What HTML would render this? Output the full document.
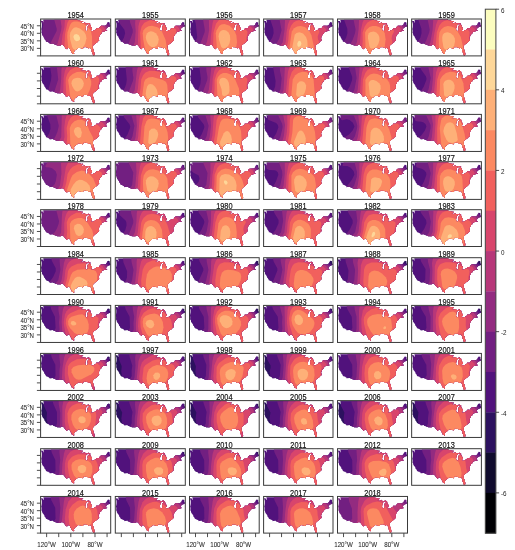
<!DOCTYPE html>
<html><head><meta charset="utf-8"><style>
html,body{margin:0;padding:0;background:#fff;width:515px;height:550px;overflow:hidden}
svg{display:block;filter:blur(0.3px)}
text{font-family:"Liberation Sans",sans-serif;fill:#111;stroke:#111;stroke-width:0.22px}
.t{font-size:7.4px;text-anchor:middle;stroke-width:0.15px}
.yl{font-size:6.2px;text-anchor:end;stroke-width:0.05px;fill:#262626;stroke:#262626}
.xl{font-size:6.2px;text-anchor:middle;stroke-width:0.05px;fill:#262626;stroke:#262626}
.cl{font-size:6.3px;stroke-width:0;fill:#222}
.k{stroke:#3a3a3a;stroke-width:0.9}
</style></head><body>
<svg width="515" height="550" viewBox="0 0 515 550">
<defs><clipPath id="us"><path d="M0.36,1.68 1.33,1.95 2.41,2.03 2.72,2.85 2.53,3.60 3.08,3.45 3.20,2.40 2.96,1.50 2.72,0.75 36.03,0.75 36.03,0.18 36.42,0.27 36.64,1.14 38.02,1.43 39.10,1.58 40.43,2.15 41.52,2.10 42.72,2.25 41.88,2.63 40.43,3.60 39.71,4.13 40.79,3.98 41.28,3.83 41.76,4.40 42.97,3.98 44.17,3.60 44.78,3.08 44.05,3.91 45.14,4.58 46.34,4.58 47.19,4.24 48.28,4.12 48.76,4.58 49.36,4.46 49.48,4.96 49.97,5.26 49.24,5.33 48.58,5.45 47.67,5.11 46.71,5.33 46.34,5.71 45.86,5.63 45.14,6.61 44.66,7.44 45.14,6.98 45.74,6.38 45.14,7.36 44.90,8.11 44.66,9.01 44.53,9.76 44.66,10.66 44.96,11.79 45.62,12.02 46.59,11.79 46.95,10.96 47.19,10.06 47.13,9.31 46.95,8.34 47.13,7.36 47.31,6.83 47.67,6.46 47.61,7.06 47.91,6.31 48.28,6.01 48.58,5.59 49.24,5.86 50.09,6.31 50.27,6.91 50.33,7.81 49.60,8.79 50.21,8.41 50.75,8.19 51.29,8.86 51.35,9.76 51.29,10.36 50.57,10.89 50.15,11.64 51.05,12.09 52.26,12.02 53.71,11.34 54.55,10.89 55.64,9.99 55.46,9.39 56.72,9.24 57.93,9.31 58.78,9.01 58.90,8.34 59.38,7.66 60.34,6.83 60.71,6.76 64.57,6.74 65.05,6.31 65.41,6.16 66.02,5.41 66.38,4.21 67.34,3.08 68.43,3.23 69.03,3.65 69.06,5.71 69.46,5.86 70.00,6.91 68.91,7.66 67.83,7.81 66.98,8.41 66.14,8.86 65.53,9.69 65.41,10.36 65.17,10.81 65.66,11.34 66.38,11.19 66.44,11.72 65.78,11.94 64.69,12.09 63.36,12.39 62.03,12.77 60.95,13.37 61.07,13.52 60.83,14.57 59.86,15.17 59.20,15.88 59.08,16.52 58.66,17.27 58.05,18.63 57.93,18.93 58.17,19.98 58.53,21.40 57.33,22.31 56.36,23.43 54.91,24.33 53.83,25.23 52.62,26.29 52.14,27.49 52.08,28.69 52.68,30.49 53.22,31.69 53.41,32.89 53.83,34.25 53.77,35.60 53.41,36.50 52.56,36.57 52.14,35.15 51.66,33.95 51.05,32.74 51.05,31.54 51.05,30.79 50.33,30.04 49.84,28.76 49.12,28.61 48.28,29.21 47.79,29.14 46.59,28.09 45.26,28.24 44.66,27.64 44.05,28.16 42.97,27.79 42.72,28.24 42.48,29.29 42.00,29.59 40.79,29.29 39.47,28.91 37.66,28.69 36.57,29.59 35.60,30.49 34.40,31.24 33.79,31.99 33.31,32.89 33.55,34.70 33.19,34.85 32.22,34.40 31.26,33.80 30.78,32.29 29.81,31.09 29.39,29.89 28.48,28.88 27.28,28.84 26.91,28.99 26.43,30.09 25.59,29.59 24.74,29.06 24.26,28.09 22.93,26.44 22.33,25.87 20.28,25.87 20.28,26.54 16.81,26.54 12.31,24.78 12.43,24.45 9.51,24.74 9.35,25.08 9.17,24.48 8.45,23.73 7.97,23.66 7.84,23.28 7.00,23.06 6.03,22.61 5.31,22.46 5.25,21.78 4.83,21.03 3.74,19.83 3.86,19.08 3.14,18.48 3.02,17.57 2.41,17.27 1.57,15.92 1.39,14.57 0.78,13.82 0.97,12.77 0.97,11.27 0.60,10.06 0.97,8.86 1.21,7.36 1.27,4.96 1.09,3.91 0.48,2.40Z"/></clipPath><clipPath id="pb"><rect x="0" y="0" width="70.0" height="36.8"/></clipPath></defs>
<g transform="translate(40.60,19.00)"><g transform="scale(1.0014,1.0027)"><g clip-path="url(#pb)"><g clip-path="url(#us)"><path fill="#51127c" fill-rule="evenodd" d="M-5,-5H75V45H-5Z"/><path fill="#721f81" fill-rule="evenodd" d="M0.0,38.3 70.6,38.3 70.6,6.3 68.8,5.7 67.5,4.5 67.1,2.3 67.4,-0.8 -0.6,-0.8 -0.6,0.6 2.2,4.5 2.6,6.0 1.6,12.0 2.4,19.5 1.3,21.0 -0.6,21.7 -0.6,38.3 0.0,38.3Z"/><path fill="#932b80" fill-rule="evenodd" d="M0.0,38.3 70.6,38.3 70.6,9.9 68.2,8.4 65.9,6.0 64.3,3.0 63.3,-0.8 13.2,-0.8 16.1,9.8 16.0,12.0 8.4,26.9 4.2,32.0 -0.6,36.4 -0.6,38.3 0.0,38.3Z"/><path fill="#b73779" fill-rule="evenodd" d="M10.3,38.3 70.6,38.3 70.6,15.0 62.0,3.8 59.4,-0.8 19.7,-0.8 20.9,7.5 20.5,11.3 17.1,24.0 10.3,38.3Z"/><path fill="#d8456c" fill-rule="evenodd" d="M18.1,38.3 70.6,38.3 70.6,29.1 67.2,21.8 65.0,12.0 63.7,9.0 56.5,2.3 54.1,-0.8 24.4,-0.8 23.8,8.3 21.9,15.8 20.9,24.8 18.0,36.0 17.7,38.3 18.1,38.3Z"/><path fill="#f1605d" fill-rule="evenodd" d="M24.1,38.3 61.6,38.3 60.9,30.8 58.0,19.5 61.0,13.5 61.1,11.3 60.3,9.9 53.7,5.7 45.9,-0.8 29.3,-0.8 26.8,3.8 24.4,15.0 23.6,31.5 24.1,38.3Z"/><path fill="#fc8961" fill-rule="evenodd" d="M31.4,38.1 49.1,38.3 51.6,32.3 51.3,17.3 50.2,12.0 48.1,9.0 44.7,6.1 40.4,3.5 36.8,2.4 33.2,2.5 30.8,3.8 29.4,6.0 26.8,13.5 26.6,18.0 27.6,30.0 28.8,33.8 31.4,38.1Z"/><path fill="#feb078" fill-rule="evenodd" d="M34.4,30.8 38.0,31.2 41.6,29.4 44.5,24.8 45.8,19.5 45.2,15.8 43.4,12.8 39.2,9.4 35.6,8.2 33.2,8.8 31.4,10.6 29.7,13.5 29.2,16.5 29.5,20.3 31.5,27.8 32.6,29.7 34.4,30.8Z"/><path fill="#fed799" fill-rule="evenodd" d="M35.6,22.1 38.0,21.8 39.2,20.3 39.4,18.8 38.0,16.0 35.6,15.0 33.5,15.8 32.7,18.0 33.8,20.6 35.6,22.1Z"/></g></g></g><rect x="0" y="0" width="70.10" height="36.90" fill="none" stroke="#3a3a3a" stroke-width="1"/></g>
<text transform="translate(75.65,18.20) scale(1,1.14)" class="t">1954</text>
<line x1="36.90" x2="40.60" y1="25.78" y2="25.78" class="k"/>
<text transform="translate(34.00,28.68) scale(0.98,1.12)" class="yl">45&#176;N</text>
<line x1="36.90" x2="40.60" y1="33.31" y2="33.31" class="k"/>
<text transform="translate(34.00,36.21) scale(0.98,1.12)" class="yl">40&#176;N</text>
<line x1="36.90" x2="40.60" y1="40.84" y2="40.84" class="k"/>
<text transform="translate(34.00,43.74) scale(0.98,1.12)" class="yl">35&#176;N</text>
<line x1="36.90" x2="40.60" y1="48.37" y2="48.37" class="k"/>
<text transform="translate(34.00,51.27) scale(0.98,1.12)" class="yl">30&#176;N</text>
<line x1="36.90" x2="40.60" y1="55.90" y2="55.90" class="k"/>
<g transform="translate(115.30,19.00)"><g transform="scale(1.0000,1.0027)"><g clip-path="url(#pb)"><g clip-path="url(#us)"><path fill="#51127c" fill-rule="evenodd" d="M-5,-5H75V45H-5Z"/><path fill="#721f81" fill-rule="evenodd" d="M0.0,38.3 70.6,38.3 70.6,6.2 68.8,5.7 67.5,4.5 67.0,3.0 67.1,-0.8 3.6,-0.8 4.4,4.5 9.1,10.6 9.8,14.3 8.6,18.8 6.6,22.2 3.6,24.7 -0.6,26.8 -0.6,38.3 0.0,38.3Z"/><path fill="#932b80" fill-rule="evenodd" d="M3.6,38.3 70.6,38.3 70.6,9.6 68.2,8.2 65.9,6.0 64.1,3.0 62.8,-0.8 14.0,-0.8 14.9,3.8 17.4,10.5 17.4,13.5 13.3,24.8 3.6,38.3Z"/><path fill="#b73779" fill-rule="evenodd" d="M13.9,38.3 70.6,38.3 70.6,14.3 58.4,-0.8 20.2,-0.8 19.8,4.5 20.4,12.0 19.5,23.3 14.3,36.0 13.9,38.3Z"/><path fill="#d8456c" fill-rule="evenodd" d="M20.5,38.3 70.6,38.3 70.6,26.3 67.8,21.0 63.7,9.0 51.5,-0.8 25.9,-0.8 23.9,3.8 23.1,7.5 22.6,24.0 20.5,38.3Z"/><path fill="#f1605d" fill-rule="evenodd" d="M27.2,38.3 62.5,38.3 61.6,30.0 58.3,19.5 61.2,13.5 60.8,10.5 59.1,9.3 53.1,7.4 45.3,2.9 40.4,1.2 34.4,1.2 29.0,3.7 26.3,7.5 24.8,13.5 25.7,32.3 26.8,38.3 27.2,38.3Z"/><path fill="#fc8961" fill-rule="evenodd" d="M35.6,37.8 36.1,38.3 47.8,38.3 50.7,34.5 51.8,30.8 50.3,21.0 46.5,12.1 44.7,10.0 42.2,8.3 36.8,6.8 33.2,7.3 30.2,9.0 28.2,11.3 27.4,14.3 27.9,20.3 29.6,30.0 31.4,33.4 35.6,37.8Z"/><path fill="#feb078" fill-rule="evenodd" d="M36.2,27.8 39.2,27.9 41.6,26.3 42.9,24.0 43.4,20.3 42.6,17.3 40.5,14.3 38.0,12.7 35.6,12.3 33.2,13.0 31.8,14.3 30.8,16.5 30.5,18.8 31.2,21.8 32.6,24.6 34.4,26.8 36.2,27.8Z"/></g></g></g><rect x="0" y="0" width="70.00" height="36.90" fill="none" stroke="#3a3a3a" stroke-width="1"/></g>
<text transform="translate(150.30,18.20) scale(1,1.14)" class="t">1955</text>
<g transform="translate(189.50,19.00)"><g transform="scale(0.9957,1.0027)"><g clip-path="url(#pb)"><g clip-path="url(#us)"><path fill="#51127c" fill-rule="evenodd" d="M-5,-5H75V45H-5Z"/><path fill="#721f81" fill-rule="evenodd" d="M0.0,38.3 70.6,38.3 70.6,6.3 68.8,5.8 67.4,4.5 66.9,2.3 67.0,-0.8 4.6,-0.8 6.3,4.5 7.7,18.0 7.0,20.3 5.4,22.5 3.0,24.4 -0.6,26.1 -0.6,38.3 0.0,38.3Z"/><path fill="#932b80" fill-rule="evenodd" d="M1.8,38.3 70.6,38.3 70.6,10.0 68.2,8.6 65.7,6.0 63.9,3.0 62.6,-0.8 13.4,-0.8 15.4,11.3 15.1,13.5 10.3,26.0 2.3,36.8 1.4,38.3 1.8,38.3Z"/><path fill="#b73779" fill-rule="evenodd" d="M11.5,38.3 70.6,38.3 70.6,15.6 58.0,-0.8 19.4,-0.8 19.7,11.3 17.6,22.5 12.0,36.0 11.5,38.3Z"/><path fill="#d8456c" fill-rule="evenodd" d="M18.7,38.3 70.6,38.3 70.6,33.5 67.0,23.7 63.5,9.8 62.2,8.3 54.9,3.0 51.3,-0.8 24.6,-0.8 23.1,4.5 21.5,16.5 21.1,24.0 18.4,36.0 18.2,38.3 18.7,38.3Z"/><path fill="#f1605d" fill-rule="evenodd" d="M24.7,38.3 57.7,38.3 58.0,30.0 57.1,19.5 58.3,13.5 57.9,12.0 45.8,3.0 39.6,-0.8 32.2,-0.8 29.6,1.0 26.6,4.7 24.1,13.5 23.6,31.5 24.7,38.3Z"/><path fill="#fc8961" fill-rule="evenodd" d="M32.6,37.7 33.2,38.3 41.9,38.3 44.7,35.3 46.2,32.3 47.7,23.3 47.1,16.5 45.0,11.3 40.3,6.8 35.0,5.0 32.0,5.4 30.0,6.8 27.2,11.2 26.4,14.3 27.7,30.8 29.6,34.6 32.6,37.7Z"/><path fill="#feb078" fill-rule="evenodd" d="M33.8,29.3 36.2,29.0 38.7,27.0 40.3,24.0 40.9,20.3 40.6,16.5 39.2,13.5 36.8,11.5 34.4,11.0 32.6,11.3 30.6,12.8 29.6,14.6 29.2,17.3 29.7,21.0 31.9,27.8 33.8,29.3Z"/><path fill="#fed799" fill-rule="evenodd" d="M33.8,18.3 34.3,18.0 33.8,17.9 33.8,18.3Z"/></g></g></g><rect x="0" y="0" width="69.70" height="36.90" fill="none" stroke="#3a3a3a" stroke-width="1"/></g>
<text transform="translate(224.35,18.20) scale(1,1.14)" class="t">1956</text>
<g transform="translate(263.60,19.00)"><g transform="scale(0.9914,1.0027)"><g clip-path="url(#pb)"><g clip-path="url(#us)"><path fill="#51127c" fill-rule="evenodd" d="M-5,-5H75V45H-5Z"/><path fill="#721f81" fill-rule="evenodd" d="M0.0,38.3 70.6,38.3 70.6,8.0 68.2,6.9 66.5,5.3 65.6,3.0 65.0,-0.8 6.2,-0.8 9.8,9.8 10.1,14.3 8.7,18.8 6.6,21.8 3.6,23.8 -0.6,25.0 -0.6,38.3 0.0,38.3Z"/><path fill="#932b80" fill-rule="evenodd" d="M0.0,38.3 70.6,38.3 70.6,11.8 64.8,6.0 61.2,-0.8 15.8,-0.8 18.1,11.3 15.7,19.7 13.7,23.3 10.3,27.4 4.8,32.3 -0.6,36.3 -0.6,38.3 0.0,38.3Z"/><path fill="#b73779" fill-rule="evenodd" d="M9.7,38.3 70.6,38.3 70.6,18.8 68.8,16.4 64.4,8.3 56.6,-0.8 21.7,-0.8 21.1,11.3 19.3,23.3 10.6,36.0 9.7,38.3Z"/><path fill="#d8456c" fill-rule="evenodd" d="M16.9,38.3 70.6,38.3 70.6,33.6 66.3,26.3 63.8,20.3 63.4,12.0 62.7,9.8 49.6,-0.8 27.2,-0.8 24.6,5.3 23.1,13.5 22.3,22.9 16.9,36.0 16.3,38.3 16.9,38.3Z"/><path fill="#f1605d" fill-rule="evenodd" d="M21.7,38.3 61.4,38.3 59.4,30.8 54.8,20.3 54.6,17.3 56.3,12.8 55.6,11.3 47.1,4.6 41.6,2.0 35.6,1.3 32.6,2.1 30.2,3.4 27.8,6.5 25.6,12.0 24.9,21.8 22.3,32.3 21.7,38.3Z"/><path fill="#fc8961" fill-rule="evenodd" d="M27.2,38.3 51.5,38.3 51.6,31.5 48.3,16.5 45.9,11.6 41.6,8.1 37.4,7.1 33.8,7.4 30.8,9.3 28.4,12.4 25.9,30.0 26.0,33.8 27.2,38.3Z"/><path fill="#feb078" fill-rule="evenodd" d="M35.0,37.0 38.6,37.1 41.6,35.3 43.6,32.3 44.4,27.8 44.1,21.8 42.8,17.9 39.8,14.5 36.2,13.3 33.2,13.9 31.4,15.8 29.0,27.8 29.2,30.8 30.2,33.0 32.6,35.6 35.0,37.0Z"/><path fill="#fed799" fill-rule="evenodd" d="M35.6,27.8 37.4,26.7 38.1,24.8 37.5,22.5 36.2,21.8 34.8,22.5 34.0,24.8 34.2,27.0 35.6,27.8Z"/></g></g></g><rect x="0" y="0" width="69.40" height="36.90" fill="none" stroke="#3a3a3a" stroke-width="1"/></g>
<text transform="translate(298.30,18.20) scale(1,1.14)" class="t">1957</text>
<g transform="translate(337.50,19.00)"><g transform="scale(1.0000,1.0027)"><g clip-path="url(#pb)"><g clip-path="url(#us)"><path fill="#51127c" fill-rule="evenodd" d="M-5,-5H75V45H-5Z"/><path fill="#721f81" fill-rule="evenodd" d="M0.0,38.3 70.6,38.3 70.6,6.4 68.8,5.9 67.4,4.5 66.9,2.3 67.0,-0.8 6.0,-0.8 9.8,9.8 9.9,14.3 8.6,18.8 6.6,22.0 3.6,24.3 -0.6,26.0 -0.6,38.3 0.0,38.3Z"/><path fill="#932b80" fill-rule="evenodd" d="M1.8,38.3 70.6,38.3 70.6,10.3 68.2,8.7 65.7,6.0 62.7,-0.8 15.7,-0.8 18.1,10.5 17.5,14.3 15.1,20.9 13.0,24.8 1.8,38.3Z"/><path fill="#b73779" fill-rule="evenodd" d="M12.7,38.3 70.6,38.3 70.6,17.1 65.1,8.3 58.1,-0.8 21.6,-0.8 21.1,10.5 19.4,23.3 13.0,36.0 12.1,38.3 12.7,38.3Z"/><path fill="#d8456c" fill-rule="evenodd" d="M19.3,38.3 69.8,38.3 64.3,22.5 63.9,19.5 64.0,12.0 62.9,9.0 55.0,3.0 51.1,-0.8 27.1,-0.8 25.0,3.8 23.4,11.3 22.5,23.3 19.5,34.5 19.0,38.3 19.3,38.3Z"/><path fill="#f1605d" fill-rule="evenodd" d="M25.3,38.3 56.9,38.3 56.6,31.5 54.1,19.5 54.6,16.5 56.5,12.8 56.2,11.3 47.7,4.5 41.0,1.4 38.0,0.9 35.0,1.1 32.0,2.2 29.7,3.8 27.2,7.5 25.1,13.5 25.2,22.5 24.3,32.3 24.9,38.3 25.3,38.3Z"/><path fill="#fc8961" fill-rule="evenodd" d="M32.6,37.9 33.0,38.3 42.9,38.3 45.7,34.5 46.9,30.8 48.1,20.3 47.2,14.3 46.1,12.0 44.1,9.6 41.6,8.0 38.6,7.0 35.0,6.9 32.0,7.9 29.0,10.7 27.6,13.5 28.1,30.8 29.6,34.4 32.6,37.9Z"/><path fill="#feb078" fill-rule="evenodd" d="M33.8,29.5 36.2,29.5 38.9,27.8 40.9,24.8 42.0,21.0 41.8,18.0 40.9,15.8 38.8,13.5 36.2,12.5 32.6,13.3 31.4,14.3 30.5,16.5 30.5,19.5 32.0,27.3 32.6,28.7 33.8,29.5Z"/></g></g></g><rect x="0" y="0" width="70.00" height="36.90" fill="none" stroke="#3a3a3a" stroke-width="1"/></g>
<text transform="translate(372.50,18.20) scale(1,1.14)" class="t">1958</text>
<g transform="translate(411.65,19.00)"><g transform="scale(0.9964,1.0027)"><g clip-path="url(#pb)"><g clip-path="url(#us)"><path fill="#51127c" fill-rule="evenodd" d="M-5,-5H75V45H-5Z"/><path fill="#721f81" fill-rule="evenodd" d="M0.0,38.3 70.6,38.3 70.6,6.2 68.8,5.8 67.4,4.5 66.8,2.3 66.9,-0.8 6.1,-0.8 9.8,9.8 9.9,14.3 8.7,18.8 6.6,22.0 3.6,24.2 -0.6,25.8 -0.6,38.3 0.0,38.3Z"/><path fill="#932b80" fill-rule="evenodd" d="M1.2,38.3 70.6,38.3 70.6,9.9 68.2,8.5 65.7,6.0 62.4,-0.8 15.8,-0.8 18.1,10.5 17.6,13.5 14.5,21.8 12.8,24.8 0.7,38.3 1.2,38.3Z"/><path fill="#b73779" fill-rule="evenodd" d="M11.5,38.3 70.6,38.3 70.6,15.0 57.6,-0.8 21.7,-0.8 21.1,10.5 18.7,23.6 11.5,38.3Z"/><path fill="#d8456c" fill-rule="evenodd" d="M18.7,38.3 70.6,38.3 70.6,27.0 66.8,20.3 63.4,9.6 54.4,3.0 50.4,-0.8 27.1,-0.8 24.6,5.3 22.5,15.8 21.2,25.5 18.4,36.8 18.2,38.3 18.7,38.3Z"/><path fill="#f1605d" fill-rule="evenodd" d="M24.1,38.3 62.9,38.3 61.3,29.3 57.5,18.8 58.2,13.5 57.7,12.0 46.5,4.0 41.6,1.8 35.6,1.2 32.6,2.0 30.2,3.4 27.8,6.5 25.2,13.5 23.8,30.8 24.1,38.3Z"/><path fill="#fc8961" fill-rule="evenodd" d="M30.8,37.7 31.1,38.3 49.9,38.3 51.3,34.5 51.8,31.5 51.6,27.8 49.3,18.0 45.3,10.9 42.8,8.8 39.8,7.4 36.2,7.0 32.6,7.9 29.6,10.5 27.9,13.5 27.2,19.5 27.4,29.3 28.4,33.1 30.8,37.7Z"/><path fill="#feb078" fill-rule="evenodd" d="M35.0,30.8 38.0,30.9 40.8,29.3 42.7,26.3 43.5,22.5 43.3,19.5 41.8,16.5 39.2,14.2 36.2,13.2 34.4,13.4 32.5,14.3 31.3,15.8 30.7,18.0 30.8,21.8 32.0,28.5 33.2,30.0 35.0,30.8Z"/></g></g></g><rect x="0" y="0" width="69.75" height="36.90" fill="none" stroke="#3a3a3a" stroke-width="1"/></g>
<text transform="translate(446.52,18.20) scale(1,1.14)" class="t">1959</text>
<g transform="translate(40.60,66.40)"><g transform="scale(1.0014,1.0163)"><g clip-path="url(#pb)"><g clip-path="url(#us)"><path fill="#51127c" fill-rule="evenodd" d="M-5,-5H75V45H-5Z"/><path fill="#721f81" fill-rule="evenodd" d="M0.0,38.3 70.6,38.3 70.6,8.0 68.2,6.9 66.5,5.3 65.6,3.0 65.2,-0.8 9.3,-0.8 10.8,9.0 10.4,13.5 7.2,24.9 4.2,29.0 -0.6,33.3 -0.6,38.3 0.0,38.3Z"/><path fill="#932b80" fill-rule="evenodd" d="M7.8,38.3 70.6,38.3 70.6,11.7 67.6,9.2 64.9,6.0 61.6,-0.8 16.1,-0.8 17.6,12.8 13.5,25.5 8.0,36.8 7.5,38.3 7.8,38.3Z"/><path fill="#b73779" fill-rule="evenodd" d="M15.7,38.3 70.6,38.3 70.6,18.6 65.0,9.0 59.8,3.0 57.4,-0.8 21.4,-0.8 20.7,3.8 20.6,12.0 19.5,23.3 15.8,35.3 15.1,38.3 15.7,38.3Z"/><path fill="#d8456c" fill-rule="evenodd" d="M21.7,38.3 68.4,38.3 62.7,9.8 51.7,-0.8 26.7,-0.8 24.2,4.5 23.0,11.3 22.7,23.3 21.4,33.8 21.7,38.3Z"/><path fill="#f1605d" fill-rule="evenodd" d="M27.8,38.3 56.1,38.3 57.3,31.5 57.2,19.5 58.5,14.3 58.4,12.0 57.4,10.5 50.7,4.9 44.7,1.1 39.8,-0.4 35.0,0.4 29.3,3.8 26.6,7.8 25.2,12.0 25.0,15.8 25.8,31.5 27.8,38.3Z"/><path fill="#fc8961" fill-rule="evenodd" d="M36.8,35.3 41.0,34.9 44.7,32.3 49.1,23.3 50.5,18.0 50.5,14.3 48.7,10.5 44.7,6.8 40.4,5.3 36.2,5.6 32.0,7.5 29.0,10.2 27.5,13.5 29.7,30.0 30.8,31.9 32.6,33.6 36.8,35.3Z"/><path fill="#feb078" fill-rule="evenodd" d="M35.0,24.1 36.8,24.6 39.2,23.8 41.4,21.8 42.8,19.3 43.1,16.5 42.4,14.3 41.0,12.5 39.2,11.5 36.8,11.1 34.4,11.6 32.6,12.5 31.2,14.3 30.8,16.5 31.4,19.0 33.2,22.3 35.0,24.1Z"/></g></g></g><rect x="0" y="0" width="70.10" height="37.40" fill="none" stroke="#3a3a3a" stroke-width="1"/></g>
<text transform="translate(75.65,65.60) scale(1,1.14)" class="t">1960</text>
<line x1="36.90" x2="40.60" y1="73.27" y2="73.27" class="k"/>
<line x1="36.90" x2="40.60" y1="80.90" y2="80.90" class="k"/>
<line x1="36.90" x2="40.60" y1="88.53" y2="88.53" class="k"/>
<line x1="36.90" x2="40.60" y1="96.17" y2="96.17" class="k"/>
<line x1="36.90" x2="40.60" y1="103.80" y2="103.80" class="k"/>
<g transform="translate(115.30,66.40)"><g transform="scale(1.0000,1.0163)"><g clip-path="url(#pb)"><g clip-path="url(#us)"><path fill="#51127c" fill-rule="evenodd" d="M-5,-5H75V45H-5Z"/><path fill="#721f81" fill-rule="evenodd" d="M0.0,38.3 70.6,38.3 70.6,7.6 68.2,6.7 66.7,5.3 65.6,3.0 64.8,-0.8 10.1,-0.8 11.5,12.8 10.9,17.3 9.6,21.0 7.2,24.7 3.6,27.8 -0.6,30.3 -0.6,38.3 0.0,38.3Z"/><path fill="#932b80" fill-rule="evenodd" d="M4.2,38.3 70.6,38.3 70.6,10.7 65.7,6.8 61.0,-0.8 17.3,-0.8 17.1,4.5 18.1,11.3 17.6,14.3 13.5,24.8 4.7,36.8 3.8,38.3 4.2,38.3Z"/><path fill="#b73779" fill-rule="evenodd" d="M12.1,38.3 70.6,38.3 70.6,15.2 64.2,7.5 56.3,-0.8 23.0,-0.8 21.6,4.5 19.4,23.3 12.1,38.3Z"/><path fill="#d8456c" fill-rule="evenodd" d="M18.7,38.3 70.6,38.3 70.6,25.3 68.2,21.0 64.1,10.5 62.8,8.7 60.3,6.9 47.0,-0.8 30.3,-0.8 26.6,2.9 24.7,7.0 23.4,12.8 22.5,22.5 18.9,34.5 18.1,38.3 18.7,38.3Z"/><path fill="#f1605d" fill-rule="evenodd" d="M23.5,38.3 63.9,38.3 61.6,21.0 61.5,13.5 60.3,10.5 55.5,8.3 40.4,4.5 34.4,4.4 30.2,6.1 27.8,8.8 25.9,12.8 25.2,21.8 23.5,31.5 23.5,38.3Z"/><path fill="#fc8961" fill-rule="evenodd" d="M29.6,38.3 50.8,38.3 52.6,26.3 51.9,18.0 50.6,15.0 47.6,13.5 37.4,10.4 33.2,10.8 30.0,12.8 28.7,15.8 27.0,28.5 27.5,33.0 29.6,38.3Z"/><path fill="#feb078" fill-rule="evenodd" d="M35.0,33.1 38.0,33.0 40.3,31.5 41.7,29.3 42.3,26.3 41.7,23.3 39.8,20.0 37.4,17.9 35.0,17.2 33.2,17.8 32.0,19.6 30.9,23.3 30.4,27.0 31.4,30.8 33.2,32.4 35.0,33.1Z"/></g></g></g><rect x="0" y="0" width="70.00" height="37.40" fill="none" stroke="#3a3a3a" stroke-width="1"/></g>
<text transform="translate(150.30,65.60) scale(1,1.14)" class="t">1961</text>
<g transform="translate(189.50,66.40)"><g transform="scale(0.9957,1.0163)"><g clip-path="url(#pb)"><g clip-path="url(#us)"><path fill="#51127c" fill-rule="evenodd" d="M-5,-5H75V45H-5Z"/><path fill="#721f81" fill-rule="evenodd" d="M0.0,38.3 70.6,38.3 70.6,6.3 68.8,5.8 67.4,4.5 66.8,2.3 66.9,-0.8 9.7,-0.8 11.4,12.0 10.9,17.3 9.3,21.8 7.2,25.0 3.6,28.4 -0.6,31.3 -0.6,38.3 0.0,38.3Z"/><path fill="#932b80" fill-rule="evenodd" d="M5.4,38.3 70.6,38.3 70.6,10.0 68.2,8.5 65.7,6.0 62.4,-0.8 16.7,-0.8 17.0,4.5 18.1,10.6 17.8,13.5 13.3,25.5 5.4,38.3Z"/><path fill="#b73779" fill-rule="evenodd" d="M13.9,38.3 70.6,38.3 70.6,15.5 57.7,-0.8 22.1,-0.8 19.4,23.3 14.3,35.3 13.3,38.3 13.9,38.3Z"/><path fill="#d8456c" fill-rule="evenodd" d="M19.9,38.3 70.6,38.3 70.6,33.3 67.0,23.3 63.4,9.6 54.5,3.0 50.5,-0.8 27.5,-0.8 25.1,3.8 23.4,11.3 22.6,22.5 20.0,33.8 19.4,38.3 19.9,38.3Z"/><path fill="#f1605d" fill-rule="evenodd" d="M25.3,38.3 57.7,38.3 58.4,28.5 57.3,18.8 58.2,13.5 57.9,12.0 46.0,3.8 41.0,1.5 38.0,1.0 35.0,1.3 32.0,2.4 29.6,3.9 27.2,7.3 25.2,13.5 25.2,22.5 24.3,31.5 25.3,38.3Z"/><path fill="#fc8961" fill-rule="evenodd" d="M32.6,38.1 44.0,38.3 47.7,33.0 50.1,27.0 49.6,21.8 45.5,12.0 42.0,8.3 37.4,6.4 33.8,6.6 30.8,8.0 28.6,10.5 27.4,13.5 28.1,30.8 29.6,34.4 32.6,38.1Z"/><path fill="#feb078" fill-rule="evenodd" d="M35.0,29.3 37.5,28.5 39.6,26.3 40.2,24.0 40.0,19.5 39.4,15.8 38.0,13.2 35.6,11.4 33.2,11.1 31.4,11.8 30.4,12.8 29.8,15.8 32.2,22.5 32.8,27.8 33.2,28.7 35.0,29.3Z"/></g></g></g><rect x="0" y="0" width="69.70" height="37.40" fill="none" stroke="#3a3a3a" stroke-width="1"/></g>
<text transform="translate(224.35,65.60) scale(1,1.14)" class="t">1962</text>
<g transform="translate(263.60,66.40)"><g transform="scale(0.9914,1.0163)"><g clip-path="url(#pb)"><g clip-path="url(#us)"><path fill="#51127c" fill-rule="evenodd" d="M-5,-5H75V45H-5Z"/><path fill="#721f81" fill-rule="evenodd" d="M0.0,38.3 70.6,38.3 70.6,6.2 68.8,5.7 67.5,4.5 67.1,2.3 67.4,-0.8 9.2,-0.8 12.1,14.3 11.7,19.5 10.6,22.5 7.8,26.0 3.6,29.5 -0.6,32.1 -0.6,38.3 0.0,38.3Z"/><path fill="#932b80" fill-rule="evenodd" d="M6.6,38.3 70.6,38.3 70.6,9.8 68.2,8.3 65.9,6.0 64.3,3.0 63.2,-0.8 16.2,-0.8 16.6,4.5 18.2,12.0 17.0,22.5 16.0,24.8 7.7,36.0 6.6,38.3Z"/><path fill="#b73779" fill-rule="evenodd" d="M14.5,38.3 70.6,38.3 70.6,14.7 62.0,3.8 59.3,-0.8 21.6,-0.8 20.1,23.3 14.8,36.0 14.1,38.3 14.5,38.3Z"/><path fill="#d8456c" fill-rule="evenodd" d="M19.9,38.3 70.6,38.3 70.6,27.5 67.3,21.0 64.8,11.3 63.7,9.0 53.8,-0.8 26.7,-0.8 24.6,5.3 22.7,23.3 19.9,38.3Z"/><path fill="#f1605d" fill-rule="evenodd" d="M25.3,38.3 62.4,38.3 61.4,30.8 58.1,19.5 61.1,13.5 61.1,11.3 60.3,9.9 48.9,2.3 43.4,-0.8 36.1,-0.8 31.4,2.1 28.4,5.6 25.9,12.8 24.5,30.8 25.3,38.3Z"/><path fill="#fc8961" fill-rule="evenodd" d="M32.0,38.3 49.5,38.3 51.1,34.5 51.8,30.0 50.4,12.8 48.1,9.0 43.4,5.8 39.2,5.3 35.0,6.5 32.0,8.8 29.4,12.8 27.9,29.3 29.0,33.5 32.0,38.3Z"/><path fill="#feb078" fill-rule="evenodd" d="M33.8,29.5 36.2,30.0 38.5,29.3 40.2,27.8 41.6,25.4 42.7,21.8 42.9,18.8 41.6,16.2 39.8,14.8 38.0,14.5 36.2,14.9 33.7,17.3 32.8,27.8 33.8,29.5Z"/></g></g></g><rect x="0" y="0" width="69.40" height="37.40" fill="none" stroke="#3a3a3a" stroke-width="1"/></g>
<text transform="translate(298.30,65.60) scale(1,1.14)" class="t">1963</text>
<g transform="translate(337.50,66.40)"><g transform="scale(1.0000,1.0163)"><g clip-path="url(#pb)"><g clip-path="url(#us)"><path fill="#51127c" fill-rule="evenodd" d="M-5,-5H75V45H-5Z"/><path fill="#721f81" fill-rule="evenodd" d="M0.0,38.3 70.6,38.3 70.6,6.1 68.8,5.6 67.5,4.5 66.9,3.0 67.0,-0.8 10.6,-0.8 14.7,10.5 14.6,13.5 12.1,20.0 9.5,24.0 4.8,28.3 -0.6,31.6 -0.6,38.3 0.0,38.3Z"/><path fill="#932b80" fill-rule="evenodd" d="M6.0,38.3 70.6,38.3 70.6,9.5 68.2,8.2 65.9,6.0 64.1,3.0 62.7,-0.8 17.3,-0.8 19.1,11.3 17.0,22.5 15.7,25.1 6.0,38.3Z"/><path fill="#b73779" fill-rule="evenodd" d="M14.5,38.3 70.6,38.3 70.6,13.7 61.6,3.8 58.4,-0.8 22.3,-0.8 20.2,23.3 14.4,36.8 14.0,38.3 14.5,38.3Z"/><path fill="#d8456c" fill-rule="evenodd" d="M19.9,38.3 70.6,38.3 70.6,23.1 68.8,20.3 63.8,9.0 51.7,-0.8 27.4,-0.8 25.4,3.0 24.5,6.0 23.3,13.5 22.6,24.0 19.9,38.3Z"/><path fill="#f1605d" fill-rule="evenodd" d="M25.3,38.3 64.1,38.3 61.9,20.3 61.8,12.8 60.9,10.5 58.8,9.0 47.1,3.5 41.0,1.4 35.0,1.3 30.2,3.4 27.8,6.4 25.5,12.8 24.6,31.5 25.3,38.3Z"/><path fill="#fc8961" fill-rule="evenodd" d="M32.0,38.2 49.5,38.3 51.9,32.2 52.8,24.0 52.5,18.8 51.7,15.8 49.6,12.8 47.1,10.7 39.8,7.4 36.2,7.0 32.6,7.9 29.6,10.4 27.9,13.5 28.0,30.0 29.2,33.8 32.0,38.2Z"/><path fill="#feb078" fill-rule="evenodd" d="M34.4,30.0 37.4,30.1 40.1,28.5 42.1,25.5 43.2,21.8 43.0,18.8 41.7,16.5 38.9,14.3 36.2,13.4 34.4,13.4 32.6,14.2 31.4,15.8 31.1,17.3 32.3,27.8 33.1,29.3 34.4,30.0Z"/></g></g></g><rect x="0" y="0" width="70.00" height="37.40" fill="none" stroke="#3a3a3a" stroke-width="1"/></g>
<text transform="translate(372.50,65.60) scale(1,1.14)" class="t">1964</text>
<g transform="translate(411.65,66.40)"><g transform="scale(0.9964,1.0163)"><g clip-path="url(#pb)"><g clip-path="url(#us)"><path fill="#51127c" fill-rule="evenodd" d="M-5,-5H75V45H-5Z"/><path fill="#721f81" fill-rule="evenodd" d="M0.0,38.3 70.6,38.3 70.6,6.1 68.8,5.6 67.5,4.5 67.0,2.3 67.2,-0.8 8.2,-0.8 9.4,3.0 14.3,9.8 14.9,12.0 14.7,13.5 12.1,20.1 9.5,24.0 4.8,28.4 -0.6,32.0 -0.6,38.3 0.0,38.3Z"/><path fill="#932b80" fill-rule="evenodd" d="M6.6,38.3 70.6,38.3 70.6,9.5 68.2,8.2 65.9,6.0 64.2,3.0 63.1,-0.8 16.4,-0.8 19.1,11.3 17.0,22.5 15.7,25.1 7.0,36.8 6.2,38.3 6.6,38.3Z"/><path fill="#b73779" fill-rule="evenodd" d="M14.5,38.3 70.6,38.3 70.6,13.9 62.4,4.5 59.0,-0.8 21.8,-0.8 21.4,12.0 20.2,23.3 14.8,36.0 14.0,38.3 14.5,38.3Z"/><path fill="#d8456c" fill-rule="evenodd" d="M19.9,38.3 70.6,38.3 70.6,23.6 68.8,20.7 63.8,9.0 53.4,-0.8 26.9,-0.8 24.5,6.0 22.7,23.3 19.9,38.3Z"/><path fill="#f1605d" fill-rule="evenodd" d="M25.3,38.3 63.8,38.3 61.8,20.3 61.7,12.8 60.9,10.5 48.3,2.2 42.2,-0.8 36.8,-0.7 30.8,2.7 28.0,6.0 25.7,12.8 24.6,30.8 25.3,38.3Z"/><path fill="#fc8961" fill-rule="evenodd" d="M32.0,38.2 49.3,38.3 51.4,33.8 52.8,25.5 51.9,16.5 50.4,12.8 48.5,9.8 45.9,7.3 42.8,5.7 38.6,5.3 34.4,6.6 30.8,9.4 28.6,12.8 28.0,30.0 29.2,33.8 32.0,38.2Z"/><path fill="#feb078" fill-rule="evenodd" d="M35.6,30.1 38.0,29.6 40.4,27.8 42.1,24.8 43.0,21.8 43.1,18.8 42.2,16.1 40.8,14.3 38.6,13.1 36.2,13.2 33.8,14.1 32.6,15.3 31.8,17.3 32.6,28.1 33.3,29.3 35.6,30.1Z"/></g></g></g><rect x="0" y="0" width="69.75" height="37.40" fill="none" stroke="#3a3a3a" stroke-width="1"/></g>
<text transform="translate(446.52,65.60) scale(1,1.14)" class="t">1965</text>
<g transform="translate(40.60,114.40)"><g transform="scale(1.0014,1.0068)"><g clip-path="url(#pb)"><g clip-path="url(#us)"><path fill="#51127c" fill-rule="evenodd" d="M-5,-5H75V45H-5Z"/><path fill="#721f81" fill-rule="evenodd" d="M0.0,38.3 70.6,38.3 70.6,6.1 68.8,5.7 67.4,4.5 66.8,2.3 67.0,-0.8 5.6,-0.8 9.7,9.8 9.9,14.3 8.6,18.8 6.6,22.0 3.6,24.4 -0.6,26.1 -0.6,38.3 0.0,38.3Z"/><path fill="#932b80" fill-rule="evenodd" d="M2.4,38.3 70.6,38.3 70.6,9.7 68.2,8.4 65.7,6.0 63.9,3.0 62.6,-0.8 15.3,-0.8 18.2,11.3 16.9,17.0 15.3,21.0 12.3,26.3 2.4,38.3Z"/><path fill="#b73779" fill-rule="evenodd" d="M13.3,38.3 70.6,38.3 70.6,14.2 61.1,3.8 58.1,-0.8 21.2,-0.8 20.6,22.5 13.8,36.0 12.9,38.3 13.3,38.3Z"/><path fill="#d8456c" fill-rule="evenodd" d="M20.5,38.3 70.6,38.3 70.6,23.6 67.6,18.7 63.4,9.5 56.1,3.8 52.1,-0.8 26.6,-0.8 24.6,5.3 23.6,13.5 23.9,22.5 20.6,34.5 20.0,38.3 20.5,38.3Z"/><path fill="#f1605d" fill-rule="evenodd" d="M26.6,38.3 64.2,38.3 63.1,27.8 59.4,12.8 57.9,11.3 53.7,8.6 47.1,2.4 41.6,-0.6 36.6,-0.8 33.8,0.5 30.2,3.1 27.8,6.8 26.0,13.5 26.6,21.8 25.7,32.3 26.6,38.3Z"/><path fill="#fc8961" fill-rule="evenodd" d="M35.0,37.8 35.5,38.3 48.2,38.3 51.2,33.8 52.5,30.0 52.8,26.3 52.1,22.5 48.5,15.8 46.4,9.8 44.1,6.8 41.0,5.4 37.4,5.4 33.8,6.8 30.8,9.7 29.1,13.5 29.7,30.0 31.4,33.8 35.0,37.8Z"/><path fill="#feb078" fill-rule="evenodd" d="M37.4,23.5 39.2,23.3 40.4,22.1 41.2,18.0 39.8,13.7 38.6,12.8 36.8,12.5 34.4,13.6 33.1,16.5 34.4,20.4 37.4,23.5Z"/></g></g></g><rect x="0" y="0" width="70.10" height="37.05" fill="none" stroke="#3a3a3a" stroke-width="1"/></g>
<text transform="translate(75.65,113.60) scale(1,1.14)" class="t">1966</text>
<line x1="36.90" x2="40.60" y1="121.21" y2="121.21" class="k"/>
<text transform="translate(34.00,124.11) scale(0.98,1.12)" class="yl">45&#176;N</text>
<line x1="36.90" x2="40.60" y1="128.77" y2="128.77" class="k"/>
<text transform="translate(34.00,131.67) scale(0.98,1.12)" class="yl">40&#176;N</text>
<line x1="36.90" x2="40.60" y1="136.33" y2="136.33" class="k"/>
<text transform="translate(34.00,139.23) scale(0.98,1.12)" class="yl">35&#176;N</text>
<line x1="36.90" x2="40.60" y1="143.89" y2="143.89" class="k"/>
<text transform="translate(34.00,146.79) scale(0.98,1.12)" class="yl">30&#176;N</text>
<line x1="36.90" x2="40.60" y1="151.45" y2="151.45" class="k"/>
<g transform="translate(115.30,114.40)"><g transform="scale(1.0000,1.0068)"><g clip-path="url(#pb)"><g clip-path="url(#us)"><path fill="#51127c" fill-rule="evenodd" d="M-5,-5H75V45H-5Z"/><path fill="#721f81" fill-rule="evenodd" d="M0.0,38.3 70.6,38.3 70.6,6.1 68.8,5.6 67.5,4.5 67.0,2.3 67.4,-0.8 7.6,-0.8 8.9,3.0 14.2,9.8 14.9,12.0 14.7,13.5 12.1,20.1 9.5,24.0 4.8,28.4 -0.6,31.9 -0.6,38.3 0.0,38.3Z"/><path fill="#932b80" fill-rule="evenodd" d="M6.6,38.3 70.6,38.3 70.6,9.6 68.2,8.2 65.9,6.0 64.3,3.0 63.2,-0.8 15.6,-0.8 19.1,11.3 17.2,21.8 15.9,24.8 6.9,36.8 6.1,38.3 6.6,38.3Z"/><path fill="#b73779" fill-rule="evenodd" d="M14.5,38.3 70.6,38.3 70.6,13.9 62.5,4.5 59.3,-0.8 20.8,-0.8 21.6,11.3 20.3,22.5 19.3,25.9 14.4,36.8 13.9,38.3 14.5,38.3Z"/><path fill="#d8456c" fill-rule="evenodd" d="M19.9,38.3 70.6,38.3 70.6,23.7 68.8,20.8 63.8,9.0 56.4,2.3 54.0,-0.8 25.3,-0.8 24.3,3.8 22.8,22.5 20.3,33.8 19.9,38.3Z"/><path fill="#f1605d" fill-rule="evenodd" d="M25.3,38.3 63.8,38.3 61.7,20.3 61.7,12.8 60.9,10.5 45.4,-0.8 31.2,-0.8 27.8,3.8 26.1,12.0 24.5,30.8 25.3,38.3Z"/><path fill="#fc8961" fill-rule="evenodd" d="M32.0,38.3 49.4,38.3 51.9,32.3 52.8,23.3 52.3,18.0 51.4,15.0 49.7,11.3 47.2,8.3 44.1,5.8 41.0,4.5 36.2,4.1 32.6,5.1 31.2,6.8 29.2,12.0 27.9,29.3 29.0,33.6 32.0,38.3Z"/><path fill="#feb078" fill-rule="evenodd" d="M33.8,29.4 36.2,29.7 38.6,28.8 40.4,26.9 42.2,23.3 42.9,20.3 42.6,18.0 41.4,15.8 39.2,14.1 36.2,14.2 33.8,16.5 32.9,27.8 33.8,29.4Z"/></g></g></g><rect x="0" y="0" width="70.00" height="37.05" fill="none" stroke="#3a3a3a" stroke-width="1"/></g>
<text transform="translate(150.30,113.60) scale(1,1.14)" class="t">1967</text>
<g transform="translate(189.50,114.40)"><g transform="scale(0.9957,1.0068)"><g clip-path="url(#pb)"><g clip-path="url(#us)"><path fill="#51127c" fill-rule="evenodd" d="M-5,-5H75V45H-5Z"/><path fill="#721f81" fill-rule="evenodd" d="M0.0,38.3 70.6,38.3 70.6,6.1 68.8,5.6 67.5,4.5 67.1,2.3 67.4,-0.8 7.5,-0.8 8.8,3.0 14.2,9.8 14.9,12.0 14.7,13.5 12.4,19.5 9.7,23.7 5.4,27.6 -0.6,31.3 -0.6,38.3 0.0,38.3Z"/><path fill="#932b80" fill-rule="evenodd" d="M5.4,38.3 70.6,38.3 70.6,9.6 68.2,8.2 65.9,6.0 64.3,3.0 63.2,-0.8 15.5,-0.8 19.2,11.3 17.2,21.8 15.7,24.8 6.6,36.0 5.4,38.3Z"/><path fill="#b73779" fill-rule="evenodd" d="M13.3,38.3 70.6,38.3 70.6,13.9 62.5,4.5 59.3,-0.8 20.7,-0.8 21.6,11.3 20.3,22.5 19.3,25.6 14.2,35.3 13.3,38.3Z"/><path fill="#d8456c" fill-rule="evenodd" d="M19.3,38.3 70.6,38.3 70.6,23.7 68.8,20.8 63.8,9.0 56.5,2.3 54.1,-0.8 25.2,-0.8 24.2,3.8 23.0,21.0 19.3,35.3 18.8,38.3 19.3,38.3Z"/><path fill="#f1605d" fill-rule="evenodd" d="M24.1,38.3 64.1,38.3 61.8,21.0 61.7,12.8 60.9,10.5 45.6,-0.8 31.0,-0.8 28.4,2.6 27.2,5.9 25.8,19.5 23.8,30.8 24.1,38.3Z"/><path fill="#fc8961" fill-rule="evenodd" d="M29.6,38.1 50.7,38.3 52.5,27.8 51.7,16.5 50.4,12.8 48.5,9.8 45.5,6.8 42.2,4.8 38.0,4.0 34.4,4.4 32.6,5.3 31.1,7.5 29.6,12.8 27.1,27.8 27.6,33.0 29.6,38.1Z"/><path fill="#feb078" fill-rule="evenodd" d="M34.4,33.2 36.8,33.6 39.2,32.8 41.0,31.2 42.2,28.5 42.5,24.8 41.8,21.0 39.8,17.6 38.0,16.5 36.2,16.9 34.4,18.7 30.8,27.0 30.7,29.3 31.3,30.8 34.4,33.2Z"/></g></g></g><rect x="0" y="0" width="69.70" height="37.05" fill="none" stroke="#3a3a3a" stroke-width="1"/></g>
<text transform="translate(224.35,113.60) scale(1,1.14)" class="t">1968</text>
<g transform="translate(263.60,114.40)"><g transform="scale(0.9914,1.0068)"><g clip-path="url(#pb)"><g clip-path="url(#us)"><path fill="#51127c" fill-rule="evenodd" d="M-5,-5H75V45H-5Z"/><path fill="#721f81" fill-rule="evenodd" d="M0.0,38.3 70.6,38.3 70.6,-0.8 4.8,-0.8 4.1,3.8 4.5,5.3 12.7,8.6 14.4,10.5 14.9,12.8 12.8,18.8 10.0,23.3 5.4,27.8 -0.6,31.9 -0.6,38.3 0.0,38.3Z"/><path fill="#932b80" fill-rule="evenodd" d="M6.0,38.3 70.6,38.3 70.6,8.2 68.2,7.1 66.4,5.3 65.4,3.0 64.9,-0.8 13.9,-0.8 18.7,9.4 19.2,12.0 18.9,14.3 16.7,23.3 7.1,36.0 6.0,38.3Z"/><path fill="#b73779" fill-rule="evenodd" d="M13.9,38.3 70.6,38.3 70.6,12.2 64.5,6.0 60.8,-0.8 19.5,-0.8 21.6,10.5 20.5,21.0 19.3,25.5 13.8,36.8 13.4,38.3 13.9,38.3Z"/><path fill="#d8456c" fill-rule="evenodd" d="M19.3,38.3 70.6,38.3 70.6,20.9 68.8,18.2 64.5,9.0 58.5,3.0 55.7,-0.8 23.8,-0.8 24.0,9.8 23.4,18.0 22.4,24.0 19.5,35.3 19.3,38.3Z"/><path fill="#f1605d" fill-rule="evenodd" d="M24.1,38.3 65.0,38.3 62.5,21.8 62.2,12.8 61.6,10.4 53.7,4.7 48.1,-0.8 28.3,-0.8 26.5,4.5 26.0,18.0 23.9,30.8 24.1,38.3Z"/><path fill="#fc8961" fill-rule="evenodd" d="M30.2,38.3 50.6,38.3 51.6,34.5 52.4,29.3 52.5,24.0 51.8,17.3 50.4,12.8 48.2,9.0 45.3,5.9 41.6,3.4 38.0,2.0 35.0,1.7 32.6,2.3 30.8,3.5 29.8,5.3 29.0,18.0 27.1,28.5 27.8,33.4 30.2,38.3Z"/><path fill="#feb078" fill-rule="evenodd" d="M35.0,33.1 37.4,33.2 39.8,32.1 41.5,30.0 42.4,27.0 42.5,24.0 41.6,20.4 39.8,17.2 38.0,15.9 36.2,16.2 34.4,18.3 30.8,27.0 30.8,29.3 31.4,30.8 33.2,32.4 35.0,33.1Z"/></g></g></g><rect x="0" y="0" width="69.40" height="37.05" fill="none" stroke="#3a3a3a" stroke-width="1"/></g>
<text transform="translate(298.30,113.60) scale(1,1.14)" class="t">1969</text>
<g transform="translate(337.50,114.40)"><g transform="scale(1.0000,1.0068)"><g clip-path="url(#pb)"><g clip-path="url(#us)"><path fill="#51127c" fill-rule="evenodd" d="M-5,-5H75V45H-5Z"/><path fill="#721f81" fill-rule="evenodd" d="M0.0,38.3 70.6,38.3 70.6,-0.8 3.1,-0.8 3.0,3.8 3.6,5.4 4.8,5.7 9.1,4.7 12.1,5.5 15.4,8.3 17.0,12.0 15.1,16.1 11.5,19.9 5.0,24.0 -0.6,25.7 -0.6,38.3 0.0,38.3Z"/><path fill="#932b80" fill-rule="evenodd" d="M1.8,38.3 70.6,38.3 70.6,8.2 68.2,7.1 66.4,5.3 65.4,3.0 64.7,-0.8 15.5,-0.8 18.9,7.5 19.8,11.3 19.5,14.3 17.4,21.8 15.5,24.8 2.7,36.8 1.8,38.3Z"/><path fill="#b73779" fill-rule="evenodd" d="M12.7,38.3 70.6,38.3 70.6,12.3 64.5,6.0 60.5,-0.8 20.7,-0.8 21.9,12.0 20.3,22.5 19.0,26.3 12.9,36.8 12.3,38.3 12.7,38.3Z"/><path fill="#d8456c" fill-rule="evenodd" d="M19.3,38.3 70.6,38.3 70.6,21.2 64.5,9.0 57.5,2.3 55.2,-0.8 25.2,-0.8 24.3,3.8 23.1,21.0 19.3,36.0 18.9,38.3 19.3,38.3Z"/><path fill="#f1605d" fill-rule="evenodd" d="M24.7,38.3 64.4,38.3 62.2,19.5 62.2,12.1 61.6,10.4 54.3,5.6 46.5,-0.8 30.9,-0.8 27.7,3.8 26.2,11.3 24.3,31.5 24.7,38.3Z"/><path fill="#fc8961" fill-rule="evenodd" d="M30.8,37.6 31.1,38.3 50.2,38.3 53.5,29.3 54.0,23.3 51.9,15.6 49.8,11.3 47.7,8.5 44.7,6.0 41.6,4.5 37.4,3.9 33.2,4.7 31.4,6.4 29.6,10.9 28.9,13.5 27.8,29.3 28.5,33.0 30.8,37.6Z"/><path fill="#feb078" fill-rule="evenodd" d="M36.2,31.6 39.2,31.8 42.2,30.8 45.3,28.2 46.6,25.5 46.2,21.8 44.7,17.9 42.2,14.8 39.2,13.2 36.8,13.3 35.2,14.3 33.8,15.9 33.1,18.0 32.4,28.5 33.8,30.5 36.2,31.6Z"/></g></g></g><rect x="0" y="0" width="70.00" height="37.05" fill="none" stroke="#3a3a3a" stroke-width="1"/></g>
<text transform="translate(372.50,113.60) scale(1,1.14)" class="t">1970</text>
<g transform="translate(411.65,114.40)"><g transform="scale(0.9964,1.0068)"><g clip-path="url(#pb)"><g clip-path="url(#us)"><path fill="#51127c" fill-rule="evenodd" d="M-5,-5H75V45H-5Z"/><path fill="#721f81" fill-rule="evenodd" d="M0.0,38.3 70.6,38.3 70.6,-0.8 2.5,-0.8 2.9,4.5 3.6,6.1 4.8,6.8 9.7,7.3 12.1,8.1 14.0,9.8 14.8,12.0 13.3,16.0 9.6,21.0 4.9,24.8 -0.6,27.3 -0.6,38.3 0.0,38.3Z"/><path fill="#932b80" fill-rule="evenodd" d="M5.4,38.3 70.6,38.3 70.6,8.2 68.2,7.1 66.4,5.3 65.5,3.0 65.1,-0.8 13.8,-0.8 19.0,10.5 19.0,13.5 17.2,21.8 15.9,24.8 5.9,36.8 5.0,38.3 5.4,38.3Z"/><path fill="#b73779" fill-rule="evenodd" d="M15.1,38.3 70.6,38.3 70.6,12.4 68.2,10.3 64.0,5.3 61.1,-0.8 19.6,-0.8 21.5,9.8 20.3,22.5 19.3,26.7 15.0,36.8 14.5,38.3 15.1,38.3Z"/><path fill="#d8456c" fill-rule="evenodd" d="M21.1,38.3 70.6,38.3 70.6,21.8 68.8,18.9 64.5,9.0 58.8,3.0 56.4,-0.8 23.9,-0.8 23.9,9.0 22.9,23.3 21.1,38.3Z"/><path fill="#f1605d" fill-rule="evenodd" d="M27.2,38.3 63.3,38.3 63.5,31.5 62.0,19.5 61.9,11.3 60.9,9.6 54.4,4.5 49.8,-0.8 28.3,-0.8 26.6,4.2 25.6,14.3 25.7,30.8 27.2,38.3Z"/><path fill="#fc8961" fill-rule="evenodd" d="M35.6,37.9 36.0,38.3 48.0,38.3 52.6,31.5 54.2,26.3 53.1,19.1 50.6,10.5 49.1,7.5 46.7,4.5 44.1,2.5 41.0,1.1 38.0,0.5 33.8,1.3 30.5,3.8 29.5,6.0 28.2,13.5 29.7,30.0 31.4,33.4 35.6,37.9Z"/><path fill="#feb078" fill-rule="evenodd" d="M38.0,27.8 40.4,28.3 43.4,27.8 45.7,26.3 46.2,24.8 45.3,18.9 42.8,10.5 41.0,8.5 38.6,7.9 36.2,8.2 34.4,9.5 32.6,12.9 31.8,16.5 32.4,19.5 34.7,24.8 36.2,26.7 38.0,27.8Z"/></g></g></g><rect x="0" y="0" width="69.75" height="37.05" fill="none" stroke="#3a3a3a" stroke-width="1"/></g>
<text transform="translate(446.52,113.60) scale(1,1.14)" class="t">1971</text>
<g transform="translate(40.60,161.70)"><g transform="scale(1.0014,1.0245)"><g clip-path="url(#pb)"><g clip-path="url(#us)"><path fill="#51127c" fill-rule="evenodd" d="M-5,-5H75V45H-5Z"/><path fill="#721f81" fill-rule="evenodd" d="M0.0,38.3 70.6,38.3 70.6,6.1 68.8,5.6 67.5,4.5 66.9,3.0 66.9,-0.8 -0.6,-0.8 -0.6,38.3 0.0,38.3Z"/><path fill="#932b80" fill-rule="evenodd" d="M0.0,38.3 70.6,38.3 70.6,9.4 68.2,8.2 65.9,6.0 64.1,3.0 62.7,-0.8 7.6,-0.8 4.6,4.5 5.4,5.5 9.1,5.6 11.5,6.3 15.1,9.4 16.2,12.8 15.2,18.8 14.2,21.8 11.4,24.8 5.4,29.2 -0.6,32.7 -0.6,38.3 0.0,38.3Z"/><path fill="#b73779" fill-rule="evenodd" d="M7.8,38.3 70.6,38.3 70.6,13.5 61.6,3.8 58.3,-0.8 20.3,-0.8 20.8,11.3 19.3,23.2 18.1,25.5 9.2,36.0 7.8,38.3Z"/><path fill="#d8456c" fill-rule="evenodd" d="M15.7,38.3 70.6,38.3 70.6,21.5 68.2,18.2 63.4,8.5 51.5,-0.8 28.1,-0.8 25.2,5.3 22.3,23.3 15.7,38.3Z"/><path fill="#f1605d" fill-rule="evenodd" d="M21.7,38.3 68.5,38.3 62.5,20.3 61.8,12.8 60.9,10.6 58.8,9.0 47.1,3.7 43.4,2.5 37.4,2.5 32.0,4.9 29.4,7.5 26.9,12.0 25.7,20.3 22.1,33.8 21.7,38.3Z"/><path fill="#fc8961" fill-rule="evenodd" d="M27.2,38.3 56.9,38.3 56.9,30.0 56.0,24.8 52.5,16.3 48.5,12.0 44.1,9.3 41.0,8.7 36.2,10.0 32.0,13.1 30.4,15.8 26.6,27.0 26.2,33.0 27.2,38.3Z"/><path fill="#feb078" fill-rule="evenodd" d="M35.0,37.6 35.8,38.3 43.7,38.3 47.1,34.3 49.1,30.0 49.7,26.3 48.8,23.3 45.9,20.0 41.6,17.8 38.6,17.6 35.6,19.0 32.6,22.5 30.2,27.0 29.9,30.0 30.6,32.3 32.0,34.6 35.0,37.6Z"/></g></g></g><rect x="0" y="0" width="70.10" height="37.70" fill="none" stroke="#3a3a3a" stroke-width="1"/></g>
<text transform="translate(75.65,160.90) scale(1,1.14)" class="t">1972</text>
<line x1="36.90" x2="40.60" y1="168.62" y2="168.62" class="k"/>
<line x1="36.90" x2="40.60" y1="176.32" y2="176.32" class="k"/>
<line x1="36.90" x2="40.60" y1="184.01" y2="184.01" class="k"/>
<line x1="36.90" x2="40.60" y1="191.71" y2="191.71" class="k"/>
<line x1="36.90" x2="40.60" y1="199.40" y2="199.40" class="k"/>
<g transform="translate(115.30,161.70)"><g transform="scale(1.0000,1.0245)"><g clip-path="url(#pb)"><g clip-path="url(#us)"><path fill="#51127c" fill-rule="evenodd" d="M-5,-5H75V45H-5Z"/><path fill="#721f81" fill-rule="evenodd" d="M0.0,38.3 70.6,38.3 70.6,6.1 68.8,5.6 67.5,4.5 67.0,3.0 67.1,-0.8 -0.6,-0.8 -0.6,38.3 0.0,38.3Z"/><path fill="#932b80" fill-rule="evenodd" d="M0.0,38.3 70.6,38.3 70.6,9.5 68.2,8.2 65.9,6.0 64.1,3.0 62.9,-0.8 12.4,-0.8 18.0,10.5 16.9,22.5 15.7,24.6 13.3,26.7 -0.6,35.7 -0.6,38.3 0.0,38.3Z"/><path fill="#b73779" fill-rule="evenodd" d="M12.1,38.3 70.6,38.3 70.6,13.8 61.7,3.8 58.6,-0.8 20.6,-0.8 21.2,9.8 20.0,24.0 18.7,27.2 12.5,36.8 12.1,38.3Z"/><path fill="#d8456c" fill-rule="evenodd" d="M19.3,38.3 70.6,38.3 70.6,23.5 68.8,20.5 63.8,9.0 52.1,-0.8 26.5,-0.8 24.7,4.5 23.1,14.3 22.6,24.0 19.3,36.8 19.3,38.3Z"/><path fill="#f1605d" fill-rule="evenodd" d="M25.3,38.3 63.9,38.3 61.8,20.3 61.7,12.8 60.9,10.5 58.9,9.0 47.1,3.3 41.0,1.1 35.6,0.8 30.5,3.0 28.1,6.0 25.5,13.5 24.5,33.0 24.8,38.3 25.3,38.3Z"/><path fill="#fc8961" fill-rule="evenodd" d="M31.4,37.6 31.7,38.3 49.6,38.3 51.2,34.5 52.3,30.0 52.8,25.5 52.0,16.5 50.8,14.3 48.8,12.0 42.8,8.5 38.0,7.3 33.8,7.8 30.8,9.8 28.4,13.4 27.6,18.8 28.0,30.0 29.0,33.4 31.4,37.6Z"/><path fill="#feb078" fill-rule="evenodd" d="M33.8,30.1 36.8,30.6 39.2,29.7 41.3,27.8 43.0,24.0 43.4,21.0 42.7,18.0 40.6,15.8 38.0,14.5 35.6,14.2 33.8,14.7 32.0,15.9 30.7,18.0 30.6,21.0 32.0,27.8 33.8,30.1Z"/></g></g></g><rect x="0" y="0" width="70.00" height="37.70" fill="none" stroke="#3a3a3a" stroke-width="1"/></g>
<text transform="translate(150.30,160.90) scale(1,1.14)" class="t">1973</text>
<g transform="translate(189.50,161.70)"><g transform="scale(0.9957,1.0245)"><g clip-path="url(#pb)"><g clip-path="url(#us)"><path fill="#51127c" fill-rule="evenodd" d="M-5,-5H75V45H-5Z"/><path fill="#721f81" fill-rule="evenodd" d="M0.0,38.3 70.6,38.3 70.6,6.1 68.8,5.6 67.5,4.5 66.9,3.0 66.8,-0.8 1.3,-0.8 0.7,6.0 1.2,8.0 3.6,10.5 9.2,13.5 10.1,16.5 9.2,19.5 7.3,21.8 3.6,24.0 -0.6,25.4 -0.6,38.3 0.0,38.3Z"/><path fill="#932b80" fill-rule="evenodd" d="M1.2,38.3 70.6,38.3 70.6,9.4 68.2,8.2 65.9,6.0 62.6,-0.8 13.4,-0.8 14.2,2.3 18.1,11.1 16.9,22.5 14.9,25.5 2.2,36.8 1.2,38.3Z"/><path fill="#b73779" fill-rule="evenodd" d="M12.1,38.3 70.6,38.3 70.6,13.5 67.6,10.7 58.1,-0.8 21.0,-0.8 21.1,9.8 20.1,23.3 18.7,26.7 12.3,36.8 11.7,38.3 12.1,38.3Z"/><path fill="#d8456c" fill-rule="evenodd" d="M18.1,38.3 70.6,38.3 70.6,21.6 68.2,18.1 63.4,8.5 51.1,-0.8 27.0,-0.8 24.7,4.5 23.0,13.5 22.4,24.0 18.1,38.3Z"/><path fill="#f1605d" fill-rule="evenodd" d="M23.5,38.3 68.1,38.3 62.5,20.3 61.8,12.8 60.9,10.5 59.1,9.2 47.1,3.8 41.0,1.7 35.0,1.4 30.2,3.4 27.8,6.2 25.2,12.8 24.9,22.5 23.3,33.8 23.5,38.3Z"/><path fill="#fc8961" fill-rule="evenodd" d="M28.4,37.7 28.5,38.3 56.5,38.3 56.8,33.8 56.4,29.3 53.1,18.0 51.1,14.3 47.2,10.5 40.4,7.4 36.2,6.7 32.0,7.8 28.4,11.3 27.3,14.3 26.8,29.3 27.1,33.0 28.4,37.7Z"/><path fill="#feb078" fill-rule="evenodd" d="M36.8,36.1 41.0,36.2 44.8,33.8 46.7,30.0 47.3,23.3 46.4,18.8 44.1,15.3 39.8,12.6 35.6,11.9 32.0,13.2 30.3,15.8 29.9,28.5 30.4,30.8 32.0,33.1 34.4,35.0 36.8,36.1Z"/><path fill="#fed799" fill-rule="evenodd" d="M36.8,22.6 37.9,21.8 38.2,20.3 37.4,18.8 35.6,18.1 34.7,18.8 34.7,20.3 35.6,22.0 36.8,22.6Z"/></g></g></g><rect x="0" y="0" width="69.70" height="37.70" fill="none" stroke="#3a3a3a" stroke-width="1"/></g>
<text transform="translate(224.35,160.90) scale(1,1.14)" class="t">1974</text>
<g transform="translate(263.60,161.70)"><g transform="scale(0.9914,1.0245)"><g clip-path="url(#pb)"><g clip-path="url(#us)"><path fill="#51127c" fill-rule="evenodd" d="M-5,-5H75V45H-5Z"/><path fill="#721f81" fill-rule="evenodd" d="M0.0,38.3 70.6,38.3 70.6,7.6 68.2,6.7 66.7,5.3 65.7,3.0 65.1,-0.8 4.1,-0.8 2.5,4.5 3.1,6.8 5.4,8.1 10.9,8.3 12.7,8.8 14.4,10.5 14.9,12.8 12.3,19.5 9.7,24.0 4.8,28.9 -0.6,32.9 -0.6,38.3 0.0,38.3Z"/><path fill="#932b80" fill-rule="evenodd" d="M7.2,38.3 70.6,38.3 70.6,10.8 67.6,8.7 65.1,6.0 61.5,-0.8 14.9,-0.8 18.7,9.3 18.9,13.5 16.8,23.3 8.1,36.0 7.2,38.3Z"/><path fill="#b73779" fill-rule="evenodd" d="M14.5,38.3 70.6,38.3 70.6,15.5 57.2,-0.8 21.4,-0.8 21.4,11.3 20.2,23.3 14.5,38.3Z"/><path fill="#d8456c" fill-rule="evenodd" d="M20.5,38.3 70.6,38.3 70.6,26.4 68.2,21.8 63.6,9.8 61.6,7.6 50.6,-0.8 27.0,-0.8 25.2,3.0 24.5,6.0 23.3,13.5 22.6,24.0 20.4,36.0 20.2,38.3 20.5,38.3Z"/><path fill="#f1605d" fill-rule="evenodd" d="M25.9,38.3 62.9,38.3 62.7,31.5 61.4,20.3 61.4,13.5 60.3,10.5 46.5,3.5 41.0,1.6 35.0,1.3 30.2,3.4 27.8,6.4 25.4,13.5 24.7,31.5 25.5,38.3 25.9,38.3Z"/><path fill="#fc8961" fill-rule="evenodd" d="M32.0,37.7 32.4,38.3 49.1,38.3 51.9,32.0 52.8,23.3 51.7,15.8 50.2,13.5 47.1,10.8 39.8,7.4 36.2,7.0 32.6,7.9 29.6,10.4 28.0,13.5 28.1,30.0 29.4,33.8 32.0,37.7Z"/><path fill="#feb078" fill-rule="evenodd" d="M33.8,30.1 36.8,30.7 39.8,29.6 42.0,27.0 43.4,23.3 43.5,20.3 42.5,17.3 39.8,14.5 36.8,13.3 34.4,13.4 32.6,14.2 30.9,17.3 30.8,20.3 31.9,27.8 32.6,29.2 33.8,30.1Z"/></g></g></g><rect x="0" y="0" width="69.40" height="37.70" fill="none" stroke="#3a3a3a" stroke-width="1"/></g>
<text transform="translate(298.30,160.90) scale(1,1.14)" class="t">1975</text>
<g transform="translate(337.50,161.70)"><g transform="scale(1.0000,1.0245)"><g clip-path="url(#pb)"><g clip-path="url(#us)"><path fill="#51127c" fill-rule="evenodd" d="M-5,-5H75V45H-5Z"/><path fill="#721f81" fill-rule="evenodd" d="M0.0,38.3 70.6,38.3 70.6,7.6 68.2,6.7 66.7,5.3 65.7,3.0 65.1,-0.8 6.5,-0.8 5.0,3.8 5.4,4.3 9.7,4.2 13.3,6.0 16.3,9.6 16.9,12.8 14.5,17.3 9.4,24.0 4.8,28.0 -0.6,31.3 -0.6,38.3 0.0,38.3Z"/><path fill="#932b80" fill-rule="evenodd" d="M6.0,38.3 70.6,38.3 70.6,10.8 67.6,8.7 65.1,6.0 61.5,-0.8 16.6,-0.8 19.5,9.8 19.3,14.8 16.7,23.3 6.3,36.8 5.5,38.3 6.0,38.3Z"/><path fill="#b73779" fill-rule="evenodd" d="M13.9,38.3 70.6,38.3 70.6,15.5 57.2,-0.8 21.9,-0.8 21.8,12.8 20.3,22.5 19.3,25.8 14.3,36.0 13.9,38.3Z"/><path fill="#d8456c" fill-rule="evenodd" d="M19.9,38.3 70.6,38.3 70.6,26.2 68.2,21.7 63.6,9.8 62.2,8.1 50.7,-0.8 27.1,-0.8 24.7,5.3 22.9,21.8 19.9,35.3 19.5,38.3 19.9,38.3Z"/><path fill="#f1605d" fill-rule="evenodd" d="M25.3,38.3 63.1,38.3 61.4,20.3 61.4,13.5 60.3,10.5 47.1,3.7 41.0,1.5 35.0,1.2 30.2,3.4 27.8,6.8 26.1,12.8 24.4,31.5 24.8,38.3 25.3,38.3Z"/><path fill="#fc8961" fill-rule="evenodd" d="M31.4,37.9 31.6,38.3 49.4,38.3 51.4,33.8 52.5,29.3 53.0,23.3 52.6,18.0 51.9,15.7 49.7,12.8 44.7,9.2 39.2,7.5 35.0,7.6 32.0,9.1 29.6,12.3 28.9,15.0 27.8,29.3 28.7,33.0 31.4,37.9Z"/><path fill="#feb078" fill-rule="evenodd" d="M35.0,30.1 37.4,30.0 39.8,28.7 43.4,23.6 44.6,19.5 44.1,17.9 42.2,16.2 37.4,15.2 35.0,15.9 33.7,17.3 32.7,27.8 33.3,29.3 35.0,30.1Z"/></g></g></g><rect x="0" y="0" width="70.00" height="37.70" fill="none" stroke="#3a3a3a" stroke-width="1"/></g>
<text transform="translate(372.50,160.90) scale(1,1.14)" class="t">1976</text>
<g transform="translate(411.65,161.70)"><g transform="scale(0.9964,1.0245)"><g clip-path="url(#pb)"><g clip-path="url(#us)"><path fill="#51127c" fill-rule="evenodd" d="M-5,-5H75V45H-5Z"/><path fill="#721f81" fill-rule="evenodd" d="M0.0,38.3 70.6,38.3 70.6,7.9 68.2,6.9 66.5,5.3 65.6,3.0 65.0,-0.8 5.7,-0.8 4.3,3.8 4.7,5.3 10.3,6.9 12.7,8.3 14.5,10.5 14.8,12.8 12.3,19.5 9.7,24.0 5.4,28.3 -0.6,32.7 -0.6,38.3 0.0,38.3Z"/><path fill="#932b80" fill-rule="evenodd" d="M7.2,38.3 70.6,38.3 70.6,11.5 67.6,9.1 64.8,6.0 61.2,-0.8 15.7,-0.8 19.1,11.3 17.0,22.5 7.2,38.3Z"/><path fill="#b73779" fill-rule="evenodd" d="M15.1,38.3 70.6,38.3 70.6,17.4 64.4,8.3 58.9,2.3 56.8,-0.8 21.6,-0.8 21.5,11.3 20.2,23.3 15.3,36.0 14.7,38.3 15.1,38.3Z"/><path fill="#d8456c" fill-rule="evenodd" d="M21.1,38.3 70.6,38.3 70.6,31.3 65.8,21.1 62.7,9.8 50.2,-0.8 27.0,-0.8 25.2,3.0 24.5,6.0 22.7,24.0 20.7,36.0 20.5,38.3 21.1,38.3Z"/><path fill="#f1605d" fill-rule="evenodd" d="M25.9,37.8 26.0,38.3 61.4,38.3 60.6,30.0 57.6,19.5 58.6,13.5 57.8,11.3 48.3,4.7 41.6,1.8 35.6,1.2 32.6,2.0 30.2,3.4 27.8,6.7 25.7,13.5 25.1,30.0 25.9,37.8Z"/><path fill="#fc8961" fill-rule="evenodd" d="M33.2,37.8 33.6,38.3 48.7,38.3 51.6,32.3 51.0,18.0 50.3,14.3 48.5,12.0 45.9,10.1 39.2,7.4 35.6,7.3 32.6,8.3 29.7,11.3 28.4,14.3 28.2,21.8 28.6,30.0 30.2,33.8 33.2,37.8Z"/><path fill="#feb078" fill-rule="evenodd" d="M35.6,29.3 38.0,29.4 40.4,28.3 42.2,26.0 43.3,22.5 43.3,19.5 42.3,17.3 39.8,15.1 37.4,14.3 35.6,14.3 33.7,15.0 32.3,16.5 31.6,18.8 31.6,21.8 32.7,26.3 33.8,28.3 35.6,29.3Z"/></g></g></g><rect x="0" y="0" width="69.75" height="37.70" fill="none" stroke="#3a3a3a" stroke-width="1"/></g>
<text transform="translate(446.52,160.90) scale(1,1.14)" class="t">1977</text>
<g transform="translate(40.60,209.70)"><g transform="scale(1.0014,1.0000)"><g clip-path="url(#pb)"><g clip-path="url(#us)"><path fill="#51127c" fill-rule="evenodd" d="M-5,-5H75V45H-5Z"/><path fill="#721f81" fill-rule="evenodd" d="M0.0,38.3 70.6,38.3 70.6,7.6 68.2,6.7 66.7,5.3 65.6,3.0 65.0,-0.8 -0.6,-0.8 -0.6,38.3 0.0,38.3Z"/><path fill="#932b80" fill-rule="evenodd" d="M0.0,38.3 70.6,38.3 70.6,10.7 67.6,8.7 65.1,6.0 61.2,-0.8 15.3,-0.8 18.4,11.3 18.1,13.9 16.3,18.9 14.1,22.5 10.3,26.4 4.8,30.6 -0.6,33.6 -0.6,38.3 0.0,38.3Z"/><path fill="#b73779" fill-rule="evenodd" d="M10.9,38.3 70.6,38.3 70.6,15.2 56.7,-0.8 22.2,-0.8 21.4,4.5 20.5,22.9 19.3,25.6 10.9,38.3Z"/><path fill="#d8456c" fill-rule="evenodd" d="M19.3,38.3 70.6,38.3 70.6,25.2 68.8,22.1 63.1,9.0 49.2,-0.8 29.2,-0.8 25.9,3.6 24.6,7.5 23.6,13.5 23.7,23.3 19.3,38.3Z"/><path fill="#f1605d" fill-rule="evenodd" d="M25.9,38.3 63.5,38.3 63.2,31.5 61.6,19.5 61.5,13.5 60.3,10.6 58.5,9.5 52.5,7.8 45.9,4.1 41.6,2.7 35.6,3.1 30.2,6.0 27.5,9.0 26.1,12.8 26.6,21.8 25.6,31.5 25.9,38.3Z"/><path fill="#fc8961" fill-rule="evenodd" d="M34.4,37.9 34.7,38.3 48.5,38.3 50.9,34.5 52.2,30.8 52.6,24.8 51.5,20.3 45.7,11.3 43.4,9.2 41.0,8.2 37.4,8.2 33.8,9.3 30.8,11.4 29.2,14.3 29.7,30.0 31.2,33.8 34.4,37.9Z"/><path fill="#feb078" fill-rule="evenodd" d="M38.0,26.4 39.8,26.1 41.6,24.8 42.9,22.5 43.2,19.5 42.4,17.3 41.0,15.5 39.2,14.3 36.8,14.0 33.8,15.8 33.2,18.8 35.0,24.1 36.2,25.6 38.0,26.4Z"/></g></g></g><rect x="0" y="0" width="70.10" height="36.80" fill="none" stroke="#3a3a3a" stroke-width="1"/></g>
<text transform="translate(75.65,208.90) scale(1,1.14)" class="t">1978</text>
<line x1="36.90" x2="40.60" y1="216.46" y2="216.46" class="k"/>
<text transform="translate(34.00,219.36) scale(0.98,1.12)" class="yl">45&#176;N</text>
<line x1="36.90" x2="40.60" y1="223.97" y2="223.97" class="k"/>
<text transform="translate(34.00,226.87) scale(0.98,1.12)" class="yl">40&#176;N</text>
<line x1="36.90" x2="40.60" y1="231.48" y2="231.48" class="k"/>
<text transform="translate(34.00,234.38) scale(0.98,1.12)" class="yl">35&#176;N</text>
<line x1="36.90" x2="40.60" y1="238.99" y2="238.99" class="k"/>
<text transform="translate(34.00,241.89) scale(0.98,1.12)" class="yl">30&#176;N</text>
<line x1="36.90" x2="40.60" y1="246.50" y2="246.50" class="k"/>
<g transform="translate(115.30,209.70)"><g transform="scale(1.0000,1.0000)"><g clip-path="url(#pb)"><g clip-path="url(#us)"><path fill="#51127c" fill-rule="evenodd" d="M-5,-5H75V45H-5Z"/><path fill="#721f81" fill-rule="evenodd" d="M0.0,38.3 70.6,38.3 70.6,7.9 68.2,6.9 66.5,5.3 65.5,3.0 64.8,-0.8 5.6,-0.8 4.1,3.8 4.2,5.3 10.3,10.9 11.1,12.8 11.2,15.8 10.0,20.3 7.8,24.0 4.2,27.7 -0.6,31.0 -0.6,38.3 0.0,38.3Z"/><path fill="#932b80" fill-rule="evenodd" d="M4.8,38.3 70.6,38.3 70.6,11.6 64.8,6.0 60.7,-0.8 15.5,-0.8 15.9,3.8 18.0,10.5 17.9,13.5 13.5,24.8 5.2,36.8 4.4,38.3 4.8,38.3Z"/><path fill="#b73779" fill-rule="evenodd" d="M12.7,38.3 70.6,38.3 70.6,18.7 64.4,8.3 55.4,-0.8 22.3,-0.8 21.4,3.8 21.1,12.0 19.6,22.5 13.3,35.3 12.2,38.3 12.7,38.3Z"/><path fill="#d8456c" fill-rule="evenodd" d="M18.7,38.3 69.8,38.3 64.1,22.5 63.6,12.8 62.7,9.8 60.9,8.2 53.1,4.1 45.8,-0.8 29.7,-0.8 26.3,3.0 24.7,6.9 23.3,13.5 22.5,22.5 19.0,33.8 18.1,38.3 18.7,38.3Z"/><path fill="#f1605d" fill-rule="evenodd" d="M23.5,38.3 57.5,38.3 56.4,30.0 52.3,15.8 50.3,11.3 46.7,7.5 42.2,5.0 36.8,4.1 32.0,5.1 28.4,8.0 26.6,11.0 25.8,13.5 25.0,21.8 23.3,31.5 23.5,38.3Z"/><path fill="#fc8961" fill-rule="evenodd" d="M29.6,38.3 45.9,38.3 47.5,31.5 46.7,20.3 43.9,14.3 41.6,12.0 39.2,10.7 35.6,10.3 32.6,11.0 30.2,12.6 28.7,15.0 27.4,21.8 26.6,30.0 27.3,33.8 29.6,38.3Z"/><path fill="#feb078" fill-rule="evenodd" d="M33.8,33.1 36.2,33.1 38.6,31.7 40.3,29.3 41.1,26.3 41.2,22.5 40.3,19.5 38.6,17.6 36.2,16.4 33.8,16.6 32.0,17.7 30.8,19.4 30.1,21.8 29.8,27.8 30.2,30.0 31.4,31.9 33.8,33.1Z"/></g></g></g><rect x="0" y="0" width="70.00" height="36.80" fill="none" stroke="#3a3a3a" stroke-width="1"/></g>
<text transform="translate(150.30,208.90) scale(1,1.14)" class="t">1979</text>
<g transform="translate(189.50,209.70)"><g transform="scale(0.9957,1.0000)"><g clip-path="url(#pb)"><g clip-path="url(#us)"><path fill="#51127c" fill-rule="evenodd" d="M-5,-5H75V45H-5Z"/><path fill="#721f81" fill-rule="evenodd" d="M0.0,38.3 70.6,38.3 70.6,8.1 68.2,6.9 66.5,5.3 65.6,3.0 65.2,-0.8 8.2,-0.8 9.3,3.0 14.2,9.8 14.9,12.0 14.7,13.5 12.3,19.5 9.7,23.7 5.4,27.7 -0.6,31.5 -0.6,38.3 0.0,38.3Z"/><path fill="#932b80" fill-rule="evenodd" d="M6.0,38.3 70.6,38.3 70.6,11.9 64.8,6.0 61.4,-0.8 16.4,-0.8 19.1,11.3 17.2,21.8 16.3,24.0 7.0,36.0 5.6,38.3 6.0,38.3Z"/><path fill="#b73779" fill-rule="evenodd" d="M13.9,38.3 70.6,38.3 70.6,19.8 64.9,9.0 57.0,-0.8 21.7,-0.8 21.5,12.0 20.3,22.5 19.3,25.7 14.2,36.0 13.5,38.3 13.9,38.3Z"/><path fill="#d8456c" fill-rule="evenodd" d="M19.3,38.3 68.4,38.3 63.3,21.8 63.4,12.8 62.7,9.8 50.4,-0.8 27.0,-0.8 24.7,4.8 22.7,22.5 20.1,33.0 19.3,38.3Z"/><path fill="#f1605d" fill-rule="evenodd" d="M24.7,38.3 56.8,38.3 56.4,31.5 54.0,19.5 54.6,16.5 56.6,12.8 56.2,11.3 47.1,4.2 41.6,1.5 38.6,0.9 35.6,1.0 32.6,1.8 30.2,3.3 28.1,6.0 26.0,12.8 24.0,30.8 24.1,35.3 24.7,38.3Z"/><path fill="#fc8961" fill-rule="evenodd" d="M30.8,38.2 44.8,38.3 46.8,33.8 47.3,30.8 47.4,22.5 46.6,15.0 44.4,10.5 42.8,9.0 40.4,7.9 36.8,7.4 33.8,8.0 30.8,10.5 29.1,13.5 27.1,29.3 28.2,33.8 30.8,38.2Z"/><path fill="#feb078" fill-rule="evenodd" d="M33.2,31.7 35.6,31.8 38.0,30.7 39.8,28.5 40.8,25.5 41.0,21.8 40.3,18.8 38.8,16.5 36.8,15.5 35.0,15.7 33.2,16.9 31.4,21.0 30.7,28.5 31.4,30.4 33.2,31.7Z"/></g></g></g><rect x="0" y="0" width="69.70" height="36.80" fill="none" stroke="#3a3a3a" stroke-width="1"/></g>
<text transform="translate(224.35,208.90) scale(1,1.14)" class="t">1980</text>
<g transform="translate(263.60,209.70)"><g transform="scale(0.9914,1.0000)"><g clip-path="url(#pb)"><g clip-path="url(#us)"><path fill="#51127c" fill-rule="evenodd" d="M-5,-5H75V45H-5Z"/><path fill="#721f81" fill-rule="evenodd" d="M0.0,38.3 70.6,38.3 70.6,7.9 68.2,6.9 66.5,5.3 65.4,3.0 64.7,-0.8 9.7,-0.8 10.7,3.0 15.1,10.3 15.1,13.5 12.4,19.5 9.2,24.0 4.8,27.7 -0.6,30.8 -0.6,38.3 0.0,38.3Z"/><path fill="#932b80" fill-rule="evenodd" d="M4.8,38.3 70.6,38.3 70.6,11.4 65.4,6.8 60.7,-0.8 18.4,-0.8 19.7,11.3 17.6,22.5 6.1,36.0 4.8,38.3Z"/><path fill="#b73779" fill-rule="evenodd" d="M13.3,38.3 70.6,38.3 70.6,17.4 64.4,8.3 55.5,-0.8 24.1,-0.8 23.0,3.8 21.0,22.5 13.7,36.0 12.8,38.3 13.3,38.3Z"/><path fill="#d8456c" fill-rule="evenodd" d="M18.7,38.3 70.6,38.3 70.6,35.1 66.6,24.8 62.8,9.8 60.9,8.2 45.9,-0.8 31.0,-0.8 27.8,2.5 26.1,6.0 24.3,12.8 23.5,22.5 19.8,33.0 18.7,38.3Z"/><path fill="#f1605d" fill-rule="evenodd" d="M24.1,38.3 58.3,38.3 57.1,20.3 58.2,13.5 57.6,12.0 45.9,6.3 40.4,4.5 35.0,4.2 30.8,6.0 28.4,9.1 26.6,12.8 25.9,21.0 23.6,32.3 23.6,38.3 24.1,38.3Z"/><path fill="#fc8961" fill-rule="evenodd" d="M29.0,37.9 29.1,38.3 46.2,38.3 47.5,32.3 47.7,19.5 46.7,16.5 45.3,14.3 41.0,11.2 37.4,10.1 34.4,10.4 31.4,12.0 29.7,14.3 26.8,29.3 27.2,33.1 29.0,37.9Z"/><path fill="#feb078" fill-rule="evenodd" d="M34.4,33.8 36.8,33.6 39.2,31.9 40.8,29.3 41.6,25.5 41.5,21.8 40.4,19.0 38.6,17.0 36.2,16.1 33.8,16.7 32.0,18.8 29.8,27.8 30.0,30.0 30.8,31.7 32.6,33.2 34.4,33.8Z"/></g></g></g><rect x="0" y="0" width="69.40" height="36.80" fill="none" stroke="#3a3a3a" stroke-width="1"/></g>
<text transform="translate(298.30,208.90) scale(1,1.14)" class="t">1981</text>
<g transform="translate(337.50,209.70)"><g transform="scale(1.0000,1.0000)"><g clip-path="url(#pb)"><g clip-path="url(#us)"><path fill="#51127c" fill-rule="evenodd" d="M-5,-5H75V45H-5Z"/><path fill="#721f81" fill-rule="evenodd" d="M0.0,38.3 70.6,38.3 70.6,7.9 68.2,6.9 66.5,5.3 65.4,3.0 64.7,-0.8 9.8,-0.8 10.8,3.0 15.1,10.3 15.2,13.5 12.4,19.5 9.1,24.0 4.8,27.4 -0.6,30.2 -0.6,38.3 0.0,38.3Z"/><path fill="#932b80" fill-rule="evenodd" d="M3.6,38.3 70.6,38.3 70.6,11.4 65.4,6.8 60.7,-0.8 18.4,-0.8 19.8,11.3 17.6,22.5 3.6,38.3Z"/><path fill="#b73779" fill-rule="evenodd" d="M12.1,38.3 70.6,38.3 70.6,17.4 64.4,8.3 55.4,-0.8 24.1,-0.8 23.0,3.8 21.0,22.5 13.2,35.3 12.1,38.3Z"/><path fill="#d8456c" fill-rule="evenodd" d="M18.1,38.3 70.6,38.3 70.6,34.8 66.5,24.8 63.7,12.0 62.8,9.8 60.9,8.2 45.7,-0.8 31.0,-0.8 27.8,2.6 26.3,5.3 24.3,12.8 23.5,22.1 18.6,34.5 17.6,38.3 18.1,38.3Z"/><path fill="#f1605d" fill-rule="evenodd" d="M22.9,38.3 58.6,38.3 57.0,21.0 58.1,14.3 57.9,12.5 46.5,6.6 41.0,4.6 35.6,4.2 31.4,5.6 29.0,8.2 26.7,12.8 25.8,21.0 22.7,33.0 22.4,38.3 22.9,38.3Z"/><path fill="#fc8961" fill-rule="evenodd" d="M27.2,37.7 27.3,38.3 47.6,38.3 48.1,32.3 47.7,19.5 45.7,15.0 41.6,11.5 38.0,10.2 35.0,10.3 32.0,11.6 30.1,13.5 26.1,28.5 26.1,33.0 27.2,37.7Z"/><path fill="#feb078" fill-rule="evenodd" d="M33.8,36.1 36.8,36.2 39.2,35.0 41.3,32.3 42.4,28.5 42.7,24.0 41.8,20.3 39.8,17.5 36.8,16.1 34.4,16.4 32.4,18.0 30.2,23.1 28.8,27.8 28.9,30.8 29.9,33.0 31.4,34.7 33.8,36.1Z"/><path fill="#fed799" fill-rule="evenodd" d="M34.4,27.8 36.2,26.9 37.4,25.2 37.7,23.3 36.8,22.0 35.6,22.3 34.8,23.3 34.0,26.3 34.4,27.8Z"/></g></g></g><rect x="0" y="0" width="70.00" height="36.80" fill="none" stroke="#3a3a3a" stroke-width="1"/></g>
<text transform="translate(372.50,208.90) scale(1,1.14)" class="t">1982</text>
<g transform="translate(411.65,209.70)"><g transform="scale(0.9964,1.0000)"><g clip-path="url(#pb)"><g clip-path="url(#us)"><path fill="#51127c" fill-rule="evenodd" d="M-5,-5H75V45H-5Z"/><path fill="#721f81" fill-rule="evenodd" d="M0.0,38.3 70.6,38.3 70.6,6.2 68.8,5.8 67.4,4.5 66.7,2.3 66.8,-0.8 8.2,-0.8 9.3,3.0 14.5,10.3 14.9,13.5 12.8,18.8 9.7,23.5 5.4,27.2 -0.6,30.6 -0.6,38.3 0.0,38.3Z"/><path fill="#932b80" fill-rule="evenodd" d="M4.2,38.3 70.6,38.3 70.6,9.8 68.2,8.4 65.7,6.0 63.8,3.0 62.4,-0.8 16.4,-0.8 19.2,12.0 17.8,21.8 16.6,24.0 5.6,36.0 4.2,38.3Z"/><path fill="#b73779" fill-rule="evenodd" d="M12.7,38.3 70.6,38.3 70.6,14.5 60.3,3.0 57.7,-0.8 21.8,-0.8 21.2,21.8 19.9,25.1 13.1,36.0 12.2,38.3 12.7,38.3Z"/><path fill="#d8456c" fill-rule="evenodd" d="M18.1,38.3 70.6,38.3 70.6,24.7 67.6,19.5 63.4,9.5 54.8,3.0 50.8,-0.8 27.0,-0.8 25.2,3.0 24.5,6.0 23.5,22.3 19.1,33.8 18.1,38.3Z"/><path fill="#f1605d" fill-rule="evenodd" d="M22.9,38.3 64.1,38.3 60.2,15.0 59.1,12.0 48.9,5.0 42.2,1.8 36.2,1.0 33.2,1.7 30.8,2.9 28.4,5.6 26.3,11.3 26.0,20.3 23.1,32.3 22.9,38.3Z"/><path fill="#fc8961" fill-rule="evenodd" d="M27.8,38.3 52.0,38.3 52.3,33.0 53.8,26.3 53.5,21.0 51.1,15.0 46.2,10.5 41.6,8.2 36.8,7.5 33.2,8.4 30.3,11.3 29.2,13.5 28.5,20.3 26.4,29.3 26.5,33.8 27.8,38.3Z"/><path fill="#feb078" fill-rule="evenodd" d="M35.0,37.6 36.5,38.3 39.5,38.3 42.2,36.5 45.3,32.7 46.9,27.8 46.8,24.0 45.3,20.4 41.6,16.8 38.0,15.3 35.0,15.7 33.2,17.3 29.4,27.8 29.4,30.8 30.3,33.0 32.0,35.3 35.0,37.6Z"/><path fill="#fed799" fill-rule="evenodd" d="M37.4,28.6 39.2,28.0 40.2,27.0 40.3,25.5 39.8,24.7 38.0,24.5 36.6,25.5 36.0,27.8 37.4,28.6Z"/></g></g></g><rect x="0" y="0" width="69.75" height="36.80" fill="none" stroke="#3a3a3a" stroke-width="1"/></g>
<text transform="translate(446.52,208.90) scale(1,1.14)" class="t">1983</text>
<g transform="translate(40.60,257.70)"><g transform="scale(1.0014,1.0000)"><g clip-path="url(#pb)"><g clip-path="url(#us)"><path fill="#2c115f" fill-rule="evenodd" d="M-5,-5H75V45H-5Z"/><path fill="#51127c" fill-rule="evenodd" d="M0.0,38.3 70.6,38.3 70.6,5.8 68.8,5.4 67.6,4.4 67.0,2.3 67.1,-0.8 -0.6,-0.8 -0.6,38.3 0.0,38.3Z"/><path fill="#721f81" fill-rule="evenodd" d="M0.0,38.3 70.6,38.3 70.6,8.7 68.2,7.7 66.3,6.0 64.5,3.0 63.3,-0.8 10.5,-0.8 11.2,3.0 15.1,10.5 15.1,13.5 12.4,19.5 9.1,24.0 4.8,27.5 -0.6,30.3 -0.6,38.3 0.0,38.3Z"/><path fill="#932b80" fill-rule="evenodd" d="M4.2,38.3 70.6,38.3 70.6,11.8 64.9,6.8 59.7,-0.8 19.2,-0.8 19.0,3.8 19.8,12.0 17.6,22.5 4.8,36.8 3.7,38.3 4.2,38.3Z"/><path fill="#b73779" fill-rule="evenodd" d="M12.7,38.3 70.6,38.3 70.6,16.2 64.0,8.0 54.9,-0.8 25.5,-0.8 23.3,5.3 21.0,22.5 19.7,25.5 13.2,36.0 12.2,38.3 12.7,38.3Z"/><path fill="#d8456c" fill-rule="evenodd" d="M18.7,38.3 70.6,38.3 70.6,25.8 63.9,11.3 61.6,8.3 53.7,3.4 47.1,0.6 42.5,-0.8 37.4,-0.6 30.2,2.8 28.2,4.5 26.6,7.1 24.7,12.5 23.8,21.8 18.8,35.3 18.1,38.3 18.7,38.3Z"/><path fill="#f1605d" fill-rule="evenodd" d="M23.5,38.3 63.9,38.3 63.0,21.8 61.8,14.3 60.6,11.3 58.5,9.5 53.7,7.5 44.7,5.5 36.8,6.0 30.8,8.8 28.4,11.2 27.3,13.5 26.5,20.3 23.6,31.5 23.1,37.6 23.1,38.3 23.5,38.3Z"/><path fill="#fc8961" fill-rule="evenodd" d="M28.4,38.3 51.5,38.3 52.4,33.0 55.2,27.0 56.3,22.5 56.5,16.5 55.2,13.5 51.9,11.8 48.3,11.3 36.8,12.1 32.2,14.3 30.3,17.3 27.0,27.8 27.0,33.0 28.4,38.3Z"/><path fill="#feb078" fill-rule="evenodd" d="M35.0,35.4 38.6,35.9 41.6,34.7 44.6,31.5 46.5,27.7 46.8,25.5 45.9,23.1 43.1,21.0 39.2,19.1 36.8,19.1 34.4,20.4 32.0,23.8 30.2,27.8 30.2,30.0 31.1,32.3 32.6,33.9 35.0,35.4Z"/></g></g></g><rect x="0" y="0" width="70.10" height="36.80" fill="none" stroke="#3a3a3a" stroke-width="1"/></g>
<text transform="translate(75.65,256.90) scale(1,1.14)" class="t">1984</text>
<line x1="36.90" x2="40.60" y1="264.46" y2="264.46" class="k"/>
<line x1="36.90" x2="40.60" y1="271.97" y2="271.97" class="k"/>
<line x1="36.90" x2="40.60" y1="279.48" y2="279.48" class="k"/>
<line x1="36.90" x2="40.60" y1="286.99" y2="286.99" class="k"/>
<line x1="36.90" x2="40.60" y1="294.50" y2="294.50" class="k"/>
<g transform="translate(115.30,257.70)"><g transform="scale(1.0000,1.0000)"><g clip-path="url(#pb)"><g clip-path="url(#us)"><path fill="#51127c" fill-rule="evenodd" d="M-5,-5H75V45H-5Z"/><path fill="#721f81" fill-rule="evenodd" d="M0.0,38.3 70.6,38.3 70.6,7.6 68.2,6.7 66.7,5.3 65.7,3.0 65.1,-0.8 7.4,-0.8 8.1,4.5 11.8,13.5 11.7,19.5 10.7,22.5 8.4,25.8 3.6,30.4 -0.6,33.5 -0.6,38.3 0.0,38.3Z"/><path fill="#932b80" fill-rule="evenodd" d="M8.4,38.3 70.6,38.3 70.6,10.6 67.6,8.7 65.1,6.0 61.5,-0.8 15.8,-0.8 16.3,4.5 18.2,12.0 16.8,22.5 15.6,25.5 8.7,36.8 8.0,38.3 8.4,38.3Z"/><path fill="#b73779" fill-rule="evenodd" d="M15.7,38.3 70.6,38.3 70.6,14.8 57.3,-0.8 22.1,-0.8 21.3,3.8 21.3,12.0 19.9,24.0 15.7,38.3Z"/><path fill="#d8456c" fill-rule="evenodd" d="M22.3,38.3 70.6,38.3 70.6,23.4 63.1,9.0 50.9,-0.8 28.8,-0.8 25.8,3.8 24.4,9.8 22.7,21.8 21.8,36.0 21.8,38.3 22.3,38.3Z"/><path fill="#f1605d" fill-rule="evenodd" d="M28.4,38.3 63.8,38.3 64.3,31.5 63.9,24.8 62.1,14.3 60.5,10.5 50.7,4.9 43.4,2.5 36.8,2.7 31.4,5.4 29.1,8.3 27.4,12.0 25.9,22.5 26.3,31.5 28.4,38.3Z"/><path fill="#fc8961" fill-rule="evenodd" d="M40.4,37.6 44.7,37.9 47.7,36.5 50.1,34.6 54.7,28.5 56.5,21.8 56.5,16.5 54.9,13.1 50.6,10.5 43.4,8.7 41.0,8.8 38.1,9.8 33.8,12.9 31.7,16.5 30.7,22.5 30.5,27.8 31.4,30.8 35.0,34.6 40.4,37.6Z"/></g></g></g><rect x="0" y="0" width="70.00" height="36.80" fill="none" stroke="#3a3a3a" stroke-width="1"/></g>
<text transform="translate(150.30,256.90) scale(1,1.14)" class="t">1985</text>
<g transform="translate(189.50,257.70)"><g transform="scale(0.9957,1.0000)"><g clip-path="url(#pb)"><g clip-path="url(#us)"><path fill="#2c115f" fill-rule="evenodd" d="M-5,-5H75V45H-5Z"/><path fill="#51127c" fill-rule="evenodd" d="M0.0,38.3 70.6,38.3 70.6,7.4 68.2,6.5 66.8,5.3 65.8,3.0 65.5,-0.8 -0.6,-0.8 -0.6,38.3 0.0,38.3Z"/><path fill="#721f81" fill-rule="evenodd" d="M0.0,38.3 70.6,38.3 70.6,10.3 67.6,8.4 65.3,6.0 62.1,-0.8 9.0,-0.8 10.1,3.8 13.8,10.5 13.9,12.8 8.4,25.1 4.2,29.7 -0.6,33.3 -0.6,38.3 0.0,38.3Z"/><path fill="#932b80" fill-rule="evenodd" d="M8.4,38.3 70.6,38.3 70.6,13.9 62.0,4.5 58.5,-0.8 17.0,-0.8 17.3,3.8 19.0,12.0 16.8,22.5 15.7,25.2 8.6,36.8 7.9,38.3 8.4,38.3Z"/><path fill="#b73779" fill-rule="evenodd" d="M15.7,38.3 70.6,38.3 70.6,20.3 63.7,9.0 53.6,-0.8 22.8,-0.8 21.7,3.8 21.5,12.8 19.9,24.0 15.7,38.3Z"/><path fill="#d8456c" fill-rule="evenodd" d="M22.3,38.3 68.3,38.3 66.2,24.8 62.0,10.5 59.1,8.0 44.7,-0.8 29.8,-0.8 26.4,3.0 24.8,7.5 22.6,22.5 21.9,34.5 21.9,38.3 22.3,38.3Z"/><path fill="#f1605d" fill-rule="evenodd" d="M28.4,38.0 56.4,38.3 58.7,30.8 59.7,24.8 59.6,15.8 58.5,12.0 56.6,10.5 50.7,7.8 41.6,4.9 35.0,4.5 30.8,6.1 29.0,8.4 27.4,12.0 25.9,22.5 26.2,30.8 28.4,38.0Z"/><path fill="#fc8961" fill-rule="evenodd" d="M37.4,33.9 41.0,33.7 44.1,32.5 46.9,30.0 49.5,26.7 51.4,22.5 51.9,18.8 51.3,16.0 49.6,14.3 44.1,12.5 38.6,12.0 35.0,12.9 32.5,15.0 31.1,19.5 30.5,26.3 30.8,29.2 33.2,32.2 37.4,33.9Z"/></g></g></g><rect x="0" y="0" width="69.70" height="36.80" fill="none" stroke="#3a3a3a" stroke-width="1"/></g>
<text transform="translate(224.35,256.90) scale(1,1.14)" class="t">1986</text>
<g transform="translate(263.60,257.70)"><g transform="scale(0.9914,1.0000)"><g clip-path="url(#pb)"><g clip-path="url(#us)"><path fill="#2c115f" fill-rule="evenodd" d="M-5,-5H75V45H-5Z"/><path fill="#51127c" fill-rule="evenodd" d="M0.0,38.3 70.6,38.3 70.6,7.4 68.2,6.5 66.8,5.3 65.8,3.0 65.4,-0.8 -0.6,-0.8 -0.6,38.3 0.0,38.3Z"/><path fill="#721f81" fill-rule="evenodd" d="M0.0,38.3 70.6,38.3 70.6,10.2 67.6,8.4 65.3,6.0 62.0,-0.8 9.0,-0.8 10.1,3.8 13.8,10.5 13.9,12.8 10.3,21.8 8.4,25.1 4.2,29.7 -0.6,33.3 -0.6,38.3 0.0,38.3Z"/><path fill="#932b80" fill-rule="evenodd" d="M8.4,38.3 70.6,38.3 70.6,13.7 61.9,4.5 58.3,-0.8 17.0,-0.8 17.3,3.8 19.0,12.0 16.8,22.5 15.7,25.2 8.6,36.8 7.9,38.3 8.4,38.3Z"/><path fill="#b73779" fill-rule="evenodd" d="M15.7,38.3 70.6,38.3 70.6,19.8 63.8,9.0 53.1,-0.8 22.8,-0.8 21.7,3.8 21.5,12.8 19.9,24.0 15.7,38.3Z"/><path fill="#d8456c" fill-rule="evenodd" d="M22.3,38.3 68.9,38.3 66.6,24.8 62.1,10.5 59.7,8.5 44.1,-0.8 29.9,-0.8 26.4,3.0 24.8,7.5 22.6,22.5 21.8,34.5 21.8,38.3 22.3,38.3Z"/><path fill="#f1605d" fill-rule="evenodd" d="M28.4,38.2 56.8,38.3 59.1,30.1 60.0,24.0 59.7,16.7 58.5,12.4 41.0,4.8 35.0,4.5 30.8,6.1 29.0,8.4 27.4,12.0 25.9,22.5 26.2,30.8 28.4,38.2Z"/><path fill="#fc8961" fill-rule="evenodd" d="M36.8,33.9 41.0,33.9 44.7,32.3 48.7,27.8 50.4,23.3 50.1,20.3 47.5,16.5 43.7,13.5 39.8,12.2 36.8,12.3 33.8,13.6 32.0,15.8 31.2,18.8 30.5,25.5 30.8,29.3 32.6,31.8 36.8,33.9Z"/></g></g></g><rect x="0" y="0" width="69.40" height="36.80" fill="none" stroke="#3a3a3a" stroke-width="1"/></g>
<text transform="translate(298.30,256.90) scale(1,1.14)" class="t">1987</text>
<g transform="translate(337.50,257.70)"><g transform="scale(1.0000,1.0000)"><g clip-path="url(#pb)"><g clip-path="url(#us)"><path fill="#2c115f" fill-rule="evenodd" d="M-5,-5H75V45H-5Z"/><path fill="#51127c" fill-rule="evenodd" d="M0.0,38.3 70.6,38.3 70.6,7.4 68.2,6.5 66.8,5.3 65.8,3.0 65.4,-0.8 -0.6,-0.8 -0.6,38.3 0.0,38.3Z"/><path fill="#721f81" fill-rule="evenodd" d="M0.0,38.3 70.6,38.3 70.6,10.2 67.6,8.4 65.3,6.0 62.0,-0.8 7.6,-0.8 8.3,4.5 11.0,12.8 10.4,21.0 9.3,24.0 7.2,27.1 3.0,31.4 -0.6,34.2 -0.6,38.3 0.0,38.3Z"/><path fill="#932b80" fill-rule="evenodd" d="M9.1,38.3 70.6,38.3 70.6,13.7 68.2,11.6 62.0,4.5 58.3,-0.8 15.2,-0.8 15.5,4.5 17.6,12.0 16.8,22.5 15.7,25.5 9.1,36.8 8.5,38.3 9.1,38.3Z"/><path fill="#b73779" fill-rule="evenodd" d="M16.3,38.3 70.6,38.3 70.6,19.7 63.8,9.0 53.3,-0.8 21.2,-0.8 20.0,5.3 20.6,12.8 19.9,24.0 16.5,36.0 16.3,38.3Z"/><path fill="#d8456c" fill-rule="evenodd" d="M22.3,38.3 68.9,38.3 66.6,24.8 62.1,10.5 59.7,8.5 44.4,-0.8 28.5,-0.8 25.0,3.0 23.4,7.5 22.1,33.0 22.3,38.3Z"/><path fill="#f1605d" fill-rule="evenodd" d="M29.0,38.3 56.8,38.3 59.1,30.3 60.0,24.0 59.7,16.5 58.5,12.4 44.1,5.8 40.4,4.7 33.8,4.7 29.1,6.8 27.5,9.0 26.5,12.0 25.8,24.0 26.6,32.3 29.0,38.3Z"/><path fill="#fc8961" fill-rule="evenodd" d="M38.0,33.8 42.2,33.3 45.9,31.1 49.1,27.0 49.8,23.3 48.3,19.5 44.4,15.8 40.9,13.5 36.8,12.8 33.8,13.7 31.8,15.8 31.1,18.8 30.6,27.8 31.2,30.0 32.6,31.7 35.0,33.1 38.0,33.8Z"/></g></g></g><rect x="0" y="0" width="70.00" height="36.80" fill="none" stroke="#3a3a3a" stroke-width="1"/></g>
<text transform="translate(372.50,256.90) scale(1,1.14)" class="t">1988</text>
<g transform="translate(411.65,257.70)"><g transform="scale(0.9964,1.0000)"><g clip-path="url(#pb)"><g clip-path="url(#us)"><path fill="#2c115f" fill-rule="evenodd" d="M-5,-5H75V45H-5Z"/><path fill="#51127c" fill-rule="evenodd" d="M0.0,38.3 70.6,38.3 70.6,7.5 68.2,6.5 66.8,5.3 65.9,3.0 65.5,-0.8 -0.6,-0.8 -0.6,38.3 0.0,38.3Z"/><path fill="#721f81" fill-rule="evenodd" d="M0.0,38.3 70.6,38.3 70.6,10.4 67.6,8.4 65.3,6.0 62.1,-0.8 8.3,-0.8 9.4,3.8 13.9,11.3 13.6,21.8 12.3,24.0 7.8,28.6 -0.6,35.5 -0.6,38.3 0.0,38.3Z"/><path fill="#932b80" fill-rule="evenodd" d="M10.3,38.3 70.6,38.3 70.6,14.2 62.0,4.5 58.5,-0.8 16.0,-0.8 16.5,4.5 18.5,12.0 18.0,23.3 16.9,26.4 11.1,36.0 10.3,38.3Z"/><path fill="#b73779" fill-rule="evenodd" d="M17.5,38.3 70.6,38.3 70.6,21.6 63.7,9.0 53.5,-0.8 21.7,-0.8 20.4,5.3 20.9,12.8 20.4,24.8 17.5,36.8 17.5,38.3Z"/><path fill="#d8456c" fill-rule="evenodd" d="M23.5,38.3 67.6,38.3 62.8,12.8 61.6,9.9 59.5,8.3 44.5,-0.8 28.9,-0.8 24.8,3.8 23.3,8.3 22.8,33.0 23.0,38.3 23.5,38.3Z"/><path fill="#f1605d" fill-rule="evenodd" d="M29.6,38.3 56.1,38.3 57.3,31.5 56.9,20.3 58.1,13.5 57.4,12.0 44.7,6.0 39.8,4.5 33.8,4.5 30.2,5.7 28.4,6.8 26.6,9.5 25.8,12.0 25.6,21.8 26.8,31.5 29.6,38.3Z"/><path fill="#fc8961" fill-rule="evenodd" d="M35.0,32.3 38.6,32.5 41.8,30.8 43.4,28.0 45.7,20.3 45.4,17.3 43.4,14.1 40.4,12.0 36.2,10.8 33.2,11.1 30.8,12.3 29.6,14.0 29.2,16.5 30.8,28.9 32.0,30.8 35.0,32.3Z"/></g></g></g><rect x="0" y="0" width="69.75" height="36.80" fill="none" stroke="#3a3a3a" stroke-width="1"/></g>
<text transform="translate(446.52,256.90) scale(1,1.14)" class="t">1989</text>
<g transform="translate(40.60,305.40)"><g transform="scale(1.0014,1.0068)"><g clip-path="url(#pb)"><g clip-path="url(#us)"><path fill="#2c115f" fill-rule="evenodd" d="M-5,-5H75V45H-5Z"/><path fill="#51127c" fill-rule="evenodd" d="M0.0,38.3 70.6,38.3 70.6,6.0 68.8,5.5 67.6,4.4 67.1,2.3 67.4,-0.8 -0.6,-0.8 -0.6,38.3 0.0,38.3Z"/><path fill="#721f81" fill-rule="evenodd" d="M3.0,38.3 70.6,38.3 70.6,9.2 68.2,8.0 66.1,6.0 64.5,3.0 63.4,-0.8 9.6,-0.8 10.5,3.8 14.3,11.3 15.0,22.5 13.4,25.5 3.5,36.8 2.6,38.3 3.0,38.3Z"/><path fill="#932b80" fill-rule="evenodd" d="M14.5,38.3 70.6,38.3 70.6,12.9 64.0,6.0 59.7,-0.8 17.9,-0.8 17.8,4.5 18.9,11.3 18.4,17.3 19.0,24.0 18.1,27.5 14.1,37.6 13.9,38.3 14.5,38.3Z"/><path fill="#b73779" fill-rule="evenodd" d="M21.1,38.3 70.6,38.3 70.6,19.7 64.0,8.5 55.0,-0.8 24.3,-0.8 22.3,4.0 21.6,8.3 21.0,16.5 21.7,26.3 21.1,38.3Z"/><path fill="#d8456c" fill-rule="evenodd" d="M27.2,38.3 67.6,38.3 66.6,29.3 63.3,12.8 62.0,9.8 46.9,-0.8 34.1,-0.8 27.8,3.7 25.9,5.7 24.3,9.0 23.1,16.5 23.4,20.3 27.2,38.3Z"/><path fill="#f1605d" fill-rule="evenodd" d="M35.0,37.7 35.4,38.3 55.0,38.3 57.2,33.0 57.8,27.8 57.1,18.8 57.9,12.6 47.7,5.7 43.4,3.9 38.0,4.0 29.6,7.9 27.2,9.9 25.5,13.5 25.2,18.0 26.2,21.8 30.2,31.3 35.0,37.7Z"/><path fill="#fc8961" fill-rule="evenodd" d="M38.0,29.4 41.6,29.8 44.7,28.8 47.0,26.3 48.0,23.3 48.0,18.8 46.7,14.3 44.3,10.5 41.6,8.9 37.4,9.3 30.8,11.3 28.4,13.2 27.4,15.8 27.7,19.5 29.6,22.6 33.8,27.3 38.0,29.4Z"/><path fill="#feb078" fill-rule="evenodd" d="M31.4,19.7 33.2,20.0 34.9,19.5 35.6,18.8 35.5,17.3 33.2,15.6 30.8,15.8 30.0,18.0 31.4,19.7Z"/></g></g></g><rect x="0" y="0" width="70.10" height="37.05" fill="none" stroke="#3a3a3a" stroke-width="1"/></g>
<text transform="translate(75.65,304.60) scale(1,1.14)" class="t">1990</text>
<line x1="36.90" x2="40.60" y1="312.21" y2="312.21" class="k"/>
<text transform="translate(34.00,315.11) scale(0.98,1.12)" class="yl">45&#176;N</text>
<line x1="36.90" x2="40.60" y1="319.77" y2="319.77" class="k"/>
<text transform="translate(34.00,322.67) scale(0.98,1.12)" class="yl">40&#176;N</text>
<line x1="36.90" x2="40.60" y1="327.33" y2="327.33" class="k"/>
<text transform="translate(34.00,330.23) scale(0.98,1.12)" class="yl">35&#176;N</text>
<line x1="36.90" x2="40.60" y1="334.89" y2="334.89" class="k"/>
<text transform="translate(34.00,337.79) scale(0.98,1.12)" class="yl">30&#176;N</text>
<line x1="36.90" x2="40.60" y1="342.45" y2="342.45" class="k"/>
<g transform="translate(115.30,305.40)"><g transform="scale(1.0000,1.0068)"><g clip-path="url(#pb)"><g clip-path="url(#us)"><path fill="#2c115f" fill-rule="evenodd" d="M-5,-5H75V45H-5Z"/><path fill="#51127c" fill-rule="evenodd" d="M0.0,38.3 70.6,38.3 70.6,6.1 68.8,5.6 67.5,4.5 67.0,2.3 67.3,-0.8 -0.6,-0.8 -0.6,38.3 0.0,38.3Z"/><path fill="#721f81" fill-rule="evenodd" d="M0.6,38.3 70.6,38.3 70.6,9.4 68.2,8.2 65.9,6.0 64.3,3.0 63.2,-0.8 9.2,-0.8 10.3,3.8 14.3,11.3 14.7,22.5 13.3,24.9 1.5,36.8 0.2,38.3 0.6,38.3Z"/><path fill="#932b80" fill-rule="evenodd" d="M12.7,38.3 70.6,38.3 70.6,13.4 63.1,5.3 59.3,-0.8 17.3,-0.8 17.5,3.8 18.9,11.3 18.2,17.3 18.4,24.0 12.6,36.8 12.1,38.3 12.7,38.3Z"/><path fill="#b73779" fill-rule="evenodd" d="M19.3,38.3 70.6,38.3 70.6,20.8 68.2,17.4 63.8,9.0 57.4,3.0 54.4,-0.8 23.1,-0.8 21.7,5.3 20.6,18.0 20.7,26.3 19.0,37.6 18.9,38.3 19.3,38.3Z"/><path fill="#d8456c" fill-rule="evenodd" d="M24.7,38.3 67.6,38.3 66.1,28.5 62.1,12.8 61.1,10.5 47.0,-0.8 30.1,-0.8 25.6,4.5 23.1,13.5 22.7,21.0 24.7,38.3Z"/><path fill="#f1605d" fill-rule="evenodd" d="M31.4,37.9 31.6,38.3 55.5,38.3 56.5,35.3 57.4,31.5 57.5,26.3 56.6,18.0 55.6,14.3 53.3,11.3 48.6,6.8 42.8,3.4 37.4,2.9 32.6,4.4 28.4,7.3 25.6,12.0 25.0,16.5 25.3,21.8 28.0,31.5 31.4,37.9Z"/><path fill="#fc8961" fill-rule="evenodd" d="M38.0,32.3 41.6,32.1 45.0,30.0 47.2,26.3 48.2,21.8 47.5,16.5 45.4,12.0 42.5,9.0 39.2,8.1 34.4,8.7 30.2,10.6 28.2,12.8 27.4,16.5 27.9,21.0 31.4,28.5 33.8,30.8 38.0,32.3Z"/><path fill="#feb078" fill-rule="evenodd" d="M34.4,22.6 36.2,22.6 37.4,22.0 38.6,20.4 38.9,18.8 38.0,15.8 36.2,14.5 34.4,14.2 31.4,15.2 30.3,18.0 31.4,20.6 34.4,22.6Z"/></g></g></g><rect x="0" y="0" width="70.00" height="37.05" fill="none" stroke="#3a3a3a" stroke-width="1"/></g>
<text transform="translate(150.30,304.60) scale(1,1.14)" class="t">1991</text>
<g transform="translate(189.50,305.40)"><g transform="scale(0.9957,1.0068)"><g clip-path="url(#pb)"><g clip-path="url(#us)"><path fill="#2c115f" fill-rule="evenodd" d="M-5,-5H75V45H-5Z"/><path fill="#51127c" fill-rule="evenodd" d="M0.0,38.3 70.6,38.3 70.6,7.5 68.2,6.6 66.8,5.3 65.9,3.0 65.7,-0.8 -0.6,-0.8 -0.6,38.3 0.0,38.3Z"/><path fill="#721f81" fill-rule="evenodd" d="M1.2,38.3 70.6,38.3 70.6,10.4 67.6,8.4 65.3,6.0 63.7,3.0 62.5,-0.8 8.8,-0.8 10.0,3.8 14.3,11.3 14.9,22.5 13.3,25.2 1.9,36.8 0.7,38.3 1.2,38.3Z"/><path fill="#932b80" fill-rule="evenodd" d="M12.7,38.3 70.6,38.3 70.6,14.1 62.8,5.3 59.2,-0.8 16.8,-0.8 17.2,3.8 19.0,11.3 18.9,23.3 18.1,26.4 13.3,36.0 12.7,38.3Z"/><path fill="#b73779" fill-rule="evenodd" d="M19.3,38.3 70.6,38.3 70.6,21.0 63.7,9.0 57.9,3.0 55.1,-0.8 22.2,-0.8 21.4,4.5 21.3,25.5 19.3,38.3Z"/><path fill="#d8456c" fill-rule="evenodd" d="M25.3,38.3 67.0,38.3 66.7,31.5 65.8,24.8 63.2,13.5 61.6,9.9 49.4,-0.8 27.6,-0.8 24.9,4.5 23.4,13.5 24.4,33.0 25.3,38.3Z"/><path fill="#f1605d" fill-rule="evenodd" d="M32.0,38.3 55.1,38.3 58.3,30.0 59.7,19.5 59.3,14.3 58.6,12.0 47.1,3.3 41.0,0.7 36.2,0.5 31.4,2.6 27.8,6.0 25.9,10.5 25.5,16.5 27.8,29.9 29.0,33.4 32.0,38.3Z"/><path fill="#fc8961" fill-rule="evenodd" d="M35.6,31.6 39.8,32.1 44.1,30.6 50.1,23.8 51.9,19.5 51.5,15.8 48.3,10.5 44.1,6.8 39.8,5.3 35.6,5.4 32.0,6.8 29.0,9.6 27.7,12.8 28.1,18.0 31.4,27.8 32.9,30.0 35.6,31.6Z"/><path fill="#feb078" fill-rule="evenodd" d="M36.8,22.6 39.2,22.3 41.6,20.8 43.0,18.8 43.2,15.8 42.0,12.8 39.8,10.8 36.8,9.8 33.8,9.9 32.0,10.7 30.8,12.0 30.3,13.5 30.4,15.8 32.6,20.0 34.4,21.6 36.8,22.6Z"/></g></g></g><rect x="0" y="0" width="69.70" height="37.05" fill="none" stroke="#3a3a3a" stroke-width="1"/></g>
<text transform="translate(224.35,304.60) scale(1,1.14)" class="t">1992</text>
<g transform="translate(263.60,305.40)"><g transform="scale(0.9914,1.0068)"><g clip-path="url(#pb)"><g clip-path="url(#us)"><path fill="#2c115f" fill-rule="evenodd" d="M-5,-5H75V45H-5Z"/><path fill="#51127c" fill-rule="evenodd" d="M0.0,38.3 70.6,38.3 70.6,6.0 68.8,5.5 67.6,4.4 67.2,2.3 67.6,-0.8 -0.6,-0.8 -0.6,38.3 0.0,38.3Z"/><path fill="#721f81" fill-rule="evenodd" d="M3.0,38.3 70.6,38.3 70.6,9.1 67.6,7.5 65.8,5.5 64.5,3.0 63.7,-0.8 8.1,-0.8 9.5,3.8 14.3,11.3 15.0,22.5 13.9,24.8 3.6,36.8 2.6,38.3 3.0,38.3Z"/><path fill="#932b80" fill-rule="evenodd" d="M13.9,38.3 70.6,38.3 70.6,12.7 67.6,10.1 64.1,6.0 60.1,-0.8 15.9,-0.8 19.0,11.3 18.6,17.3 19.0,23.3 18.2,27.0 13.9,38.3Z"/><path fill="#b73779" fill-rule="evenodd" d="M21.1,38.3 70.6,38.3 70.6,18.6 64.4,9.0 58.6,3.0 55.8,-0.8 21.1,-0.8 21.6,25.5 20.7,37.6 20.7,38.3 21.1,38.3Z"/><path fill="#d8456c" fill-rule="evenodd" d="M27.2,38.3 68.3,38.3 68.1,32.3 67.0,25.5 63.5,12.8 62.1,9.8 53.5,3.0 49.7,-0.8 25.8,-0.8 24.2,4.5 23.5,17.3 25.6,32.3 27.2,38.3Z"/><path fill="#f1605d" fill-rule="evenodd" d="M35.6,38.2 55.2,38.3 58.5,31.6 59.9,24.0 59.8,15.8 58.5,11.8 44.7,2.6 38.5,-0.8 33.5,-0.8 29.0,2.3 27.1,5.3 25.7,12.8 26.3,19.5 29.5,30.0 31.4,33.3 35.6,38.2Z"/><path fill="#fc8961" fill-rule="evenodd" d="M37.4,28.7 42.2,29.0 46.4,27.0 50.1,22.5 51.1,19.5 51.3,17.3 50.6,15.0 49.5,13.5 40.4,6.4 37.4,4.8 34.4,4.4 31.8,5.3 29.7,7.5 28.3,11.3 28.1,15.0 29.2,19.5 32.0,24.3 34.4,27.1 37.4,28.7Z"/><path fill="#feb078" fill-rule="evenodd" d="M35.0,19.5 36.8,19.5 38.1,18.8 39.3,17.3 39.8,15.0 39.3,12.8 37.7,10.5 36.2,9.4 34.4,9.0 31.9,10.5 31.1,14.3 32.4,18.0 35.0,19.5Z"/></g></g></g><rect x="0" y="0" width="69.40" height="37.05" fill="none" stroke="#3a3a3a" stroke-width="1"/></g>
<text transform="translate(298.30,304.60) scale(1,1.14)" class="t">1993</text>
<g transform="translate(337.50,305.40)"><g transform="scale(1.0000,1.0068)"><g clip-path="url(#pb)"><g clip-path="url(#us)"><path fill="#51127c" fill-rule="evenodd" d="M-5,-5H75V45H-5Z"/><path fill="#721f81" fill-rule="evenodd" d="M2.4,38.3 70.6,38.3 70.6,7.9 68.2,6.9 66.5,5.3 65.6,3.0 65.0,-0.8 8.6,-0.8 9.9,3.8 14.2,11.3 14.9,22.5 13.3,25.5 2.4,38.3Z"/><path fill="#932b80" fill-rule="evenodd" d="M13.9,38.3 70.6,38.3 70.6,11.5 67.6,9.1 64.8,6.0 61.3,-0.8 16.8,-0.8 17.2,3.8 19.0,11.3 19.0,23.3 18.4,26.3 14.0,36.8 13.9,38.3Z"/><path fill="#b73779" fill-rule="evenodd" d="M20.5,38.3 70.6,38.3 70.6,17.2 64.4,8.3 59.6,3.0 56.9,-0.8 22.6,-0.8 21.5,5.3 21.6,26.3 20.5,38.3Z"/><path fill="#d8456c" fill-rule="evenodd" d="M27.2,38.3 68.6,38.3 68.5,32.3 67.6,26.3 62.8,9.8 50.3,-0.8 29.2,-0.8 25.3,5.1 23.8,13.5 24.0,21.8 25.7,33.8 26.7,38.3 27.2,38.3Z"/><path fill="#f1605d" fill-rule="evenodd" d="M34.4,37.9 34.6,38.3 54.8,38.3 58.3,33.0 59.7,29.7 60.5,23.3 59.9,15.0 59.1,12.0 57.0,9.8 53.1,6.9 45.3,3.1 39.2,2.4 33.8,3.8 29.0,7.3 26.6,11.6 26.2,14.3 26.6,18.8 29.0,28.6 30.8,32.9 34.4,37.9Z"/><path fill="#fc8961" fill-rule="evenodd" d="M43.4,32.3 46.5,31.9 48.9,30.8 51.9,28.6 53.6,26.3 54.6,21.8 53.7,14.5 52.7,12.8 50.8,11.3 44.7,9.0 40.4,8.5 35.0,9.6 31.9,11.3 30.0,13.5 29.6,16.5 30.2,19.6 33.2,25.6 35.6,28.8 39.2,31.3 43.4,32.3Z"/><path fill="#feb078" fill-rule="evenodd" d="M46.5,23.8 48.3,23.3 48.6,21.8 48.2,21.0 47.1,20.8 46.0,21.8 45.9,23.3 46.5,23.8Z"/></g></g></g><rect x="0" y="0" width="70.00" height="37.05" fill="none" stroke="#3a3a3a" stroke-width="1"/></g>
<text transform="translate(372.50,304.60) scale(1,1.14)" class="t">1994</text>
<g transform="translate(411.65,305.40)"><g transform="scale(0.9964,1.0068)"><g clip-path="url(#pb)"><g clip-path="url(#us)"><path fill="#2c115f" fill-rule="evenodd" d="M-5,-5H75V45H-5Z"/><path fill="#51127c" fill-rule="evenodd" d="M0.0,38.3 70.6,38.3 70.6,6.2 68.8,5.7 67.6,4.5 67.2,2.3 67.8,-0.8 -0.6,-0.8 -0.6,38.3 0.0,38.3Z"/><path fill="#721f81" fill-rule="evenodd" d="M1.2,38.3 70.6,38.3 70.6,9.7 68.2,8.3 65.9,6.0 64.5,3.0 63.7,-0.8 8.4,-0.8 9.7,3.8 14.2,11.3 14.9,22.5 13.3,25.3 1.2,38.3Z"/><path fill="#932b80" fill-rule="evenodd" d="M13.3,38.3 70.6,38.3 70.6,14.2 63.2,5.3 60.1,-0.8 16.6,-0.8 17.1,3.8 19.0,11.3 18.9,23.3 18.1,26.7 13.5,36.8 13.3,38.3Z"/><path fill="#b73779" fill-rule="evenodd" d="M20.5,38.3 70.6,38.3 70.6,23.6 67.6,18.6 64.0,9.4 58.2,3.0 55.8,-0.8 22.4,-0.8 21.5,5.3 21.5,25.5 20.1,37.6 20.0,38.3 20.5,38.3Z"/><path fill="#d8456c" fill-rule="evenodd" d="M26.6,38.3 65.9,38.3 65.0,31.5 61.6,19.5 61.3,11.3 60.4,9.8 55.5,5.3 50.1,-0.8 28.7,-0.8 26.6,2.4 24.7,7.5 24.0,15.8 25.2,31.5 26.6,38.3Z"/><path fill="#f1605d" fill-rule="evenodd" d="M34.4,38.3 54.5,38.3 56.1,33.8 56.2,29.3 54.3,20.3 54.4,13.5 53.8,11.3 51.3,7.5 48.3,4.2 45.3,2.1 42.2,1.0 38.0,1.1 33.8,3.0 29.0,7.5 26.9,12.0 27.1,19.5 29.1,29.3 30.8,33.1 34.4,38.3Z"/><path fill="#fc8961" fill-rule="evenodd" d="M39.8,29.3 43.2,29.3 45.8,27.8 47.0,25.5 47.6,21.8 47.5,15.0 46.5,10.5 44.7,7.5 41.6,6.1 38.0,6.9 34.0,9.8 31.4,12.8 30.5,15.8 31.1,19.5 33.8,25.1 36.2,27.8 39.8,29.3Z"/></g></g></g><rect x="0" y="0" width="69.75" height="37.05" fill="none" stroke="#3a3a3a" stroke-width="1"/></g>
<text transform="translate(446.52,304.60) scale(1,1.14)" class="t">1995</text>
<g transform="translate(40.60,353.40)"><g transform="scale(1.0014,1.0068)"><g clip-path="url(#pb)"><g clip-path="url(#us)"><path fill="#2c115f" fill-rule="evenodd" d="M-5,-5H75V45H-5Z"/><path fill="#51127c" fill-rule="evenodd" d="M0.0,38.3 70.6,38.3 70.6,6.0 68.8,5.5 67.6,4.5 67.1,2.3 67.3,-0.8 -0.6,-0.8 -0.6,38.3 0.0,38.3Z"/><path fill="#721f81" fill-rule="evenodd" d="M1.8,38.3 70.6,38.3 70.6,9.2 68.2,8.0 66.1,6.0 64.5,3.0 63.4,-0.8 10.1,-0.8 11.0,3.8 14.7,11.3 14.9,22.5 13.6,24.8 3.2,36.0 1.8,38.3Z"/><path fill="#932b80" fill-rule="evenodd" d="M13.3,38.3 70.6,38.3 70.6,12.9 64.0,6.0 59.7,-0.8 18.8,-0.8 18.8,3.8 19.6,11.3 18.8,17.3 18.9,24.0 13.3,38.3Z"/><path fill="#b73779" fill-rule="evenodd" d="M20.5,38.3 70.6,38.3 70.6,19.6 64.0,8.5 54.9,-0.8 25.3,-0.8 23.4,4.5 21.8,15.0 20.5,38.3Z"/><path fill="#d8456c" fill-rule="evenodd" d="M27.2,38.3 64.6,38.3 65.6,30.8 65.5,24.0 64.0,15.0 62.1,9.8 53.1,3.3 44.8,-0.8 36.1,-0.8 29.6,3.1 27.8,5.0 25.9,8.5 24.8,12.0 24.2,15.8 24.1,21.8 25.0,30.0 27.2,38.3Z"/><path fill="#f1605d" fill-rule="evenodd" d="M39.8,37.7 44.7,37.1 50.1,33.9 56.1,28.1 59.0,22.5 59.8,16.5 59.0,12.0 55.5,9.0 49.5,6.2 42.8,5.2 36.2,5.9 30.8,8.6 28.8,10.5 27.5,12.8 27.2,20.3 29.8,30.8 31.4,33.1 33.8,35.1 39.8,37.7Z"/><path fill="#fc8961" fill-rule="evenodd" d="M35.6,25.7 38.0,26.2 40.4,25.8 50.7,20.7 52.5,19.0 53.5,17.3 53.7,15.0 53.1,13.5 50.7,11.6 47.1,11.1 37.4,11.8 32.7,13.5 31.0,15.8 30.9,18.8 33.2,23.5 35.6,25.7Z"/></g></g></g><rect x="0" y="0" width="70.10" height="37.05" fill="none" stroke="#3a3a3a" stroke-width="1"/></g>
<text transform="translate(75.65,352.60) scale(1,1.14)" class="t">1996</text>
<line x1="36.90" x2="40.60" y1="360.21" y2="360.21" class="k"/>
<line x1="36.90" x2="40.60" y1="367.77" y2="367.77" class="k"/>
<line x1="36.90" x2="40.60" y1="375.33" y2="375.33" class="k"/>
<line x1="36.90" x2="40.60" y1="382.89" y2="382.89" class="k"/>
<line x1="36.90" x2="40.60" y1="390.45" y2="390.45" class="k"/>
<g transform="translate(115.30,353.40)"><g transform="scale(1.0000,1.0068)"><g clip-path="url(#pb)"><g clip-path="url(#us)"><path fill="#2c115f" fill-rule="evenodd" d="M-5,-5H75V45H-5Z"/><path fill="#51127c" fill-rule="evenodd" d="M0.0,38.3 70.6,38.3 70.6,-0.8 3.4,-0.8 3.4,5.3 6.4,12.8 5.9,18.0 6.6,21.8 4.8,24.9 -0.6,28.1 -0.6,38.3 0.0,38.3Z"/><path fill="#721f81" fill-rule="evenodd" d="M4.8,38.3 70.6,38.3 70.6,7.8 68.2,6.8 66.5,5.3 64.5,-0.8 13.8,-0.8 14.4,3.8 17.0,12.0 16.3,17.3 16.4,22.5 14.8,25.5 5.2,36.8 4.3,38.3 4.8,38.3Z"/><path fill="#932b80" fill-rule="evenodd" d="M13.3,38.3 70.6,38.3 70.6,11.2 65.4,6.8 60.4,-0.8 20.7,-0.8 19.8,4.5 20.2,12.0 19.2,24.0 13.3,38.3Z"/><path fill="#b73779" fill-rule="evenodd" d="M19.9,38.3 70.6,38.3 70.6,16.4 64.0,7.7 55.0,-0.8 27.7,-0.8 24.7,3.4 23.2,7.5 21.3,26.3 19.4,37.6 19.3,38.3 19.9,38.3Z"/><path fill="#d8456c" fill-rule="evenodd" d="M24.7,38.3 70.6,38.3 70.5,33.8 66.9,21.0 62.8,9.8 60.3,7.8 51.3,2.7 47.1,1.1 43.4,0.3 37.4,1.3 29.0,6.3 26.6,9.0 25.1,13.5 24.0,23.3 24.7,38.3Z"/><path fill="#f1605d" fill-rule="evenodd" d="M30.8,38.3 56.8,38.3 59.5,30.8 60.5,24.8 60.0,15.0 58.5,11.7 50.1,7.4 42.8,5.8 37.4,7.1 30.2,11.4 28.3,14.3 27.1,24.8 28.0,31.5 30.8,38.3Z"/><path fill="#fc8961" fill-rule="evenodd" d="M39.2,34.7 42.8,34.6 46.5,32.7 50.6,27.8 52.5,24.0 52.9,19.5 51.9,16.1 49.5,13.6 45.9,12.0 41.6,11.6 37.4,13.0 33.8,15.7 32.0,19.4 31.3,24.8 32.0,29.3 35.0,32.8 39.2,34.7Z"/><path fill="#feb078" fill-rule="evenodd" d="M40.4,26.3 42.8,25.9 44.8,23.3 44.7,20.5 42.8,18.9 39.8,19.3 38.0,21.8 38.3,24.8 40.4,26.3Z"/></g></g></g><rect x="0" y="0" width="70.00" height="37.05" fill="none" stroke="#3a3a3a" stroke-width="1"/></g>
<text transform="translate(150.30,352.60) scale(1,1.14)" class="t">1997</text>
<g transform="translate(189.50,353.40)"><g transform="scale(0.9957,1.0068)"><g clip-path="url(#pb)"><g clip-path="url(#us)"><path fill="#2c115f" fill-rule="evenodd" d="M-5,-5H75V45H-5Z"/><path fill="#51127c" fill-rule="evenodd" d="M0.0,38.3 70.6,38.3 70.6,-0.8 3.1,-0.8 3.4,5.3 6.4,12.8 5.9,18.0 6.7,21.8 6.3,23.3 4.8,25.2 -0.6,28.6 -0.6,38.3 0.0,38.3Z"/><path fill="#721f81" fill-rule="evenodd" d="M5.4,38.3 70.6,38.3 70.6,7.8 68.2,6.7 66.7,5.3 65.7,3.0 65.1,-0.8 13.3,-0.8 14.1,3.8 16.9,11.3 16.4,22.5 15.1,25.3 6.5,36.0 5.4,38.3Z"/><path fill="#932b80" fill-rule="evenodd" d="M13.9,38.3 70.6,38.3 70.6,11.1 67.6,8.8 65.1,6.0 61.5,-0.8 19.9,-0.8 19.6,3.8 20.1,12.0 19.3,24.0 13.9,38.3Z"/><path fill="#b73779" fill-rule="evenodd" d="M19.9,38.3 70.6,38.3 70.6,16.3 64.8,8.3 57.2,-0.8 25.6,-0.8 23.8,3.8 23.0,7.5 19.9,38.3Z"/><path fill="#d8456c" fill-rule="evenodd" d="M25.3,38.3 69.4,38.3 68.9,32.3 67.5,24.0 64.8,12.8 63.1,9.0 50.1,-0.8 34.0,-0.8 27.8,5.0 24.9,12.0 24.0,22.5 24.4,33.0 25.3,38.3Z"/><path fill="#f1605d" fill-rule="evenodd" d="M31.4,38.3 55.8,38.3 58.7,31.5 60.1,25.5 61.3,13.5 60.8,11.3 59.7,9.8 50.1,4.8 42.8,3.2 39.2,3.6 36.2,4.8 29.6,9.5 27.3,13.5 27.0,24.0 28.2,31.5 31.4,38.3Z"/><path fill="#fc8961" fill-rule="evenodd" d="M37.4,33.8 41.0,34.5 44.7,33.6 47.7,31.3 51.1,27.0 53.1,22.8 54.4,15.8 54.2,13.5 52.1,11.3 46.8,9.0 41.6,8.5 35.6,10.7 31.6,14.3 30.7,16.5 30.4,19.5 31.4,27.9 33.2,31.0 37.4,33.8Z"/><path fill="#feb078" fill-rule="evenodd" d="M39.2,26.4 41.0,26.7 42.8,26.2 44.5,24.8 45.9,22.5 46.4,18.8 45.8,17.3 44.1,16.0 42.2,15.6 39.8,16.0 37.6,17.3 36.5,18.8 36.0,21.0 36.4,23.3 37.4,25.1 39.2,26.4Z"/></g></g></g><rect x="0" y="0" width="69.70" height="37.05" fill="none" stroke="#3a3a3a" stroke-width="1"/></g>
<text transform="translate(224.35,352.60) scale(1,1.14)" class="t">1998</text>
<g transform="translate(263.60,353.40)"><g transform="scale(0.9914,1.0068)"><g clip-path="url(#pb)"><g clip-path="url(#us)"><path fill="#2c115f" fill-rule="evenodd" d="M-5,-5H75V45H-5Z"/><path fill="#51127c" fill-rule="evenodd" d="M0.0,38.3 70.6,38.3 70.6,-0.8 2.9,-0.8 3.6,5.7 7.0,12.0 7.0,14.3 6.0,18.0 6.7,21.8 6.3,23.3 4.8,25.2 -0.6,28.7 -0.6,38.3 0.0,38.3Z"/><path fill="#721f81" fill-rule="evenodd" d="M5.4,38.3 70.6,38.3 70.6,8.0 68.2,6.9 66.5,5.3 65.6,3.0 65.0,-0.8 13.0,-0.8 13.9,3.0 17.2,11.3 16.4,22.5 15.1,25.4 6.7,36.0 5.4,38.3Z"/><path fill="#932b80" fill-rule="evenodd" d="M14.5,38.3 70.6,38.3 70.6,11.7 64.8,6.0 61.2,-0.8 19.3,-0.8 20.2,11.3 19.3,23.8 14.4,36.8 13.9,38.3 14.5,38.3Z"/><path fill="#b73779" fill-rule="evenodd" d="M19.9,38.3 70.6,38.3 70.6,18.4 64.6,8.5 56.6,-0.8 24.3,-0.8 23.1,4.5 21.5,26.3 19.9,38.3Z"/><path fill="#d8456c" fill-rule="evenodd" d="M25.3,38.3 67.8,38.3 66.9,30.0 63.5,12.0 62.7,9.8 49.6,-0.8 30.4,-0.8 26.6,4.5 24.5,12.8 23.9,22.5 25.3,38.3Z"/><path fill="#f1605d" fill-rule="evenodd" d="M31.4,38.3 55.3,38.3 57.1,33.0 57.9,28.5 57.4,18.8 58.6,13.5 57.9,11.3 49.1,5.3 42.8,2.8 39.2,2.5 36.2,3.0 33.2,4.2 30.8,6.0 27.1,12.0 26.6,20.3 28.0,30.8 31.4,38.3Z"/><path fill="#fc8961" fill-rule="evenodd" d="M39.2,34.6 44.1,34.1 47.6,31.5 50.4,27.0 51.4,21.8 51.0,15.8 49.5,12.8 45.3,9.5 40.4,8.2 36.2,8.8 32.6,10.9 30.5,13.5 29.7,17.3 30.2,23.6 31.8,29.3 35.0,32.7 39.2,34.6Z"/><path fill="#feb078" fill-rule="evenodd" d="M37.4,26.5 39.2,27.0 41.6,26.4 43.4,24.9 44.4,23.3 44.9,21.0 44.7,18.8 43.4,16.8 41.6,15.7 39.8,15.2 37.4,15.5 35.6,16.5 34.5,18.0 34.2,20.3 34.8,23.3 36.1,25.5 37.4,26.5Z"/></g></g></g><rect x="0" y="0" width="69.40" height="37.05" fill="none" stroke="#3a3a3a" stroke-width="1"/></g>
<text transform="translate(298.30,352.60) scale(1,1.14)" class="t">1999</text>
<g transform="translate(337.50,353.40)"><g transform="scale(1.0000,1.0068)"><g clip-path="url(#pb)"><g clip-path="url(#us)"><path fill="#51127c" fill-rule="evenodd" d="M-5,-5H75V45H-5Z"/><path fill="#721f81" fill-rule="evenodd" d="M0.0,38.3 70.6,38.3 70.6,7.9 68.2,6.9 66.5,5.3 65.5,3.0 64.9,-0.8 9.4,-0.8 10.6,3.8 14.7,11.3 14.9,22.5 12.7,25.5 -0.6,37.9 -0.6,38.3 0.0,38.3Z"/><path fill="#932b80" fill-rule="evenodd" d="M12.1,38.3 70.6,38.3 70.6,11.3 67.6,9.1 64.8,6.0 61.1,-0.8 17.9,-0.8 19.6,10.5 18.9,23.3 17.5,27.3 12.3,36.8 12.1,38.3Z"/><path fill="#b73779" fill-rule="evenodd" d="M18.7,38.3 70.6,38.3 70.6,16.8 64.4,8.3 58.7,2.3 56.5,-0.8 23.6,-0.8 22.9,3.8 21.2,25.5 18.7,38.3Z"/><path fill="#d8456c" fill-rule="evenodd" d="M24.7,38.3 70.1,38.3 67.8,25.5 62.8,9.8 49.6,-0.8 29.9,-0.8 26.6,4.5 24.5,13.5 23.9,30.8 24.7,38.3Z"/><path fill="#f1605d" fill-rule="evenodd" d="M30.8,38.2 56.3,38.3 59.2,30.8 60.3,24.8 59.9,15.0 59.3,12.8 58.2,11.3 48.3,4.9 42.8,2.8 36.8,2.8 33.8,3.9 31.4,5.5 27.6,12.0 26.9,20.3 27.8,30.7 30.8,38.2Z"/><path fill="#fc8961" fill-rule="evenodd" d="M40.4,34.6 44.7,33.7 48.3,30.7 51.4,26.3 52.7,21.0 52.3,17.3 50.0,13.5 45.3,9.8 41.0,8.5 36.8,9.2 33.2,11.6 31.0,15.0 30.5,18.8 31.0,26.3 32.3,30.0 36.2,33.4 40.4,34.6Z"/><path fill="#feb078" fill-rule="evenodd" d="M38.6,25.7 41.7,25.5 43.3,24.0 43.9,22.5 43.5,19.5 41.0,17.6 38.0,18.0 36.5,20.3 36.6,23.3 38.6,25.7Z"/></g></g></g><rect x="0" y="0" width="70.00" height="37.05" fill="none" stroke="#3a3a3a" stroke-width="1"/></g>
<text transform="translate(372.50,352.60) scale(1,1.14)" class="t">2000</text>
<g transform="translate(411.65,353.40)"><g transform="scale(0.9964,1.0068)"><g clip-path="url(#pb)"><g clip-path="url(#us)"><path fill="#51127c" fill-rule="evenodd" d="M-5,-5H75V45H-5Z"/><path fill="#721f81" fill-rule="evenodd" d="M0.0,38.3 70.6,38.3 70.6,8.0 68.2,6.9 66.5,5.3 65.6,3.0 65.1,-0.8 9.3,-0.8 10.6,3.8 14.7,11.3 15.1,21.8 13.3,24.8 -0.6,37.5 -0.6,38.3 0.0,38.3Z"/><path fill="#932b80" fill-rule="evenodd" d="M12.1,38.3 70.6,38.3 70.6,11.7 64.8,6.0 61.3,-0.8 17.8,-0.8 19.6,10.5 18.9,23.3 17.5,27.2 12.2,36.8 11.6,38.3 12.1,38.3Z"/><path fill="#b73779" fill-rule="evenodd" d="M18.7,38.3 70.6,38.3 70.6,18.4 64.6,8.5 56.9,-0.8 23.6,-0.8 21.2,25.5 18.7,38.3Z"/><path fill="#d8456c" fill-rule="evenodd" d="M24.7,38.3 68.0,38.3 67.1,30.8 63.5,12.0 62.7,9.8 50.1,-0.8 29.8,-0.8 26.6,4.5 24.5,13.5 23.9,31.5 24.3,38.3 24.7,38.3Z"/><path fill="#f1605d" fill-rule="evenodd" d="M30.8,38.3 55.6,38.3 57.3,32.3 58.0,27.8 57.4,18.8 58.6,12.8 57.3,10.7 48.9,5.0 42.8,2.6 36.8,2.7 33.8,3.8 31.4,5.5 27.6,12.0 26.9,19.5 27.7,30.8 30.8,38.3Z"/><path fill="#fc8961" fill-rule="evenodd" d="M38.6,34.6 42.8,34.7 46.5,32.9 49.7,28.5 51.3,23.3 51.1,17.3 50.1,13.9 46.3,10.5 41.6,8.6 37.4,9.2 33.8,11.2 31.4,14.2 30.6,17.3 31.0,24.8 32.0,29.3 34.5,32.3 38.6,34.6Z"/><path fill="#feb078" fill-rule="evenodd" d="M41.0,25.6 42.8,26.1 44.7,25.2 45.2,23.3 44.1,21.5 41.6,20.7 39.8,21.4 39.4,23.3 41.0,25.6Z"/></g></g></g><rect x="0" y="0" width="69.75" height="37.05" fill="none" stroke="#3a3a3a" stroke-width="1"/></g>
<text transform="translate(446.52,352.60) scale(1,1.14)" class="t">2001</text>
<g transform="translate(40.60,400.60)"><g transform="scale(1.0014,1.0014)"><g clip-path="url(#pb)"><g clip-path="url(#us)"><path fill="#2c115f" fill-rule="evenodd" d="M-5,-5H75V45H-5Z"/><path fill="#51127c" fill-rule="evenodd" d="M0.0,38.3 70.6,38.3 70.6,-0.8 2.5,-0.8 3.6,6.0 6.4,12.0 5.9,18.0 6.9,21.8 6.6,23.3 5.2,25.5 -0.6,30.2 -0.6,38.3 0.0,38.3Z"/><path fill="#721f81" fill-rule="evenodd" d="M7.8,38.3 70.6,38.3 70.6,8.4 68.2,7.2 66.4,5.3 65.5,3.0 65.0,-0.8 11.7,-0.8 12.9,3.8 16.3,11.3 16.4,22.5 15.3,25.5 8.1,36.8 7.4,38.3 7.8,38.3Z"/><path fill="#932b80" fill-rule="evenodd" d="M15.7,38.3 70.6,38.3 70.6,13.0 64.0,5.3 61.1,-0.8 17.9,-0.8 18.2,4.5 19.6,12.0 19.4,24.0 15.7,38.3Z"/><path fill="#b73779" fill-rule="evenodd" d="M21.7,37.8 21.7,38.3 70.6,38.3 70.6,25.0 68.8,21.3 64.6,9.3 59.0,3.0 56.4,-0.8 23.0,-0.8 21.7,6.0 21.7,37.8Z"/><path fill="#d8456c" fill-rule="evenodd" d="M27.8,38.3 61.3,38.3 62.1,30.8 61.3,20.3 61.8,11.3 60.4,9.0 49.6,-0.8 29.3,-0.8 26.0,3.8 24.4,9.8 24.1,21.0 25.7,31.5 27.8,38.3Z"/><path fill="#f1605d" fill-rule="evenodd" d="M36.8,37.6 37.9,38.3 46.0,38.3 49.5,35.5 51.5,33.0 53.5,29.3 54.5,25.5 55.6,14.3 55.0,11.3 52.6,8.3 48.9,5.3 45.3,3.5 41.6,2.5 36.2,2.9 31.4,5.2 28.4,8.4 26.8,12.8 27.2,21.0 29.6,30.0 32.6,34.3 36.8,37.6Z"/><path fill="#fc8961" fill-rule="evenodd" d="M37.4,29.5 41.0,29.9 44.7,28.6 48.3,25.0 50.0,21.0 50.5,16.5 49.9,13.5 47.1,10.5 42.8,8.6 39.2,8.3 35.6,9.3 32.6,11.4 30.8,14.3 30.7,18.8 32.3,24.0 34.4,27.5 37.4,29.5Z"/><path fill="#feb078" fill-rule="evenodd" d="M40.4,22.7 43.4,22.4 45.1,20.3 44.7,17.4 42.2,15.7 39.2,16.0 37.6,18.0 38.2,21.0 40.4,22.7Z"/></g></g></g><rect x="0" y="0" width="70.10" height="36.85" fill="none" stroke="#3a3a3a" stroke-width="1"/></g>
<text transform="translate(75.65,399.80) scale(1,1.14)" class="t">2002</text>
<line x1="36.90" x2="40.60" y1="407.37" y2="407.37" class="k"/>
<text transform="translate(34.00,410.27) scale(0.98,1.12)" class="yl">45&#176;N</text>
<line x1="36.90" x2="40.60" y1="414.89" y2="414.89" class="k"/>
<text transform="translate(34.00,417.79) scale(0.98,1.12)" class="yl">40&#176;N</text>
<line x1="36.90" x2="40.60" y1="422.41" y2="422.41" class="k"/>
<text transform="translate(34.00,425.31) scale(0.98,1.12)" class="yl">35&#176;N</text>
<line x1="36.90" x2="40.60" y1="429.93" y2="429.93" class="k"/>
<text transform="translate(34.00,432.83) scale(0.98,1.12)" class="yl">30&#176;N</text>
<line x1="36.90" x2="40.60" y1="437.45" y2="437.45" class="k"/>
<g transform="translate(115.30,400.60)"><g transform="scale(1.0000,1.0014)"><g clip-path="url(#pb)"><g clip-path="url(#us)"><path fill="#2c115f" fill-rule="evenodd" d="M-5,-5H75V45H-5Z"/><path fill="#51127c" fill-rule="evenodd" d="M0.0,38.3 70.6,38.3 70.6,-0.8 3.2,-0.8 3.5,5.3 6.9,12.0 6.0,18.0 6.8,21.8 6.5,23.3 4.8,25.5 -0.6,29.3 -0.6,38.3 0.0,38.3Z"/><path fill="#721f81" fill-rule="evenodd" d="M6.6,38.3 70.6,38.3 70.6,8.2 68.2,7.1 66.3,5.3 65.3,3.0 64.6,-0.8 13.5,-0.8 14.2,3.0 17.2,11.3 16.4,17.3 16.4,22.5 15.1,25.7 7.7,36.0 6.6,38.3Z"/><path fill="#932b80" fill-rule="evenodd" d="M15.1,38.3 70.6,38.3 70.6,12.1 68.2,10.2 64.5,6.0 60.5,-0.8 20.0,-0.8 19.7,3.8 20.3,11.3 19.4,18.0 19.4,24.0 15.1,38.3Z"/><path fill="#b73779" fill-rule="evenodd" d="M21.7,38.3 70.6,38.3 70.6,19.3 68.8,17.0 64.5,9.0 58.5,3.0 55.5,-0.8 25.6,-0.8 23.4,5.3 21.8,18.0 21.2,38.3 21.7,38.3Z"/><path fill="#d8456c" fill-rule="evenodd" d="M27.2,38.3 67.5,38.3 66.3,28.5 61.6,10.3 47.6,-0.8 34.2,-0.8 30.8,2.1 28.4,4.2 26.7,6.8 25.2,10.5 24.6,14.3 24.2,22.5 27.2,38.3Z"/><path fill="#f1605d" fill-rule="evenodd" d="M34.4,38.2 54.6,38.3 57.3,32.3 58.1,25.5 56.4,13.5 55.1,11.3 52.1,8.3 48.9,5.9 45.3,4.2 40.4,3.6 36.2,4.7 30.2,8.8 27.5,12.8 27.2,20.3 28.5,27.0 30.5,32.3 34.4,38.2Z"/><path fill="#fc8961" fill-rule="evenodd" d="M39.8,32.3 44.1,32.5 47.7,30.7 50.6,27.0 51.8,22.5 51.5,17.3 50.0,13.5 46.5,10.2 42.2,8.6 38.6,9.1 34.4,11.2 31.9,13.5 30.7,16.5 31.2,21.8 33.3,27.0 36.2,30.4 39.8,32.3Z"/><path fill="#feb078" fill-rule="evenodd" d="M39.8,25.0 41.6,25.3 43.4,24.9 45.3,23.4 46.1,21.8 46.4,19.5 45.9,17.7 44.7,16.0 42.8,15.0 39.2,15.3 37.4,16.5 36.5,18.0 36.3,19.5 36.8,21.9 38.0,23.7 39.8,25.0Z"/></g></g></g><rect x="0" y="0" width="70.00" height="36.85" fill="none" stroke="#3a3a3a" stroke-width="1"/></g>
<text transform="translate(150.30,399.80) scale(1,1.14)" class="t">2003</text>
<g transform="translate(189.50,400.60)"><g transform="scale(0.9957,1.0014)"><g clip-path="url(#pb)"><g clip-path="url(#us)"><path fill="#2c115f" fill-rule="evenodd" d="M-5,-5H75V45H-5Z"/><path fill="#51127c" fill-rule="evenodd" d="M0.0,38.3 70.6,38.3 70.6,6.3 68.8,5.7 67.5,4.5 67.2,2.3 67.6,-0.8 3.1,-0.8 3.6,5.7 6.9,12.0 6.0,18.0 6.8,21.8 6.5,23.3 4.8,25.5 -0.6,29.4 -0.6,38.3 0.0,38.3Z"/><path fill="#721f81" fill-rule="evenodd" d="M7.2,38.3 70.6,38.3 70.6,9.8 68.2,8.3 65.9,6.0 64.4,3.0 63.5,-0.8 13.4,-0.8 14.2,3.0 17.2,11.3 16.4,17.3 16.4,22.5 15.1,25.7 7.4,36.8 6.7,38.3 7.2,38.3Z"/><path fill="#932b80" fill-rule="evenodd" d="M15.7,38.3 70.6,38.3 70.6,14.7 62.7,4.5 59.9,-0.8 19.9,-0.8 20.3,11.3 19.4,18.0 19.3,24.0 15.5,36.8 15.2,38.3 15.7,38.3Z"/><path fill="#b73779" fill-rule="evenodd" d="M21.7,38.3 70.6,38.3 70.6,27.5 68.2,22.0 64.5,10.5 63.4,8.5 58.1,3.0 55.5,-0.8 25.4,-0.8 23.3,6.0 21.8,18.8 21.4,36.0 21.7,38.3Z"/><path fill="#d8456c" fill-rule="evenodd" d="M27.8,38.3 61.2,38.3 61.9,30.8 61.1,19.5 61.3,11.3 60.3,9.7 49.2,-0.8 32.9,-0.8 27.2,5.9 24.9,12.0 24.1,21.0 25.7,32.3 27.8,38.3Z"/><path fill="#f1605d" fill-rule="evenodd" d="M36.8,37.9 37.3,38.3 46.5,38.3 51.5,33.0 53.2,30.0 54.2,26.3 54.4,14.3 53.7,11.3 51.8,8.3 48.9,5.1 45.9,3.1 42.8,2.1 39.2,2.3 35.6,4.0 29.6,9.3 27.3,13.5 27.3,21.0 29.5,30.0 32.0,33.9 36.8,37.9Z"/><path fill="#fc8961" fill-rule="evenodd" d="M39.8,29.3 42.8,29.0 45.9,27.3 47.7,24.8 48.8,21.0 48.7,16.5 47.3,11.3 45.3,8.1 42.2,6.5 39.2,7.2 34.6,10.5 31.7,13.5 30.7,16.5 31.4,21.0 33.8,26.1 36.2,28.3 39.8,29.3Z"/></g></g></g><rect x="0" y="0" width="69.70" height="36.85" fill="none" stroke="#3a3a3a" stroke-width="1"/></g>
<text transform="translate(224.35,399.80) scale(1,1.14)" class="t">2004</text>
<g transform="translate(263.60,400.60)"><g transform="scale(0.9914,1.0014)"><g clip-path="url(#pb)"><g clip-path="url(#us)"><path fill="#2c115f" fill-rule="evenodd" d="M-5,-5H75V45H-5Z"/><path fill="#51127c" fill-rule="evenodd" d="M0.0,38.3 70.6,38.3 70.6,-0.8 3.1,-0.8 3.6,5.7 6.9,12.0 6.0,18.0 6.8,21.8 6.4,23.3 4.8,25.4 -0.6,29.1 -0.6,38.3 0.0,38.3Z"/><path fill="#721f81" fill-rule="evenodd" d="M6.6,38.3 70.6,38.3 70.6,8.2 68.2,7.1 66.4,5.3 65.4,3.0 64.7,-0.8 13.4,-0.8 14.2,3.0 17.2,11.3 16.4,17.3 16.4,22.5 15.2,25.5 7.0,36.8 6.2,38.3 6.6,38.3Z"/><path fill="#932b80" fill-rule="evenodd" d="M15.1,38.3 70.6,38.3 70.6,12.4 64.5,6.0 60.6,-0.8 19.9,-0.8 19.7,3.8 20.3,11.3 19.4,18.0 19.4,24.0 15.1,38.3Z"/><path fill="#b73779" fill-rule="evenodd" d="M21.1,38.3 70.6,38.3 70.6,20.9 68.2,17.2 64.5,9.0 57.8,2.3 55.6,-0.8 25.5,-0.8 23.4,5.3 21.9,17.3 21.1,38.3Z"/><path fill="#d8456c" fill-rule="evenodd" d="M27.2,38.3 66.7,38.3 65.6,30.8 62.3,19.5 62.1,12.0 61.1,9.8 47.7,-0.8 33.9,-0.8 27.8,4.9 25.9,8.5 24.7,12.8 24.2,22.5 25.9,33.8 27.2,38.3Z"/><path fill="#f1605d" fill-rule="evenodd" d="M33.8,37.8 34.1,38.3 54.6,38.3 56.0,34.5 56.7,27.8 54.7,19.5 53.9,12.8 52.7,10.5 50.0,7.5 47.0,5.3 44.1,3.9 39.8,3.6 35.6,5.0 30.2,8.8 27.5,12.8 27.1,19.5 28.4,26.3 30.2,31.8 33.8,37.8Z"/><path fill="#fc8961" fill-rule="evenodd" d="M39.8,32.4 43.4,32.9 46.9,31.5 49.0,29.3 50.2,25.5 49.6,19.5 47.7,14.3 44.9,10.5 41.6,8.8 38.0,9.5 33.6,12.0 31.5,14.3 30.7,17.3 31.4,22.0 33.8,27.7 36.2,30.4 39.8,32.4Z"/><path fill="#feb078" fill-rule="evenodd" d="M40.4,24.1 42.8,23.7 43.7,22.5 43.9,21.0 42.8,18.4 40.4,17.3 38.3,18.0 37.5,20.3 38.4,22.5 40.4,24.1Z"/></g></g></g><rect x="0" y="0" width="69.40" height="36.85" fill="none" stroke="#3a3a3a" stroke-width="1"/></g>
<text transform="translate(298.30,399.80) scale(1,1.14)" class="t">2005</text>
<g transform="translate(337.50,400.60)"><g transform="scale(1.0000,1.0014)"><g clip-path="url(#pb)"><g clip-path="url(#us)"><path fill="#2c115f" fill-rule="evenodd" d="M-5,-5H75V45H-5Z"/><path fill="#51127c" fill-rule="evenodd" d="M0.0,38.3 70.6,38.3 70.6,-0.8 3.1,-0.8 3.5,5.3 6.9,12.0 6.0,18.0 6.8,21.8 6.4,23.3 4.8,25.5 -0.6,29.2 -0.6,38.3 0.0,38.3Z"/><path fill="#721f81" fill-rule="evenodd" d="M6.6,38.3 70.6,38.3 70.6,8.2 68.2,7.1 66.4,5.3 65.4,3.0 64.7,-0.8 13.5,-0.8 14.2,3.0 17.2,11.3 16.4,17.3 16.4,22.5 15.2,25.5 7.1,36.8 6.3,38.3 6.6,38.3Z"/><path fill="#932b80" fill-rule="evenodd" d="M15.1,38.3 70.6,38.3 70.6,12.4 64.5,6.0 60.6,-0.8 19.9,-0.8 19.7,3.8 20.3,11.3 19.4,18.0 19.4,24.0 15.1,38.3Z"/><path fill="#b73779" fill-rule="evenodd" d="M21.1,38.3 70.6,38.3 70.6,21.0 68.6,18.0 64.4,9.0 57.8,2.3 55.5,-0.8 25.6,-0.8 23.8,3.8 22.9,9.0 21.7,19.5 21.1,38.3Z"/><path fill="#d8456c" fill-rule="evenodd" d="M27.2,38.3 66.5,38.3 65.5,30.8 62.2,19.5 62.1,12.0 61.1,9.8 47.4,-0.8 34.0,-0.8 27.8,4.9 25.9,8.5 24.7,12.8 24.2,22.5 25.9,33.8 27.2,38.3Z"/><path fill="#f1605d" fill-rule="evenodd" d="M33.8,37.6 34.2,38.3 54.5,38.3 55.9,34.5 56.6,27.8 54.8,19.5 53.9,12.8 52.6,10.5 49.9,7.5 47.1,5.3 44.1,4.0 39.8,3.6 35.6,5.0 30.2,8.8 27.5,12.8 27.2,19.7 28.4,26.3 30.2,31.8 33.8,37.6Z"/><path fill="#fc8961" fill-rule="evenodd" d="M39.8,32.5 43.4,32.8 47.1,31.4 49.4,28.5 50.4,24.8 50.0,19.5 48.1,14.3 45.3,10.5 41.6,8.7 38.0,9.4 33.8,11.7 31.5,14.3 30.7,17.3 31.3,21.8 33.3,27.0 36.2,30.5 39.8,32.5Z"/><path fill="#feb078" fill-rule="evenodd" d="M41.0,24.8 42.8,24.6 44.1,23.8 44.8,22.5 45.2,20.3 44.7,18.4 43.4,16.8 40.4,15.7 37.4,17.3 36.7,19.5 38.0,23.0 41.0,24.8Z"/></g></g></g><rect x="0" y="0" width="70.00" height="36.85" fill="none" stroke="#3a3a3a" stroke-width="1"/></g>
<text transform="translate(372.50,399.80) scale(1,1.14)" class="t">2006</text>
<g transform="translate(411.65,400.60)"><g transform="scale(0.9964,1.0014)"><g clip-path="url(#pb)"><g clip-path="url(#us)"><path fill="#2c115f" fill-rule="evenodd" d="M-5,-5H75V45H-5Z"/><path fill="#51127c" fill-rule="evenodd" d="M0.0,38.3 70.6,38.3 70.6,-0.8 3.1,-0.8 3.6,5.7 6.9,12.0 6.0,18.0 6.8,21.8 6.4,23.3 4.8,25.4 -0.6,29.0 -0.6,38.3 0.0,38.3Z"/><path fill="#721f81" fill-rule="evenodd" d="M6.0,38.3 70.6,38.3 70.6,8.2 68.2,7.1 66.4,5.3 65.4,3.0 64.8,-0.8 13.4,-0.8 14.2,3.0 17.2,11.3 16.4,17.3 16.3,23.0 15.1,25.6 6.0,38.3Z"/><path fill="#932b80" fill-rule="evenodd" d="M15.1,38.3 70.6,38.3 70.6,12.4 64.5,6.0 60.7,-0.8 19.9,-0.8 19.7,3.8 20.3,11.3 19.3,24.0 15.1,36.8 14.7,38.3 15.1,38.3Z"/><path fill="#b73779" fill-rule="evenodd" d="M21.1,38.3 70.6,38.3 70.6,20.7 68.2,17.1 64.5,9.0 57.9,2.3 55.7,-0.8 25.5,-0.8 23.4,5.3 21.9,17.3 21.1,38.3Z"/><path fill="#d8456c" fill-rule="evenodd" d="M27.2,38.3 66.9,38.3 65.8,30.8 62.4,19.5 62.1,12.0 61.1,9.8 47.9,-0.8 33.8,-0.8 27.5,5.3 25.9,8.5 24.7,12.8 24.2,22.5 25.8,33.8 26.7,38.3 27.2,38.3Z"/><path fill="#f1605d" fill-rule="evenodd" d="M33.8,37.7 34.1,38.3 54.7,38.3 56.1,34.5 56.7,27.8 54.7,19.5 54.0,12.8 52.8,10.5 50.0,7.5 47.1,5.2 44.1,3.8 39.8,3.5 35.6,5.0 30.2,8.9 27.5,12.8 27.2,20.3 28.8,27.8 30.4,32.3 33.8,37.7Z"/><path fill="#fc8961" fill-rule="evenodd" d="M42.2,32.3 45.9,31.8 48.3,30.2 49.7,27.8 50.1,24.8 48.9,18.1 47.1,13.7 44.1,10.0 41.0,8.9 36.8,10.3 32.9,12.8 31.2,15.0 30.7,18.0 32.5,24.0 35.0,28.3 38.6,31.2 42.2,32.3Z"/></g></g></g><rect x="0" y="0" width="69.75" height="36.85" fill="none" stroke="#3a3a3a" stroke-width="1"/></g>
<text transform="translate(446.52,399.80) scale(1,1.14)" class="t">2007</text>
<g transform="translate(40.60,448.70)"><g transform="scale(1.0014,0.9946)"><g clip-path="url(#pb)"><g clip-path="url(#us)"><path fill="#51127c" fill-rule="evenodd" d="M-5,-5H75V45H-5Z"/><path fill="#721f81" fill-rule="evenodd" d="M1.8,38.3 70.6,38.3 70.6,8.1 68.2,7.1 66.3,5.3 64.4,-0.8 10.1,-0.8 11.1,3.8 14.7,11.3 14.9,22.5 13.3,25.3 2.3,36.8 1.3,38.3 1.8,38.3Z"/><path fill="#932b80" fill-rule="evenodd" d="M13.3,38.3 70.6,38.3 70.6,12.0 64.5,6.0 60.2,-0.8 18.9,-0.8 18.8,3.8 19.6,11.3 18.9,17.3 18.9,24.0 13.3,38.3Z"/><path fill="#b73779" fill-rule="evenodd" d="M20.5,38.3 70.6,38.3 70.6,19.0 64.0,8.3 54.7,-0.8 25.3,-0.8 23.4,4.5 21.8,15.0 20.5,38.3Z"/><path fill="#d8456c" fill-rule="evenodd" d="M26.6,38.3 67.9,38.3 66.7,29.3 61.7,10.5 51.3,3.1 42.9,-0.8 36.7,-0.8 29.6,3.1 26.6,7.1 25.0,11.3 24.3,15.0 24.2,22.5 26.6,38.3Z"/><path fill="#f1605d" fill-rule="evenodd" d="M33.8,38.0 55.0,38.3 57.2,33.0 58.1,28.5 58.1,24.8 56.9,15.8 55.4,12.0 50.7,8.2 44.1,5.8 37.4,5.6 34.4,6.5 31.4,8.1 27.8,12.0 27.1,14.3 27.1,18.0 28.2,25.5 30.2,32.0 33.8,38.0Z"/><path fill="#fc8961" fill-rule="evenodd" d="M39.8,32.3 44.1,32.5 47.6,30.8 50.2,27.8 51.7,23.3 51.6,18.0 50.2,14.3 47.1,12.0 42.8,10.8 38.6,10.7 35.0,11.7 32.0,13.9 30.8,16.5 31.1,21.0 33.4,27.0 36.2,30.3 39.8,32.3Z"/><path fill="#feb078" fill-rule="evenodd" d="M39.2,24.1 42.2,24.7 44.7,23.3 45.6,20.3 45.3,18.7 44.1,17.2 42.2,16.4 40.4,16.3 37.4,18.0 37.0,21.0 39.2,24.1Z"/></g></g></g><rect x="0" y="0" width="70.10" height="36.60" fill="none" stroke="#3a3a3a" stroke-width="1"/></g>
<text transform="translate(75.65,447.90) scale(1,1.14)" class="t">2008</text>
<line x1="36.90" x2="40.60" y1="455.42" y2="455.42" class="k"/>
<line x1="36.90" x2="40.60" y1="462.89" y2="462.89" class="k"/>
<line x1="36.90" x2="40.60" y1="470.36" y2="470.36" class="k"/>
<line x1="36.90" x2="40.60" y1="477.83" y2="477.83" class="k"/>
<line x1="36.90" x2="40.60" y1="485.30" y2="485.30" class="k"/>
<g transform="translate(115.30,448.70)"><g transform="scale(1.0000,0.9946)"><g clip-path="url(#pb)"><g clip-path="url(#us)"><path fill="#2c115f" fill-rule="evenodd" d="M-5,-5H75V45H-5Z"/><path fill="#51127c" fill-rule="evenodd" d="M0.0,38.3 70.6,38.3 70.6,6.2 68.8,5.7 67.5,4.5 67.0,2.3 67.2,-0.8 -0.6,-0.8 -0.6,38.3 0.0,38.3Z"/><path fill="#721f81" fill-rule="evenodd" d="M0.0,38.3 70.6,38.3 70.6,9.6 68.2,8.2 65.9,6.0 64.3,3.0 63.2,-0.8 10.2,-0.8 11.1,3.8 14.7,11.3 14.9,22.5 12.6,25.5 -0.6,37.2 -0.6,38.3 0.0,38.3Z"/><path fill="#932b80" fill-rule="evenodd" d="M12.1,38.3 70.6,38.3 70.6,13.8 62.5,4.5 59.3,-0.8 18.9,-0.8 18.8,3.8 19.6,11.3 18.8,24.0 12.1,36.8 11.5,38.3 12.1,38.3Z"/><path fill="#b73779" fill-rule="evenodd" d="M18.7,38.3 70.6,38.3 70.6,21.9 68.2,18.2 63.8,9.0 57.6,3.0 54.5,-0.8 25.2,-0.8 23.2,5.3 21.7,16.5 21.2,25.5 18.7,38.3Z"/><path fill="#d8456c" fill-rule="evenodd" d="M24.7,38.3 66.3,38.3 65.3,27.8 62.0,12.8 61.0,10.5 46.7,-0.8 34.2,-0.8 27.8,5.0 24.8,12.0 24.0,20.3 23.9,30.8 24.3,38.3 24.7,38.3Z"/><path fill="#f1605d" fill-rule="evenodd" d="M30.8,38.3 54.8,38.3 57.4,31.5 58.3,27.0 56.6,14.3 55.6,12.0 53.5,9.8 46.5,4.9 41.6,3.6 37.0,4.5 31.0,8.3 27.8,12.0 27.0,16.5 27.3,27.8 28.4,33.1 30.8,38.3Z"/><path fill="#fc8961" fill-rule="evenodd" d="M38.0,34.6 42.2,35.2 46.5,33.8 50.7,29.7 52.7,25.5 52.7,20.3 50.9,15.0 47.7,11.6 42.8,9.0 39.8,9.1 35.0,11.3 32.0,13.8 30.7,16.5 30.8,22.5 32.0,29.3 34.4,32.3 38.0,34.6Z"/><path fill="#feb078" fill-rule="evenodd" d="M42.2,26.4 45.9,26.3 47.7,24.4 47.8,21.0 45.9,19.0 41.6,18.7 39.1,20.3 38.7,21.8 39.3,24.0 40.5,25.5 42.2,26.4Z"/></g></g></g><rect x="0" y="0" width="70.00" height="36.60" fill="none" stroke="#3a3a3a" stroke-width="1"/></g>
<text transform="translate(150.30,447.90) scale(1,1.14)" class="t">2009</text>
<g transform="translate(189.50,448.70)"><g transform="scale(0.9957,0.9946)"><g clip-path="url(#pb)"><g clip-path="url(#us)"><path fill="#2c115f" fill-rule="evenodd" d="M-5,-5H75V45H-5Z"/><path fill="#51127c" fill-rule="evenodd" d="M0.0,38.3 70.6,38.3 70.6,6.2 68.8,5.7 67.5,4.5 67.0,2.3 67.3,-0.8 -0.6,-0.8 -0.6,38.3 0.0,38.3Z"/><path fill="#721f81" fill-rule="evenodd" d="M0.0,38.3 70.6,38.3 70.6,9.7 68.2,8.3 65.9,6.0 64.3,3.0 63.2,-0.8 10.1,-0.8 11.1,3.8 14.7,11.3 14.9,22.5 12.1,26.0 -0.6,37.1 -0.6,38.3 0.0,38.3Z"/><path fill="#932b80" fill-rule="evenodd" d="M11.5,38.3 70.6,38.3 70.6,14.3 62.5,4.5 59.4,-0.8 18.8,-0.8 18.8,3.8 19.6,11.3 18.8,24.0 11.5,38.3Z"/><path fill="#b73779" fill-rule="evenodd" d="M18.7,38.3 70.6,38.3 70.6,24.1 67.9,19.5 63.7,9.0 57.5,3.0 54.4,-0.8 25.2,-0.8 23.2,5.3 21.7,16.5 21.2,25.5 18.7,38.3Z"/><path fill="#d8456c" fill-rule="evenodd" d="M24.7,38.3 65.3,38.3 64.4,30.0 61.5,18.8 61.5,12.8 60.9,10.5 46.4,-0.8 34.1,-0.8 27.8,5.0 24.8,12.0 24.0,20.3 23.9,31.5 24.2,38.3 24.7,38.3Z"/><path fill="#f1605d" fill-rule="evenodd" d="M30.8,38.3 54.6,38.3 56.6,31.5 57.0,27.8 54.2,13.5 53.0,11.3 50.3,8.3 44.7,4.4 40.4,3.7 36.2,4.8 30.8,8.4 27.8,12.0 27.0,16.5 27.3,27.8 28.4,33.2 30.8,38.3Z"/><path fill="#fc8961" fill-rule="evenodd" d="M39.8,35.4 44.1,35.2 47.7,33.1 51.1,28.5 52.0,24.8 51.4,20.3 49.5,16.3 45.3,11.0 43.4,9.6 41.6,8.9 38.0,9.8 33.2,12.6 31.2,15.0 30.5,18.0 31.1,25.5 32.0,29.4 35.6,33.5 39.8,35.4Z"/><path fill="#feb078" fill-rule="evenodd" d="M41.0,26.4 44.1,26.9 46.8,25.5 47.7,22.5 46.5,19.9 42.8,18.7 40.7,18.8 39.2,19.5 38.4,21.0 38.5,23.3 39.2,24.8 41.0,26.4Z"/></g></g></g><rect x="0" y="0" width="69.70" height="36.60" fill="none" stroke="#3a3a3a" stroke-width="1"/></g>
<text transform="translate(224.35,447.90) scale(1,1.14)" class="t">2010</text>
<g transform="translate(263.60,448.70)"><g transform="scale(0.9914,0.9946)"><g clip-path="url(#pb)"><g clip-path="url(#us)"><path fill="#51127c" fill-rule="evenodd" d="M-5,-5H75V45H-5Z"/><path fill="#721f81" fill-rule="evenodd" d="M0.0,38.3 70.6,38.3 70.6,8.2 68.2,7.1 66.4,5.3 65.3,3.0 64.7,-0.8 10.0,-0.8 11.0,3.8 14.7,11.3 14.9,22.5 12.7,25.4 -0.6,37.4 -0.6,38.3 0.0,38.3Z"/><path fill="#932b80" fill-rule="evenodd" d="M12.1,38.3 70.6,38.3 70.6,12.1 64.5,6.0 60.6,-0.8 18.8,-0.8 19.6,11.3 18.8,24.0 12.2,36.8 11.6,38.3 12.1,38.3Z"/><path fill="#b73779" fill-rule="evenodd" d="M18.7,38.3 70.6,38.3 70.6,19.5 68.8,17.1 64.5,9.0 58.6,3.0 55.7,-0.8 25.1,-0.8 23.2,5.3 21.7,16.5 21.2,25.5 18.7,38.3Z"/><path fill="#d8456c" fill-rule="evenodd" d="M24.7,38.3 67.6,38.3 66.3,28.5 61.6,10.3 47.9,-0.8 33.8,-0.8 27.8,4.9 24.8,12.0 24.0,20.3 23.9,30.8 24.3,38.3 24.7,38.3Z"/><path fill="#f1605d" fill-rule="evenodd" d="M30.8,38.3 55.3,38.3 57.6,31.5 58.4,27.0 56.6,14.3 55.6,12.0 53.8,9.8 47.1,4.9 42.2,3.5 37.4,4.2 31.4,8.0 27.8,12.0 27.0,16.5 27.3,27.8 28.4,33.1 30.8,38.3Z"/><path fill="#fc8961" fill-rule="evenodd" d="M40.4,35.4 44.1,35.1 47.7,33.0 51.4,28.5 52.7,24.0 51.9,18.1 50.4,14.3 46.5,10.7 42.2,8.8 38.0,9.8 33.2,12.6 31.2,15.0 30.5,18.0 31.2,26.3 32.3,30.0 36.2,33.8 40.4,35.4Z"/><path fill="#feb078" fill-rule="evenodd" d="M41.0,26.4 44.1,27.0 46.7,25.5 47.3,24.0 47.2,21.8 45.3,19.3 41.0,18.6 38.6,20.2 38.3,21.8 38.7,24.0 41.0,26.4Z"/></g></g></g><rect x="0" y="0" width="69.40" height="36.60" fill="none" stroke="#3a3a3a" stroke-width="1"/></g>
<text transform="translate(298.30,447.90) scale(1,1.14)" class="t">2011</text>
<g transform="translate(337.50,448.70)"><g transform="scale(1.0000,0.9946)"><g clip-path="url(#pb)"><g clip-path="url(#us)"><path fill="#51127c" fill-rule="evenodd" d="M-5,-5H75V45H-5Z"/><path fill="#721f81" fill-rule="evenodd" d="M1.2,38.3 70.6,38.3 70.6,8.1 68.2,7.1 66.3,5.3 64.5,-0.8 10.0,-0.8 11.0,3.8 14.7,11.3 14.9,22.5 13.3,25.2 1.2,38.3Z"/><path fill="#932b80" fill-rule="evenodd" d="M13.3,38.3 70.6,38.3 70.6,12.1 64.5,6.0 60.3,-0.8 18.8,-0.8 19.6,11.3 18.8,17.3 18.9,24.0 13.3,38.3Z"/><path fill="#b73779" fill-rule="evenodd" d="M20.5,38.3 70.6,38.3 70.6,19.2 64.0,8.3 54.8,-0.8 25.2,-0.8 23.4,4.5 21.8,15.0 21.4,27.0 20.1,38.3 20.5,38.3Z"/><path fill="#d8456c" fill-rule="evenodd" d="M26.6,38.3 67.4,38.3 66.3,27.8 61.6,10.3 51.9,3.4 44.0,-0.8 35.9,-0.8 29.6,3.1 26.6,7.1 25.0,11.3 24.3,15.0 24.2,22.5 25.6,34.5 26.2,38.3 26.6,38.3Z"/><path fill="#f1605d" fill-rule="evenodd" d="M33.2,37.9 33.4,38.3 54.6,38.3 58.2,30.8 58.9,25.5 56.3,13.5 54.8,11.3 52.5,9.4 45.3,6.0 39.2,5.4 33.2,7.1 30.2,9.2 28.3,11.3 27.1,15.0 27.5,22.5 29.6,30.8 33.2,37.9Z"/><path fill="#fc8961" fill-rule="evenodd" d="M41.0,33.9 44.1,34.3 46.5,33.6 51.3,29.8 53.5,25.5 53.0,20.3 51.3,15.7 48.9,13.6 41.6,12.1 35.6,12.4 33.2,13.3 31.4,15.0 30.7,17.3 31.0,19.5 33.2,25.9 35.0,29.3 37.9,32.3 41.0,33.9Z"/><path fill="#feb078" fill-rule="evenodd" d="M43.4,27.1 45.9,27.7 48.3,26.2 49.1,23.3 48.9,21.8 47.7,20.2 45.3,20.1 41.8,22.5 41.5,24.8 43.4,27.1Z"/></g></g></g><rect x="0" y="0" width="70.00" height="36.60" fill="none" stroke="#3a3a3a" stroke-width="1"/></g>
<text transform="translate(372.50,447.90) scale(1,1.14)" class="t">2012</text>
<g transform="translate(411.65,448.70)"><g transform="scale(0.9964,0.9946)"><g clip-path="url(#pb)"><g clip-path="url(#us)"><path fill="#51127c" fill-rule="evenodd" d="M-5,-5H75V45H-5Z"/><path fill="#721f81" fill-rule="evenodd" d="M1.2,38.3 70.6,38.3 70.6,8.2 68.2,7.1 66.4,5.3 65.4,3.0 64.8,-0.8 9.9,-0.8 11.0,3.8 14.7,11.3 14.9,22.5 13.3,25.2 1.9,36.8 0.8,38.3 1.2,38.3Z"/><path fill="#932b80" fill-rule="evenodd" d="M13.3,38.3 70.6,38.3 70.6,12.4 64.5,6.0 60.7,-0.8 18.7,-0.8 19.6,11.3 18.9,17.3 18.9,24.0 17.5,28.1 13.4,36.8 12.9,38.3 13.3,38.3Z"/><path fill="#b73779" fill-rule="evenodd" d="M20.5,38.3 70.6,38.3 70.6,20.8 68.2,17.2 64.5,9.0 58.6,3.0 55.7,-0.8 25.0,-0.8 23.4,4.5 21.8,15.8 21.4,27.0 19.9,38.3 20.5,38.3Z"/><path fill="#d8456c" fill-rule="evenodd" d="M26.6,38.3 66.9,38.3 65.7,30.8 62.3,19.5 62.1,12.0 61.1,9.8 48.0,-0.8 33.5,-0.8 27.8,4.9 24.6,12.8 24.1,21.8 25.5,34.5 26.1,38.3 26.6,38.3Z"/><path fill="#f1605d" fill-rule="evenodd" d="M33.8,38.3 54.8,38.3 56.1,34.5 56.7,27.8 54.7,19.5 54.0,12.8 52.8,10.5 50.1,7.5 47.1,5.2 44.1,3.8 39.8,3.5 35.6,5.0 30.2,8.9 27.5,12.8 27.1,19.5 28.9,28.5 30.6,33.0 33.8,38.3Z"/><path fill="#fc8961" fill-rule="evenodd" d="M42.2,32.4 45.3,32.1 48.3,30.2 49.7,27.8 50.1,24.8 48.9,18.1 47.1,13.7 44.1,10.0 41.0,9.0 36.8,10.3 33.0,12.8 31.2,15.0 30.7,18.0 32.6,24.0 35.0,28.2 38.6,31.2 42.2,32.4Z"/></g></g></g><rect x="0" y="0" width="69.75" height="36.60" fill="none" stroke="#3a3a3a" stroke-width="1"/></g>
<text transform="translate(446.52,447.90) scale(1,1.14)" class="t">2013</text>
<g transform="translate(40.60,496.45)"><g transform="scale(1.0014,0.9959)"><g clip-path="url(#pb)"><g clip-path="url(#us)"><path fill="#51127c" fill-rule="evenodd" d="M-5,-5H75V45H-5Z"/><path fill="#721f81" fill-rule="evenodd" d="M0.6,38.3 70.6,38.3 70.6,8.1 68.2,7.1 66.4,5.3 65.4,3.0 64.8,-0.8 9.6,-0.8 10.7,3.8 14.6,11.3 14.9,22.5 13.3,25.1 1.5,36.8 0.2,38.3 0.6,38.3Z"/><path fill="#932b80" fill-rule="evenodd" d="M12.7,38.3 70.6,38.3 70.6,12.0 68.2,10.2 64.5,6.0 60.8,-0.8 18.4,-0.8 19.7,11.3 18.8,24.0 12.7,38.3Z"/><path fill="#b73779" fill-rule="evenodd" d="M19.9,38.3 70.6,38.3 70.6,19.1 68.8,16.8 64.5,9.0 58.7,3.0 56.0,-0.8 24.7,-0.8 23.2,5.3 19.9,38.3Z"/><path fill="#d8456c" fill-rule="evenodd" d="M25.9,38.3 68.2,38.3 66.9,29.3 61.6,10.2 48.7,-0.8 33.1,-0.8 27.8,5.1 25.1,12.8 24.2,22.5 25.9,38.3Z"/><path fill="#f1605d" fill-rule="evenodd" d="M33.8,38.3 55.3,38.3 57.1,33.8 58.2,26.3 56.4,13.5 55.2,11.3 52.4,8.3 48.9,5.6 45.3,3.9 41.0,3.3 36.7,4.5 31.8,8.3 28.6,12.8 27.9,20.3 28.7,27.8 30.2,32.4 33.8,38.3Z"/><path fill="#fc8961" fill-rule="evenodd" d="M41.0,31.7 44.7,31.9 48.3,30.2 50.6,27.0 51.3,23.3 51.0,17.3 50.1,14.2 46.5,10.7 42.2,9.0 39.6,9.8 36.2,12.2 33.9,15.0 33.0,18.0 33.4,22.5 35.0,27.0 37.4,29.8 41.0,31.7Z"/></g></g></g><rect x="0" y="0" width="70.10" height="36.65" fill="none" stroke="#3a3a3a" stroke-width="1"/></g>
<text transform="translate(75.65,495.65) scale(1,1.14)" class="t">2014</text>
<line x1="36.90" x2="40.60" y1="503.18" y2="503.18" class="k"/>
<text transform="translate(34.00,506.08) scale(0.98,1.12)" class="yl">45&#176;N</text>
<line x1="36.90" x2="40.60" y1="510.66" y2="510.66" class="k"/>
<text transform="translate(34.00,513.56) scale(0.98,1.12)" class="yl">40&#176;N</text>
<line x1="36.90" x2="40.60" y1="518.14" y2="518.14" class="k"/>
<text transform="translate(34.00,521.04) scale(0.98,1.12)" class="yl">35&#176;N</text>
<line x1="36.90" x2="40.60" y1="525.62" y2="525.62" class="k"/>
<text transform="translate(34.00,528.52) scale(0.98,1.12)" class="yl">30&#176;N</text>
<line x1="36.90" x2="40.60" y1="533.10" y2="533.10" class="k"/>
<line x1="46.64" x2="46.64" y1="533.10" y2="537.10" class="k"/>
<text transform="translate(46.64,547.10) scale(1.0,1.15)" class="xl">120&#176;W</text>
<line x1="58.73" x2="58.73" y1="533.10" y2="537.10" class="k"/>
<line x1="70.82" x2="70.82" y1="533.10" y2="537.10" class="k"/>
<text transform="translate(70.82,547.10) scale(1.0,1.15)" class="xl">100&#176;W</text>
<line x1="82.90" x2="82.90" y1="533.10" y2="537.10" class="k"/>
<line x1="94.99" x2="94.99" y1="533.10" y2="537.10" class="k"/>
<text transform="translate(94.99,547.10) scale(1.0,1.15)" class="xl">80&#176;W</text>
<line x1="107.07" x2="107.07" y1="533.10" y2="537.10" class="k"/>
<g transform="translate(115.30,496.45)"><g transform="scale(1.0000,0.9959)"><g clip-path="url(#pb)"><g clip-path="url(#us)"><path fill="#51127c" fill-rule="evenodd" d="M-5,-5H75V45H-5Z"/><path fill="#721f81" fill-rule="evenodd" d="M0.0,38.3 70.6,38.3 70.6,8.0 68.2,7.0 66.3,5.3 64.4,-0.8 10.1,-0.8 11.0,3.8 14.7,11.3 14.9,22.5 13.3,24.8 9.1,28.7 -0.6,36.6 -0.6,38.3 0.0,38.3Z"/><path fill="#932b80" fill-rule="evenodd" d="M11.5,38.3 70.6,38.3 70.6,11.8 67.6,9.4 64.5,6.0 60.1,-0.8 18.8,-0.8 18.8,3.8 19.6,11.3 18.8,24.0 17.5,27.1 11.8,36.8 11.5,38.3Z"/><path fill="#b73779" fill-rule="evenodd" d="M18.7,38.3 70.6,38.3 70.6,18.2 64.0,8.3 57.1,2.3 54.4,-0.8 25.2,-0.8 23.2,5.3 21.7,16.5 21.2,25.5 18.5,36.8 18.3,38.3 18.7,38.3Z"/><path fill="#d8456c" fill-rule="evenodd" d="M24.1,38.3 69.7,38.3 67.6,29.3 61.8,10.5 50.1,2.7 43.3,-0.8 36.0,-0.8 30.2,2.6 27.2,5.9 24.6,12.8 23.9,21.8 24.1,38.3Z"/><path fill="#f1605d" fill-rule="evenodd" d="M30.2,37.6 30.4,38.3 56.4,38.3 58.2,30.8 58.3,24.8 56.2,15.8 53.7,12.0 46.5,7.0 41.0,5.4 37.4,5.6 34.4,6.5 31.4,8.2 29.0,10.3 27.1,14.3 27.0,24.0 27.8,31.3 30.2,37.6Z"/><path fill="#fc8961" fill-rule="evenodd" d="M38.6,33.8 42.8,34.0 46.5,32.3 49.8,28.5 50.7,24.8 49.7,20.3 46.8,15.8 42.8,12.8 38.6,11.9 35.0,12.5 32.6,13.7 31.0,15.8 30.6,18.0 32.2,29.3 35.0,32.1 38.6,33.8Z"/></g></g></g><rect x="0" y="0" width="70.00" height="36.65" fill="none" stroke="#3a3a3a" stroke-width="1"/></g>
<text transform="translate(150.30,495.65) scale(1,1.14)" class="t">2015</text>
<line x1="121.33" x2="121.33" y1="533.10" y2="537.10" class="k"/>
<line x1="133.40" x2="133.40" y1="533.10" y2="537.10" class="k"/>
<line x1="145.47" x2="145.47" y1="533.10" y2="537.10" class="k"/>
<line x1="157.54" x2="157.54" y1="533.10" y2="537.10" class="k"/>
<line x1="169.61" x2="169.61" y1="533.10" y2="537.10" class="k"/>
<line x1="181.68" x2="181.68" y1="533.10" y2="537.10" class="k"/>
<g transform="translate(189.50,496.45)"><g transform="scale(0.9957,0.9959)"><g clip-path="url(#pb)"><g clip-path="url(#us)"><path fill="#51127c" fill-rule="evenodd" d="M-5,-5H75V45H-5Z"/><path fill="#721f81" fill-rule="evenodd" d="M0.0,38.3 70.6,38.3 70.6,8.3 68.2,7.1 66.4,5.3 65.4,3.0 64.8,-0.8 10.0,-0.8 11.0,3.8 14.7,11.3 14.9,22.5 10.9,27.1 -0.6,37.0 -0.6,38.3 0.0,38.3Z"/><path fill="#932b80" fill-rule="evenodd" d="M11.5,38.3 70.6,38.3 70.6,12.4 64.5,6.0 60.7,-0.8 18.7,-0.8 19.6,11.3 18.8,24.0 11.5,38.3Z"/><path fill="#b73779" fill-rule="evenodd" d="M18.7,38.3 70.6,38.3 70.6,21.1 68.2,17.4 64.4,9.0 57.9,2.3 55.7,-0.8 25.0,-0.8 23.2,5.3 21.7,16.5 21.2,25.5 18.6,36.8 18.7,38.3Z"/><path fill="#d8456c" fill-rule="evenodd" d="M24.1,38.3 66.8,38.3 65.6,30.8 62.3,19.5 62.0,12.0 61.1,9.8 47.9,-0.8 33.5,-0.8 27.8,4.9 24.8,12.0 23.9,21.8 24.1,38.3Z"/><path fill="#f1605d" fill-rule="evenodd" d="M30.2,37.9 30.3,38.3 55.2,38.3 56.7,31.8 57.0,27.8 54.7,18.8 54.2,13.5 53.2,11.3 50.7,8.3 45.3,4.3 41.0,3.4 36.8,4.4 30.8,8.4 27.8,12.0 27.0,15.8 27.2,27.0 28.0,32.3 30.2,37.9Z"/><path fill="#fc8961" fill-rule="evenodd" d="M39.2,35.3 42.8,35.6 46.5,34.2 50.1,30.2 51.4,26.3 50.7,21.8 47.7,14.8 44.7,10.7 41.6,9.0 38.0,9.9 33.8,12.2 31.7,14.3 30.6,17.3 31.1,24.8 32.0,29.3 35.0,33.0 39.2,35.3Z"/></g></g></g><rect x="0" y="0" width="69.70" height="36.65" fill="none" stroke="#3a3a3a" stroke-width="1"/></g>
<text transform="translate(224.35,495.65) scale(1,1.14)" class="t">2016</text>
<line x1="195.51" x2="195.51" y1="533.10" y2="537.10" class="k"/>
<text transform="translate(195.51,547.10) scale(1.0,1.15)" class="xl">120&#176;W</text>
<line x1="207.53" x2="207.53" y1="533.10" y2="537.10" class="k"/>
<line x1="219.54" x2="219.54" y1="533.10" y2="537.10" class="k"/>
<text transform="translate(219.54,547.10) scale(1.0,1.15)" class="xl">100&#176;W</text>
<line x1="231.56" x2="231.56" y1="533.10" y2="537.10" class="k"/>
<line x1="243.58" x2="243.58" y1="533.10" y2="537.10" class="k"/>
<text transform="translate(243.58,547.10) scale(1.0,1.15)" class="xl">80&#176;W</text>
<line x1="255.59" x2="255.59" y1="533.10" y2="537.10" class="k"/>
<g transform="translate(263.60,496.45)"><g transform="scale(0.9914,0.9959)"><g clip-path="url(#pb)"><g clip-path="url(#us)"><path fill="#51127c" fill-rule="evenodd" d="M-5,-5H75V45H-5Z"/><path fill="#721f81" fill-rule="evenodd" d="M0.0,38.3 70.6,38.3 70.6,8.2 68.2,7.1 66.3,5.3 64.6,-0.8 10.0,-0.8 11.0,3.8 14.7,11.3 14.9,22.5 13.3,24.8 9.1,28.7 -0.6,36.6 -0.6,38.3 0.0,38.3Z"/><path fill="#932b80" fill-rule="evenodd" d="M11.5,38.3 70.6,38.3 70.6,12.2 64.5,6.0 60.3,-0.8 18.8,-0.8 19.6,11.3 18.8,24.0 17.5,27.1 11.8,36.8 11.5,38.3Z"/><path fill="#b73779" fill-rule="evenodd" d="M18.7,38.3 70.6,38.3 70.6,20.4 68.8,17.9 64.0,8.3 54.8,-0.8 25.2,-0.8 23.2,5.3 21.7,16.5 21.2,25.5 18.5,36.8 18.2,38.3 18.7,38.3Z"/><path fill="#d8456c" fill-rule="evenodd" d="M24.1,38.3 67.8,38.3 66.3,31.5 62.5,19.5 62.2,12.3 61.6,10.4 51.3,3.2 44.1,-0.8 35.6,-0.8 30.2,2.6 27.2,5.9 24.6,12.8 23.9,21.8 24.1,38.3Z"/><path fill="#f1605d" fill-rule="evenodd" d="M30.2,37.8 30.4,38.3 55.7,38.3 56.7,33.0 56.8,28.5 54.6,19.5 54.2,14.3 52.7,11.3 49.0,8.3 43.4,5.7 38.0,5.5 32.6,7.4 28.2,11.3 27.0,15.0 27.1,26.3 28.0,32.3 30.2,37.8Z"/><path fill="#fc8961" fill-rule="evenodd" d="M38.0,33.9 42.2,34.4 45.9,33.0 48.9,29.8 50.0,26.3 48.9,20.5 46.7,15.8 43.4,13.0 39.8,11.9 36.2,12.1 33.2,13.3 31.4,15.0 30.6,17.3 31.4,26.3 32.2,29.3 34.4,31.8 38.0,33.9Z"/></g></g></g><rect x="0" y="0" width="69.40" height="36.65" fill="none" stroke="#3a3a3a" stroke-width="1"/></g>
<text transform="translate(298.30,495.65) scale(1,1.14)" class="t">2017</text>
<line x1="269.58" x2="269.58" y1="533.10" y2="537.10" class="k"/>
<line x1="281.55" x2="281.55" y1="533.10" y2="537.10" class="k"/>
<line x1="293.51" x2="293.51" y1="533.10" y2="537.10" class="k"/>
<line x1="305.48" x2="305.48" y1="533.10" y2="537.10" class="k"/>
<line x1="317.44" x2="317.44" y1="533.10" y2="537.10" class="k"/>
<line x1="329.41" x2="329.41" y1="533.10" y2="537.10" class="k"/>
<g transform="translate(337.50,496.45)"><g transform="scale(1.0000,0.9959)"><g clip-path="url(#pb)"><g clip-path="url(#us)"><path fill="#721f81" fill-rule="evenodd" d="M-5,-5H75V45H-5Z"/><path fill="#932b80" fill-rule="evenodd" d="M0.0,38.3 70.6,38.3 70.6,9.3 68.2,8.0 66.0,6.0 64.0,3.0 62.5,-0.8 11.0,-0.8 11.5,4.5 14.4,12.0 14.7,22.5 8.4,29.6 -0.6,37.8 -0.6,38.3 0.0,38.3Z"/><path fill="#b73779" fill-rule="evenodd" d="M13.9,38.3 70.6,38.3 70.6,16.4 68.2,14.0 64.5,8.3 58.7,3.8 55.4,-0.8 21.9,-0.8 20.7,5.3 20.0,15.8 20.1,24.0 13.9,38.3Z"/><path fill="#d8456c" fill-rule="evenodd" d="M21.7,38.3 70.6,38.3 70.6,32.3 62.2,19.0 57.3,13.5 53.1,6.9 49.5,2.8 45.0,-0.8 33.3,-0.8 27.2,4.0 23.8,10.5 23.1,15.0 23.6,24.0 21.7,38.3Z"/><path fill="#f1605d" fill-rule="evenodd" d="M29.0,38.3 57.7,38.3 57.5,30.8 55.4,24.0 48.7,11.3 45.9,7.7 43.4,5.9 39.8,5.1 35.0,6.1 29.0,9.0 26.5,12.0 26.0,15.0 27.1,30.8 29.0,38.3Z"/><path fill="#fc8961" fill-rule="evenodd" d="M36.8,32.4 40.4,32.8 43.4,31.6 45.6,29.3 46.4,26.3 45.6,23.3 41.5,14.3 39.2,12.4 35.6,11.8 32.6,12.4 30.8,13.5 29.8,15.0 29.5,17.3 32.4,29.3 33.8,30.9 36.8,32.4Z"/></g></g></g><rect x="0" y="0" width="70.00" height="36.65" fill="none" stroke="#3a3a3a" stroke-width="1"/></g>
<text transform="translate(372.50,495.65) scale(1,1.14)" class="t">2018</text>
<line x1="343.53" x2="343.53" y1="533.10" y2="537.10" class="k"/>
<text transform="translate(343.53,547.10) scale(1.0,1.15)" class="xl">120&#176;W</text>
<line x1="355.60" x2="355.60" y1="533.10" y2="537.10" class="k"/>
<line x1="367.67" x2="367.67" y1="533.10" y2="537.10" class="k"/>
<text transform="translate(367.67,547.10) scale(1.0,1.15)" class="xl">100&#176;W</text>
<line x1="379.74" x2="379.74" y1="533.10" y2="537.10" class="k"/>
<line x1="391.81" x2="391.81" y1="533.10" y2="537.10" class="k"/>
<text transform="translate(391.81,547.10) scale(1.0,1.15)" class="xl">80&#176;W</text>
<line x1="403.88" x2="403.88" y1="533.10" y2="537.10" class="k"/>
<rect x="485.30" y="9.20" width="10.60" height="40.61" fill="#fcfdbf"/>
<rect x="485.30" y="49.51" width="10.60" height="40.61" fill="#fed799"/>
<rect x="485.30" y="89.82" width="10.60" height="40.61" fill="#feb078"/>
<rect x="485.30" y="130.12" width="10.60" height="40.61" fill="#fc8961"/>
<rect x="485.30" y="170.43" width="10.60" height="40.61" fill="#f1605d"/>
<rect x="485.30" y="210.74" width="10.60" height="40.61" fill="#d8456c"/>
<rect x="485.30" y="251.05" width="10.60" height="40.61" fill="#b73779"/>
<rect x="485.30" y="291.35" width="10.60" height="40.61" fill="#932b80"/>
<rect x="485.30" y="331.66" width="10.60" height="40.61" fill="#721f81"/>
<rect x="485.30" y="371.97" width="10.60" height="40.61" fill="#51127c"/>
<rect x="485.30" y="412.28" width="10.60" height="40.61" fill="#2c115f"/>
<rect x="485.30" y="452.58" width="10.60" height="40.61" fill="#100b2d"/>
<rect x="485.30" y="492.89" width="10.60" height="40.61" fill="#000004"/>
<rect x="485.30" y="9.20" width="10.60" height="524.00" fill="none" stroke="#444" stroke-width="1"/>
<line x1="495.90" x2="499.10" y1="9.20" y2="9.20" class="k"/>
<text x="500.90" y="12.70" class="cl">6</text>
<line x1="495.90" x2="499.10" y1="89.82" y2="89.82" class="k"/>
<text x="500.90" y="93.32" class="cl">4</text>
<line x1="495.90" x2="499.10" y1="170.43" y2="170.43" class="k"/>
<text x="500.90" y="173.93" class="cl">2</text>
<line x1="495.90" x2="499.10" y1="251.05" y2="251.05" class="k"/>
<text x="500.90" y="254.55" class="cl">0</text>
<line x1="495.90" x2="499.10" y1="331.66" y2="331.66" class="k"/>
<text x="500.90" y="335.16" class="cl">-2</text>
<line x1="495.90" x2="499.10" y1="412.28" y2="412.28" class="k"/>
<text x="500.90" y="415.78" class="cl">-4</text>
<line x1="495.90" x2="499.10" y1="492.89" y2="492.89" class="k"/>
<text x="500.90" y="496.39" class="cl">-6</text>
</svg></body></html>
